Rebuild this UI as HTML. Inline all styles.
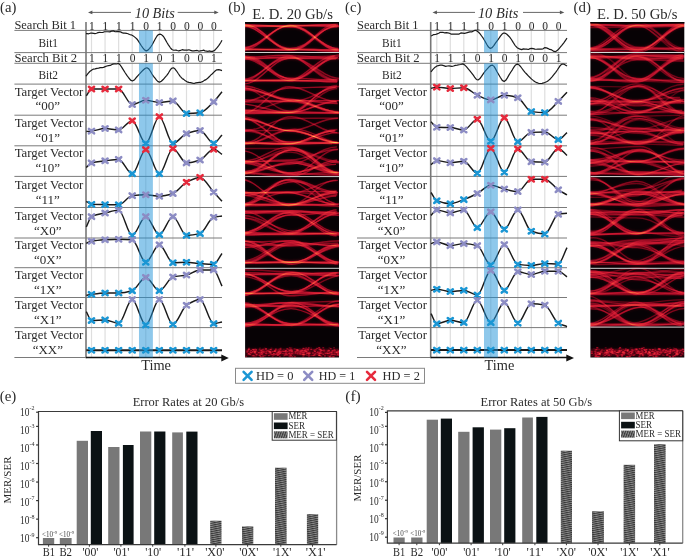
<!DOCTYPE html><html><head><meta charset="utf-8"><style>html,body{margin:0;padding:0;background:#fff;overflow:hidden}svg{display:block;will-change:transform}text{font-family:"Liberation Serif",serif}</style></head><body><svg width="685" height="557" viewBox="0 0 685 557" font-family="Liberation Serif, serif">
<rect x="0" y="0" width="685" height="557" fill="#fff" />
<line x1="91.5" y1="22" x2="91.5" y2="357.5" stroke="#dedede" stroke-width="1.2" />
<line x1="105.07" y1="22" x2="105.07" y2="357.5" stroke="#dedede" stroke-width="1.2" />
<line x1="118.64" y1="22" x2="118.64" y2="357.5" stroke="#dedede" stroke-width="1.2" />
<line x1="132.21" y1="22" x2="132.21" y2="357.5" stroke="#dedede" stroke-width="1.2" />
<line x1="145.78" y1="22" x2="145.78" y2="357.5" stroke="#dedede" stroke-width="1.2" />
<line x1="159.35" y1="22" x2="159.35" y2="357.5" stroke="#dedede" stroke-width="1.2" />
<line x1="172.92" y1="22" x2="172.92" y2="357.5" stroke="#dedede" stroke-width="1.2" />
<line x1="186.49" y1="22" x2="186.49" y2="357.5" stroke="#dedede" stroke-width="1.2" />
<line x1="200.06" y1="22" x2="200.06" y2="357.5" stroke="#dedede" stroke-width="1.2" />
<line x1="213.63" y1="22" x2="213.63" y2="357.5" stroke="#dedede" stroke-width="1.2" />
<line x1="14.4" y1="30.4" x2="222" y2="30.4" stroke="#7a7a7a" stroke-width="1.0" />
<line x1="14.4" y1="52.6" x2="222" y2="52.6" stroke="#7a7a7a" stroke-width="1.0" />
<line x1="14.4" y1="63.3" x2="222" y2="63.3" stroke="#7a7a7a" stroke-width="1.0" />
<line x1="14.4" y1="84.1" x2="222" y2="84.1" stroke="#7a7a7a" stroke-width="1.0" />
<line x1="14.4" y1="115.2" x2="222" y2="115.2" stroke="#7a7a7a" stroke-width="1.0" />
<line x1="14.4" y1="145.8" x2="222" y2="145.8" stroke="#7a7a7a" stroke-width="1.0" />
<line x1="14.4" y1="176.4" x2="222" y2="176.4" stroke="#7a7a7a" stroke-width="1.0" />
<line x1="14.4" y1="207.5" x2="222" y2="207.5" stroke="#7a7a7a" stroke-width="1.0" />
<line x1="14.4" y1="238" x2="222" y2="238" stroke="#7a7a7a" stroke-width="1.0" />
<line x1="14.4" y1="267.7" x2="222" y2="267.7" stroke="#7a7a7a" stroke-width="1.0" />
<line x1="14.4" y1="297.5" x2="222" y2="297.5" stroke="#7a7a7a" stroke-width="1.0" />
<line x1="14.4" y1="327.6" x2="222" y2="327.6" stroke="#7a7a7a" stroke-width="1.0" />
<line x1="14.4" y1="357.5" x2="86" y2="357.5" stroke="#7a7a7a" stroke-width="1.0" />
<line x1="86" y1="22" x2="86" y2="358.2" stroke="#777" stroke-width="1.6" />
<line x1="86" y1="357.5" x2="222" y2="357.5" stroke="#111" stroke-width="1.5" />
<path d="M221.3,354.6L228.8,358.1L221.3,361.6Z" fill="#111"/>
<text x="91.8" y="29.8" font-size="11.5" text-anchor="middle" fill="#2b2b2b" style="" >1</text>
<text x="91.8" y="61.8" font-size="11.5" text-anchor="middle" fill="#2b2b2b" style="" >1</text>
<text x="105.37" y="29.8" font-size="11.5" text-anchor="middle" fill="#2b2b2b" style="" >1</text>
<text x="105.37" y="61.8" font-size="11.5" text-anchor="middle" fill="#2b2b2b" style="" >1</text>
<text x="118.94" y="29.8" font-size="11.5" text-anchor="middle" fill="#2b2b2b" style="" >1</text>
<text x="118.94" y="61.8" font-size="11.5" text-anchor="middle" fill="#2b2b2b" style="" >1</text>
<text x="132.51" y="29.8" font-size="11.5" text-anchor="middle" fill="#2b2b2b" style="" >1</text>
<text x="132.51" y="61.8" font-size="11.5" text-anchor="middle" fill="#2b2b2b" style="" >0</text>
<text x="146.08" y="29.8" font-size="11.5" text-anchor="middle" fill="#2b2b2b" style="" >0</text>
<text x="146.08" y="61.8" font-size="11.5" text-anchor="middle" fill="#2b2b2b" style="" >1</text>
<text x="159.65" y="29.8" font-size="11.5" text-anchor="middle" fill="#2b2b2b" style="" >1</text>
<text x="159.65" y="61.8" font-size="11.5" text-anchor="middle" fill="#2b2b2b" style="" >0</text>
<text x="173.22" y="29.8" font-size="11.5" text-anchor="middle" fill="#2b2b2b" style="" >0</text>
<text x="173.22" y="61.8" font-size="11.5" text-anchor="middle" fill="#2b2b2b" style="" >1</text>
<text x="186.79" y="29.8" font-size="11.5" text-anchor="middle" fill="#2b2b2b" style="" >0</text>
<text x="186.79" y="61.8" font-size="11.5" text-anchor="middle" fill="#2b2b2b" style="" >0</text>
<text x="200.36" y="29.8" font-size="11.5" text-anchor="middle" fill="#2b2b2b" style="" >0</text>
<text x="200.36" y="61.8" font-size="11.5" text-anchor="middle" fill="#2b2b2b" style="" >0</text>
<text x="213.93" y="29.8" font-size="11.5" text-anchor="middle" fill="#2b2b2b" style="" >0</text>
<text x="213.93" y="61.8" font-size="11.5" text-anchor="middle" fill="#2b2b2b" style="" >1</text>
<path d="M86,33.7 L87.08,33.55 L88.62,33.8 L90.36,33.22 L92,33.06 L93.49,33.34 L94.98,33.59 L96.47,33.21 L98,32.62 L99.55,32.4 L101.12,32.5 L102.73,32.48 L104.4,31.73 L106.15,31.76 L107.96,31.73 L109.79,31.82 L111.6,31.14 L113.4,30.88 L115.21,31.75 L116.98,31.65 L118.7,31.68 L120.34,31.83 L121.92,32.64 L123.46,33.15 L125,33.15 L126.52,33.28 L128.01,33.75 L129.5,34.51 L131,34.82 L132.56,35.53 L134.15,36.63 L135.69,37.85 L137.1,39.2 L139.38,42.58 L141.5,46 L143.07,48.12 L144.69,50.03 L146.3,50.9 L147.96,50.11 L149.6,48.3 L151,46.5 L152.32,44.52 L153.5,42.3 L155.22,39.01 L157,36 L158.5,34.51 L160,34.1 L161.73,34.82 L163.5,36.5 L165.05,39.1 L166.8,42.3 L168.4,44.84 L170.21,47.53 L171.9,49.5 L173.64,50.24 L176,50.08 L177.28,50.53 L178.75,50.82 L180.38,50.46 L182.15,49.71 L184.03,50.1 L186,50.16 L187.41,50.19 L188.94,49.76 L190.56,50.31 L192.22,50.89 L193.9,50.95 L195.56,50.71 L197.15,50.46 L198.64,51.03 L200,50.92 L201.84,50.7 L203.53,50.15 L205.08,50.9 L206.5,51.04 L207.8,51.41 L209,50.95 L210.9,51.33 L212.33,51.44 L213.8,50.94 L215.55,49.45 L217.34,47.4 L218.9,45.4 L220.77,42.51 L222,40.3" fill="none" stroke="#1a1a1a" stroke-width="1.2" stroke-linejoin="round"/>
<path d="M86,76.3 L86.79,75.02 L88.1,73.3 L89.77,71.49 L92.2,69.79 L93.56,69.08 L95.15,68.93 L96.86,68.45 L98.61,68.09 L100.3,67.57 L101.93,67.68 L103.57,67.38 L105.22,66.63 L106.86,66.02 L108.5,65.58 L110.22,65.46 L112.02,64.44 L113.79,63.95 L115.39,63.78 L116.7,64.01 L118.32,63.41 L119.8,64.51 L121.33,66.62 L123.2,69.59 L125.14,72.72 L126.9,75.3 L128.84,78 L130.6,80.13 L132.4,81 L134.2,80.01 L136.03,77.76 L138.2,75.3 L139.8,73.66 L141.61,71.66 L143.5,69.73 L145.34,68.3 L147,67.8 L148.8,68.86 L150.42,71.22 L151.96,73.99 L153.5,76.3 L155.03,78.24 L156.51,80.16 L158.01,81.6 L159.6,82.1 L161.34,81.3 L163.18,79.53 L165.02,77.34 L166.8,75.3 L168.42,73.05 L169.95,70.46 L171.53,68.42 L173.3,67.8 L174.89,68.86 L176.59,71.02 L178.37,73.72 L180.21,76.37 L182.1,78.4 L183.72,79.36 L185.4,80.84 L187.11,81.85 L188.85,82.4 L190.58,82.71 L192.3,83.06 L194.02,83.53 L195.77,82.91 L197.53,82.62 L199.25,82.44 L200.92,82.29 L202.5,81.66 L204.3,80.38 L206.02,79.6 L207.67,78.21 L209.23,76.81 L210.7,75.14 L212.39,73.73 L213.94,72.11 L215.39,70.72 L216.8,69.8 L218.79,69.63 L220.69,70.16 L222,70.6" fill="none" stroke="#1a1a1a" stroke-width="1.2" stroke-linejoin="round"/>
<path d="M86.3,95.8 C88.03,93.53 89.77,89 91.5,89 C96.02,89 100.55,89 105.07,89 C109.59,89 114.12,89 118.64,89 C123.16,89 127.69,104.5 132.21,104.5 C136.73,104.5 141.26,100.3 145.78,100.3 C150.3,100.3 154.83,102.5 159.35,102.5 C163.87,102.5 168.4,100.9 172.92,100.9 C177.44,100.9 181.97,113.5 186.49,113.5 C191.01,113.5 195.54,113.2 200.06,112.7 C204.58,112.2 209.11,106.33 213.63,101.9 C216.42,99.17 219.21,95.1 222,91.7" fill="none" stroke="#1a1a1a" stroke-width="1.45"/>
<path d="M86.3,131.5 C88.03,131.37 89.77,131.28 91.5,131.1 C96.02,130.63 100.55,128.5 105.07,128.5 C109.59,128.5 114.12,129.9 118.64,129.9 C123.16,129.9 127.69,120.7 132.21,120.7 C136.73,120.7 141.26,143.4 145.78,143.4 C150.3,143.4 154.83,116.6 159.35,116.6 C163.87,116.6 168.4,143.4 172.92,143.4 C177.44,143.4 181.97,135.17 186.49,133.6 C191.01,132.03 195.54,130.5 200.06,130.5 C204.58,130.5 209.11,143.4 213.63,143.4 C216.42,143.4 219.21,137.8 222,135" fill="none" stroke="#1a1a1a" stroke-width="1.45"/>
<path d="M86.3,167.6 C88.03,166.03 89.77,163.41 91.5,162.9 C96.02,161.56 100.55,161.36 105.07,160.8 C109.59,160.24 114.12,159.4 118.64,159.4 C123.16,159.4 127.69,173.7 132.21,173.7 C136.73,173.7 141.26,149.6 145.78,149.6 C150.3,149.6 154.83,173.7 159.35,173.7 C163.87,173.7 168.4,148.6 172.92,148.6 C177.44,148.6 181.97,162.9 186.49,162.9 C191.01,162.9 195.54,161.52 200.06,160 C204.58,158.48 209.11,149.2 213.63,149.2 C216.42,149.2 219.21,152.6 222,154.3" fill="none" stroke="#1a1a1a" stroke-width="1.45"/>
<path d="M86.3,201.3 C88.03,202.33 89.77,204.34 91.5,204.4 C96.02,204.55 100.55,204.53 105.07,204.6 C109.59,204.67 114.12,204.8 118.64,204.8 C123.16,204.8 127.69,196.09 132.21,195.6 C136.73,195.11 141.26,194.8 145.78,194.8 C150.3,194.8 154.83,196.2 159.35,196.2 C163.87,196.2 168.4,194.95 172.92,193.5 C177.44,192.05 181.97,184.57 186.49,182.3 C191.01,180.03 195.54,177.4 200.06,177.4 C204.58,177.4 209.11,187.16 213.63,192.1 C216.42,195.15 219.21,198.23 222,201.3" fill="none" stroke="#1a1a1a" stroke-width="1.45"/>
<path d="M86.3,226.9 C88.03,223.47 89.77,217.51 91.5,216.6 C96.02,214.21 100.55,214.07 105.07,213 C109.59,211.93 114.12,210.1 118.64,210.1 C123.16,210.1 127.69,235.4 132.21,235.4 C136.73,235.4 141.26,216.6 145.78,216.6 C150.3,216.6 154.83,234.6 159.35,234.6 C163.87,234.6 168.4,216.6 172.92,216.6 C177.44,216.6 181.97,235.4 186.49,235.4 C191.01,235.4 195.54,234.68 200.06,233.6 C204.58,232.52 209.11,218.47 213.63,217.3 C216.42,216.58 219.21,216.43 222,216" fill="none" stroke="#1a1a1a" stroke-width="1.45"/>
<path d="M86.3,243.3 C88.03,242.6 89.77,241.51 91.5,241.2 C96.02,240.38 100.55,240.08 105.07,239.8 C109.59,239.52 114.12,239.2 118.64,239.2 C123.16,239.2 127.69,239.41 132.21,239.8 C136.73,240.19 141.26,262.3 145.78,262.3 C150.3,262.3 154.83,244.7 159.35,244.7 C163.87,244.7 168.4,262.7 172.92,262.7 C177.44,262.7 181.97,262.3 186.49,262.3 C191.01,262.3 195.54,263.42 200.06,263.7 C204.58,263.98 209.11,264.3 213.63,264.3 C216.42,264.3 219.21,257.1 222,253.5" fill="none" stroke="#1a1a1a" stroke-width="1.45"/>
<path d="M86.3,295.4 C88.03,295.07 89.77,294.64 91.5,294.4 C96.02,293.76 100.55,293 105.07,293 C109.59,293 114.12,293 118.64,293 C123.16,293 127.69,292.01 132.21,290.7 C136.73,289.39 141.26,277.4 145.78,277.4 C150.3,277.4 154.83,290.7 159.35,290.7 C163.87,290.7 168.4,278.16 172.92,277 C177.44,275.84 181.97,275.96 186.49,275 C191.01,274.04 195.54,269.9 200.06,269.9 C204.58,269.9 209.11,269.9 213.63,269.9 C216.42,269.9 219.21,280.77 222,286.2" fill="none" stroke="#1a1a1a" stroke-width="1.45"/>
<path d="M86.3,311.7 C88.03,314.63 89.77,320.5 91.5,320.5 C96.02,320.5 100.55,319.9 105.07,319.9 C109.59,319.9 114.12,323.4 118.64,323.4 C123.16,323.4 127.69,299.5 132.21,299.5 C136.73,299.5 141.26,325 145.78,325 C150.3,325 154.83,299.5 159.35,299.5 C163.87,299.5 168.4,324.4 172.92,324.4 C177.44,324.4 181.97,308.13 186.49,305.2 C191.01,302.27 195.54,299.5 200.06,299.5 C204.58,299.5 209.11,323.6 213.63,323.6 C216.42,323.6 219.21,322.53 222,322" fill="none" stroke="#1a1a1a" stroke-width="1.45"/>
<path d="M86.3,350.3 C88.03,350.3 89.77,350.3 91.5,350.3 C96.02,350.3 100.55,350.3 105.07,350.3 C109.59,350.3 114.12,350.3 118.64,350.3 C123.16,350.3 127.69,350.3 132.21,350.3 C136.73,350.3 141.26,350.3 145.78,350.3 C150.3,350.3 154.83,350.3 159.35,350.3 C163.87,350.3 168.4,350.3 172.92,350.3 C177.44,350.3 181.97,350.3 186.49,350.3 C191.01,350.3 195.54,350.3 200.06,350.3 C204.58,350.3 209.11,350.3 213.63,350.3 C216.42,350.3 219.21,350.3 222,350.3" fill="none" stroke="#1a1a1a" stroke-width="2.0"/>
<rect x="138.98" y="30.4" width="13.9" height="22.2" fill="rgb(30,145,215)" fill-opacity="0.5"/>
<rect x="138.98" y="63.3" width="13.9" height="294.2" fill="rgb(30,145,215)" fill-opacity="0.5"/>
<path d="M88.95,86.81L94.05,91.19M94.05,86.81L88.95,91.19" stroke="#e62a3c" stroke-width="2.6" stroke-linecap="round"/>
<path d="M102.52,86.81L107.62,91.19M107.62,86.81L102.52,91.19" stroke="#e62a3c" stroke-width="2.6" stroke-linecap="round"/>
<path d="M116.09,86.81L121.19,91.19M121.19,86.81L116.09,91.19" stroke="#e62a3c" stroke-width="2.6" stroke-linecap="round"/>
<path d="M129.66,102.31L134.76,106.69M134.76,102.31L129.66,106.69" stroke="#8c8cc4" stroke-width="2.6" stroke-linecap="round"/>
<path d="M143.23,98.11L148.33,102.49M148.33,98.11L143.23,102.49" stroke="#8c8cc4" stroke-width="2.6" stroke-linecap="round"/>
<path d="M156.8,100.31L161.9,104.69M161.9,100.31L156.8,104.69" stroke="#8c8cc4" stroke-width="2.6" stroke-linecap="round"/>
<path d="M170.37,98.71L175.47,103.09M175.47,98.71L170.37,103.09" stroke="#8c8cc4" stroke-width="2.6" stroke-linecap="round"/>
<path d="M183.94,111.31L189.04,115.69M189.04,111.31L183.94,115.69" stroke="#1a96d4" stroke-width="2.6" stroke-linecap="round"/>
<path d="M197.51,110.51L202.61,114.89M202.61,110.51L197.51,114.89" stroke="#1a96d4" stroke-width="2.6" stroke-linecap="round"/>
<path d="M211.08,99.71L216.18,104.09M216.18,99.71L211.08,104.09" stroke="#8c8cc4" stroke-width="2.6" stroke-linecap="round"/>
<path d="M88.95,128.91L94.05,133.29M94.05,128.91L88.95,133.29" stroke="#8c8cc4" stroke-width="2.6" stroke-linecap="round"/>
<path d="M102.52,126.31L107.62,130.69M107.62,126.31L102.52,130.69" stroke="#8c8cc4" stroke-width="2.6" stroke-linecap="round"/>
<path d="M116.09,127.71L121.19,132.09M121.19,127.71L116.09,132.09" stroke="#8c8cc4" stroke-width="2.6" stroke-linecap="round"/>
<path d="M129.66,118.51L134.76,122.89M134.76,118.51L129.66,122.89" stroke="#e62a3c" stroke-width="2.6" stroke-linecap="round"/>
<path d="M143.23,141.21L148.33,145.59M148.33,141.21L143.23,145.59" stroke="#1a96d4" stroke-width="2.6" stroke-linecap="round"/>
<path d="M156.8,114.41L161.9,118.79M161.9,114.41L156.8,118.79" stroke="#e62a3c" stroke-width="2.6" stroke-linecap="round"/>
<path d="M170.37,141.21L175.47,145.59M175.47,141.21L170.37,145.59" stroke="#1a96d4" stroke-width="2.6" stroke-linecap="round"/>
<path d="M183.94,131.41L189.04,135.79M189.04,131.41L183.94,135.79" stroke="#8c8cc4" stroke-width="2.6" stroke-linecap="round"/>
<path d="M197.51,128.31L202.61,132.69M202.61,128.31L197.51,132.69" stroke="#8c8cc4" stroke-width="2.6" stroke-linecap="round"/>
<path d="M211.08,141.21L216.18,145.59M216.18,141.21L211.08,145.59" stroke="#1a96d4" stroke-width="2.6" stroke-linecap="round"/>
<path d="M88.95,160.71L94.05,165.09M94.05,160.71L88.95,165.09" stroke="#8c8cc4" stroke-width="2.6" stroke-linecap="round"/>
<path d="M102.52,158.61L107.62,162.99M107.62,158.61L102.52,162.99" stroke="#8c8cc4" stroke-width="2.6" stroke-linecap="round"/>
<path d="M116.09,157.21L121.19,161.59M121.19,157.21L116.09,161.59" stroke="#8c8cc4" stroke-width="2.6" stroke-linecap="round"/>
<path d="M129.66,171.51L134.76,175.89M134.76,171.51L129.66,175.89" stroke="#1a96d4" stroke-width="2.6" stroke-linecap="round"/>
<path d="M143.23,147.41L148.33,151.79M148.33,147.41L143.23,151.79" stroke="#e62a3c" stroke-width="2.6" stroke-linecap="round"/>
<path d="M156.8,171.51L161.9,175.89M161.9,171.51L156.8,175.89" stroke="#1a96d4" stroke-width="2.6" stroke-linecap="round"/>
<path d="M170.37,146.41L175.47,150.79M175.47,146.41L170.37,150.79" stroke="#e62a3c" stroke-width="2.6" stroke-linecap="round"/>
<path d="M183.94,160.71L189.04,165.09M189.04,160.71L183.94,165.09" stroke="#8c8cc4" stroke-width="2.6" stroke-linecap="round"/>
<path d="M197.51,157.81L202.61,162.19M202.61,157.81L197.51,162.19" stroke="#8c8cc4" stroke-width="2.6" stroke-linecap="round"/>
<path d="M211.08,147.01L216.18,151.39M216.18,147.01L211.08,151.39" stroke="#e62a3c" stroke-width="2.6" stroke-linecap="round"/>
<path d="M88.95,202.21L94.05,206.59M94.05,202.21L88.95,206.59" stroke="#1a96d4" stroke-width="2.6" stroke-linecap="round"/>
<path d="M102.52,202.41L107.62,206.79M107.62,202.41L102.52,206.79" stroke="#1a96d4" stroke-width="2.6" stroke-linecap="round"/>
<path d="M116.09,202.61L121.19,206.99M121.19,202.61L116.09,206.99" stroke="#1a96d4" stroke-width="2.6" stroke-linecap="round"/>
<path d="M129.66,193.41L134.76,197.79M134.76,193.41L129.66,197.79" stroke="#8c8cc4" stroke-width="2.6" stroke-linecap="round"/>
<path d="M143.23,192.61L148.33,196.99M148.33,192.61L143.23,196.99" stroke="#8c8cc4" stroke-width="2.6" stroke-linecap="round"/>
<path d="M156.8,194.01L161.9,198.39M161.9,194.01L156.8,198.39" stroke="#8c8cc4" stroke-width="2.6" stroke-linecap="round"/>
<path d="M170.37,191.31L175.47,195.69M175.47,191.31L170.37,195.69" stroke="#8c8cc4" stroke-width="2.6" stroke-linecap="round"/>
<path d="M183.94,180.11L189.04,184.49M189.04,180.11L183.94,184.49" stroke="#e62a3c" stroke-width="2.6" stroke-linecap="round"/>
<path d="M197.51,175.21L202.61,179.59M202.61,175.21L197.51,179.59" stroke="#e62a3c" stroke-width="2.6" stroke-linecap="round"/>
<path d="M211.08,189.91L216.18,194.29M216.18,189.91L211.08,194.29" stroke="#8c8cc4" stroke-width="2.6" stroke-linecap="round"/>
<path d="M88.95,214.41L94.05,218.79M94.05,214.41L88.95,218.79" stroke="#8c8cc4" stroke-width="2.6" stroke-linecap="round"/>
<path d="M102.52,210.81L107.62,215.19M107.62,210.81L102.52,215.19" stroke="#8c8cc4" stroke-width="2.6" stroke-linecap="round"/>
<path d="M116.09,207.91L121.19,212.29M121.19,207.91L116.09,212.29" stroke="#8c8cc4" stroke-width="2.6" stroke-linecap="round"/>
<path d="M129.66,233.21L134.76,237.59M134.76,233.21L129.66,237.59" stroke="#1a96d4" stroke-width="2.6" stroke-linecap="round"/>
<path d="M143.23,214.41L148.33,218.79M148.33,214.41L143.23,218.79" stroke="#8c8cc4" stroke-width="2.6" stroke-linecap="round"/>
<path d="M156.8,232.41L161.9,236.79M161.9,232.41L156.8,236.79" stroke="#1a96d4" stroke-width="2.6" stroke-linecap="round"/>
<path d="M170.37,214.41L175.47,218.79M175.47,214.41L170.37,218.79" stroke="#8c8cc4" stroke-width="2.6" stroke-linecap="round"/>
<path d="M183.94,233.21L189.04,237.59M189.04,233.21L183.94,237.59" stroke="#1a96d4" stroke-width="2.6" stroke-linecap="round"/>
<path d="M197.51,231.41L202.61,235.79M202.61,231.41L197.51,235.79" stroke="#1a96d4" stroke-width="2.6" stroke-linecap="round"/>
<path d="M211.08,215.11L216.18,219.49M216.18,215.11L211.08,219.49" stroke="#8c8cc4" stroke-width="2.6" stroke-linecap="round"/>
<path d="M88.95,239.01L94.05,243.39M94.05,239.01L88.95,243.39" stroke="#8c8cc4" stroke-width="2.6" stroke-linecap="round"/>
<path d="M102.52,237.61L107.62,241.99M107.62,237.61L102.52,241.99" stroke="#8c8cc4" stroke-width="2.6" stroke-linecap="round"/>
<path d="M116.09,237.01L121.19,241.39M121.19,237.01L116.09,241.39" stroke="#8c8cc4" stroke-width="2.6" stroke-linecap="round"/>
<path d="M129.66,237.61L134.76,241.99M134.76,237.61L129.66,241.99" stroke="#8c8cc4" stroke-width="2.6" stroke-linecap="round"/>
<path d="M143.23,260.11L148.33,264.49M148.33,260.11L143.23,264.49" stroke="#1a96d4" stroke-width="2.6" stroke-linecap="round"/>
<path d="M156.8,242.51L161.9,246.89M161.9,242.51L156.8,246.89" stroke="#8c8cc4" stroke-width="2.6" stroke-linecap="round"/>
<path d="M170.37,260.51L175.47,264.89M175.47,260.51L170.37,264.89" stroke="#1a96d4" stroke-width="2.6" stroke-linecap="round"/>
<path d="M183.94,260.11L189.04,264.49M189.04,260.11L183.94,264.49" stroke="#1a96d4" stroke-width="2.6" stroke-linecap="round"/>
<path d="M197.51,261.51L202.61,265.89M202.61,261.51L197.51,265.89" stroke="#1a96d4" stroke-width="2.6" stroke-linecap="round"/>
<path d="M211.08,262.11L216.18,266.49M216.18,262.11L211.08,266.49" stroke="#1a96d4" stroke-width="2.6" stroke-linecap="round"/>
<path d="M88.95,292.21L94.05,296.59M94.05,292.21L88.95,296.59" stroke="#1a96d4" stroke-width="2.6" stroke-linecap="round"/>
<path d="M102.52,290.81L107.62,295.19M107.62,290.81L102.52,295.19" stroke="#1a96d4" stroke-width="2.6" stroke-linecap="round"/>
<path d="M116.09,290.81L121.19,295.19M121.19,290.81L116.09,295.19" stroke="#1a96d4" stroke-width="2.6" stroke-linecap="round"/>
<path d="M129.66,288.51L134.76,292.89M134.76,288.51L129.66,292.89" stroke="#1a96d4" stroke-width="2.6" stroke-linecap="round"/>
<path d="M143.23,275.21L148.33,279.59M148.33,275.21L143.23,279.59" stroke="#8c8cc4" stroke-width="2.6" stroke-linecap="round"/>
<path d="M156.8,288.51L161.9,292.89M161.9,288.51L156.8,292.89" stroke="#1a96d4" stroke-width="2.6" stroke-linecap="round"/>
<path d="M170.37,274.81L175.47,279.19M175.47,274.81L170.37,279.19" stroke="#8c8cc4" stroke-width="2.6" stroke-linecap="round"/>
<path d="M183.94,272.81L189.04,277.19M189.04,272.81L183.94,277.19" stroke="#8c8cc4" stroke-width="2.6" stroke-linecap="round"/>
<path d="M197.51,267.71L202.61,272.09M202.61,267.71L197.51,272.09" stroke="#8c8cc4" stroke-width="2.6" stroke-linecap="round"/>
<path d="M211.08,267.71L216.18,272.09M216.18,267.71L211.08,272.09" stroke="#8c8cc4" stroke-width="2.6" stroke-linecap="round"/>
<path d="M88.95,318.31L94.05,322.69M94.05,318.31L88.95,322.69" stroke="#1a96d4" stroke-width="2.6" stroke-linecap="round"/>
<path d="M102.52,317.71L107.62,322.09M107.62,317.71L102.52,322.09" stroke="#1a96d4" stroke-width="2.6" stroke-linecap="round"/>
<path d="M116.09,321.21L121.19,325.59M121.19,321.21L116.09,325.59" stroke="#1a96d4" stroke-width="2.6" stroke-linecap="round"/>
<path d="M129.66,297.31L134.76,301.69M134.76,297.31L129.66,301.69" stroke="#8c8cc4" stroke-width="2.6" stroke-linecap="round"/>
<path d="M143.23,322.81L148.33,327.19M148.33,322.81L143.23,327.19" stroke="#1a96d4" stroke-width="2.6" stroke-linecap="round"/>
<path d="M156.8,297.31L161.9,301.69M161.9,297.31L156.8,301.69" stroke="#8c8cc4" stroke-width="2.6" stroke-linecap="round"/>
<path d="M170.37,322.21L175.47,326.59M175.47,322.21L170.37,326.59" stroke="#1a96d4" stroke-width="2.6" stroke-linecap="round"/>
<path d="M183.94,303.01L189.04,307.39M189.04,303.01L183.94,307.39" stroke="#8c8cc4" stroke-width="2.6" stroke-linecap="round"/>
<path d="M197.51,297.31L202.61,301.69M202.61,297.31L197.51,301.69" stroke="#8c8cc4" stroke-width="2.6" stroke-linecap="round"/>
<path d="M211.08,321.41L216.18,325.79M216.18,321.41L211.08,325.79" stroke="#1a96d4" stroke-width="2.6" stroke-linecap="round"/>
<path d="M88.95,348.11L94.05,352.49M94.05,348.11L88.95,352.49" stroke="#1a96d4" stroke-width="2.6" stroke-linecap="round"/>
<path d="M102.52,348.11L107.62,352.49M107.62,348.11L102.52,352.49" stroke="#1a96d4" stroke-width="2.6" stroke-linecap="round"/>
<path d="M116.09,348.11L121.19,352.49M121.19,348.11L116.09,352.49" stroke="#1a96d4" stroke-width="2.6" stroke-linecap="round"/>
<path d="M129.66,348.11L134.76,352.49M134.76,348.11L129.66,352.49" stroke="#1a96d4" stroke-width="2.6" stroke-linecap="round"/>
<path d="M143.23,348.11L148.33,352.49M148.33,348.11L143.23,352.49" stroke="#1a96d4" stroke-width="2.6" stroke-linecap="round"/>
<path d="M156.8,348.11L161.9,352.49M161.9,348.11L156.8,352.49" stroke="#1a96d4" stroke-width="2.6" stroke-linecap="round"/>
<path d="M170.37,348.11L175.47,352.49M175.47,348.11L170.37,352.49" stroke="#1a96d4" stroke-width="2.6" stroke-linecap="round"/>
<path d="M183.94,348.11L189.04,352.49M189.04,348.11L183.94,352.49" stroke="#1a96d4" stroke-width="2.6" stroke-linecap="round"/>
<path d="M197.51,348.11L202.61,352.49M202.61,348.11L197.51,352.49" stroke="#1a96d4" stroke-width="2.6" stroke-linecap="round"/>
<path d="M211.08,348.11L216.18,352.49M216.18,348.11L211.08,352.49" stroke="#1a96d4" stroke-width="2.6" stroke-linecap="round"/>
<text x="14.4" y="29" font-size="13" text-anchor="start" fill="#2b2b2b" style="" textLength="61.6" lengthAdjust="spacingAndGlyphs" >Search Bit 1</text>
<text x="14.4" y="62" font-size="13" text-anchor="start" fill="#2b2b2b" style="" textLength="62.6" lengthAdjust="spacingAndGlyphs" >Search Bit 2</text>
<text x="48.2" y="46.8" font-size="13" text-anchor="middle" fill="#2b2b2b" style="" textLength="19.6" lengthAdjust="spacingAndGlyphs" >Bit1</text>
<text x="48.2" y="79" font-size="13" text-anchor="middle" fill="#2b2b2b" style="" textLength="19.6" lengthAdjust="spacingAndGlyphs" >Bit2</text>
<text x="49" y="95.9" font-size="13" text-anchor="middle" fill="#2b2b2b" style="" textLength="68.7" lengthAdjust="spacingAndGlyphs" >Target Vector</text>
<text x="47.8" y="110.4" font-size="13" text-anchor="middle" fill="#2b2b2b" style="" >“00”</text>
<text x="49" y="126.5" font-size="13" text-anchor="middle" fill="#2b2b2b" style="" textLength="68.7" lengthAdjust="spacingAndGlyphs" >Target Vector</text>
<text x="47.8" y="141.6" font-size="13" text-anchor="middle" fill="#2b2b2b" style="" >“01”</text>
<text x="49" y="157" font-size="13" text-anchor="middle" fill="#2b2b2b" style="" textLength="68.7" lengthAdjust="spacingAndGlyphs" >Target Vector</text>
<text x="47.8" y="172.4" font-size="13" text-anchor="middle" fill="#2b2b2b" style="" >“10”</text>
<text x="49" y="189.3" font-size="13" text-anchor="middle" fill="#2b2b2b" style="" textLength="68.7" lengthAdjust="spacingAndGlyphs" >Target Vector</text>
<text x="47.8" y="203.7" font-size="13" text-anchor="middle" fill="#2b2b2b" style="" >“11”</text>
<text x="49" y="219.7" font-size="13" text-anchor="middle" fill="#2b2b2b" style="" textLength="68.7" lengthAdjust="spacingAndGlyphs" >Target Vector</text>
<text x="47.8" y="234.5" font-size="13" text-anchor="middle" fill="#2b2b2b" style="" >“X0”</text>
<text x="49" y="248.9" font-size="13" text-anchor="middle" fill="#2b2b2b" style="" textLength="68.7" lengthAdjust="spacingAndGlyphs" >Target Vector</text>
<text x="47.8" y="263.6" font-size="13" text-anchor="middle" fill="#2b2b2b" style="" >“0X”</text>
<text x="49" y="279" font-size="13" text-anchor="middle" fill="#2b2b2b" style="" textLength="68.7" lengthAdjust="spacingAndGlyphs" >Target Vector</text>
<text x="47.8" y="293.9" font-size="13" text-anchor="middle" fill="#2b2b2b" style="" >“1X”</text>
<text x="49" y="309.3" font-size="13" text-anchor="middle" fill="#2b2b2b" style="" textLength="68.7" lengthAdjust="spacingAndGlyphs" >Target Vector</text>
<text x="47.8" y="323.7" font-size="13" text-anchor="middle" fill="#2b2b2b" style="" >“X1”</text>
<text x="49" y="338.9" font-size="13" text-anchor="middle" fill="#2b2b2b" style="" textLength="68.7" lengthAdjust="spacingAndGlyphs" >Target Vector</text>
<text x="47.8" y="353.7" font-size="13" text-anchor="middle" fill="#2b2b2b" style="" >“XX”</text>
<text x="0" y="11.7" font-size="15" text-anchor="start" fill="#2b2b2b" style="" textLength="16.3" lengthAdjust="spacingAndGlyphs" >(a)</text>
<text x="134.8" y="17.6" font-size="15" text-anchor="start" fill="#2b2b2b" style="font-style:italic;" textLength="40" lengthAdjust="spacingAndGlyphs" >10 Bits</text>
<line x1="91" y1="12.4" x2="131" y2="12.4" stroke="#666" stroke-width="1.0" />
<line x1="177.7" y1="12.4" x2="215.7" y2="12.4" stroke="#666" stroke-width="1.0" />
<path d="M88,12.4L92.4,10.5L92.4,14.3Z" fill="#555"/>
<path d="M218.7,12.4L214.3,10.5L214.3,14.3Z" fill="#555"/>
<text x="141.2" y="370.1" font-size="14" text-anchor="start" fill="#2b2b2b" style="" textLength="29.8" lengthAdjust="spacingAndGlyphs" >Time</text>
<line x1="436.8" y1="22" x2="436.8" y2="357.5" stroke="#dedede" stroke-width="1.2" />
<line x1="450.3" y1="22" x2="450.3" y2="357.5" stroke="#dedede" stroke-width="1.2" />
<line x1="463.8" y1="22" x2="463.8" y2="357.5" stroke="#dedede" stroke-width="1.2" />
<line x1="477.3" y1="22" x2="477.3" y2="357.5" stroke="#dedede" stroke-width="1.2" />
<line x1="490.8" y1="22" x2="490.8" y2="357.5" stroke="#dedede" stroke-width="1.2" />
<line x1="504.3" y1="22" x2="504.3" y2="357.5" stroke="#dedede" stroke-width="1.2" />
<line x1="517.8" y1="22" x2="517.8" y2="357.5" stroke="#dedede" stroke-width="1.2" />
<line x1="531.3" y1="22" x2="531.3" y2="357.5" stroke="#dedede" stroke-width="1.2" />
<line x1="544.8" y1="22" x2="544.8" y2="357.5" stroke="#dedede" stroke-width="1.2" />
<line x1="558.3" y1="22" x2="558.3" y2="357.5" stroke="#dedede" stroke-width="1.2" />
<line x1="357" y1="30.4" x2="567" y2="30.4" stroke="#7a7a7a" stroke-width="1.0" />
<line x1="357" y1="52.6" x2="567" y2="52.6" stroke="#7a7a7a" stroke-width="1.0" />
<line x1="357" y1="63.3" x2="567" y2="63.3" stroke="#7a7a7a" stroke-width="1.0" />
<line x1="357" y1="84.1" x2="567" y2="84.1" stroke="#7a7a7a" stroke-width="1.0" />
<line x1="357" y1="115.2" x2="567" y2="115.2" stroke="#7a7a7a" stroke-width="1.0" />
<line x1="357" y1="145.8" x2="567" y2="145.8" stroke="#7a7a7a" stroke-width="1.0" />
<line x1="357" y1="176.4" x2="567" y2="176.4" stroke="#7a7a7a" stroke-width="1.0" />
<line x1="357" y1="207.5" x2="567" y2="207.5" stroke="#7a7a7a" stroke-width="1.0" />
<line x1="357" y1="238" x2="567" y2="238" stroke="#7a7a7a" stroke-width="1.0" />
<line x1="357" y1="267.7" x2="567" y2="267.7" stroke="#7a7a7a" stroke-width="1.0" />
<line x1="357" y1="297.5" x2="567" y2="297.5" stroke="#7a7a7a" stroke-width="1.0" />
<line x1="357" y1="327.6" x2="567" y2="327.6" stroke="#7a7a7a" stroke-width="1.0" />
<line x1="357" y1="357.5" x2="430.7" y2="357.5" stroke="#7a7a7a" stroke-width="1.0" />
<line x1="430.7" y1="22" x2="430.7" y2="358.2" stroke="#777" stroke-width="1.6" />
<line x1="430.7" y1="357.5" x2="567" y2="357.5" stroke="#111" stroke-width="1.5" />
<path d="M566.3,354.6L574,358.1L566.3,361.6Z" fill="#111"/>
<text x="437.1" y="29.8" font-size="11.5" text-anchor="middle" fill="#2b2b2b" style="" >1</text>
<text x="437.1" y="61.8" font-size="11.5" text-anchor="middle" fill="#2b2b2b" style="" >1</text>
<text x="450.6" y="29.8" font-size="11.5" text-anchor="middle" fill="#2b2b2b" style="" >1</text>
<text x="450.6" y="61.8" font-size="11.5" text-anchor="middle" fill="#2b2b2b" style="" >1</text>
<text x="464.1" y="29.8" font-size="11.5" text-anchor="middle" fill="#2b2b2b" style="" >1</text>
<text x="464.1" y="61.8" font-size="11.5" text-anchor="middle" fill="#2b2b2b" style="" >1</text>
<text x="477.6" y="29.8" font-size="11.5" text-anchor="middle" fill="#2b2b2b" style="" >1</text>
<text x="477.6" y="61.8" font-size="11.5" text-anchor="middle" fill="#2b2b2b" style="" >0</text>
<text x="491.1" y="29.8" font-size="11.5" text-anchor="middle" fill="#2b2b2b" style="" >0</text>
<text x="491.1" y="61.8" font-size="11.5" text-anchor="middle" fill="#2b2b2b" style="" >1</text>
<text x="504.6" y="29.8" font-size="11.5" text-anchor="middle" fill="#2b2b2b" style="" >1</text>
<text x="504.6" y="61.8" font-size="11.5" text-anchor="middle" fill="#2b2b2b" style="" >0</text>
<text x="518.1" y="29.8" font-size="11.5" text-anchor="middle" fill="#2b2b2b" style="" >0</text>
<text x="518.1" y="61.8" font-size="11.5" text-anchor="middle" fill="#2b2b2b" style="" >1</text>
<text x="531.6" y="29.8" font-size="11.5" text-anchor="middle" fill="#2b2b2b" style="" >0</text>
<text x="531.6" y="61.8" font-size="11.5" text-anchor="middle" fill="#2b2b2b" style="" >0</text>
<text x="545.1" y="29.8" font-size="11.5" text-anchor="middle" fill="#2b2b2b" style="" >0</text>
<text x="545.1" y="61.8" font-size="11.5" text-anchor="middle" fill="#2b2b2b" style="" >0</text>
<text x="558.6" y="29.8" font-size="11.5" text-anchor="middle" fill="#2b2b2b" style="" >0</text>
<text x="558.6" y="61.8" font-size="11.5" text-anchor="middle" fill="#2b2b2b" style="" >1</text>
<path d="M431,35.8 L432.12,35.54 L433.72,34.6 L435.51,34.48 L437.2,33.84 L438.73,33.28 L440.26,32.25 L441.78,32.31 L443.3,32.47 L444.82,32.85 L446.34,32.57 L447.87,32.84 L449.4,33.3 L450.92,34.05 L452.44,34.13 L453.98,34.04 L455.6,34.1 L457.31,34.22 L459.09,34.08 L460.9,32.96 L462.7,33.08 L464.5,33.3 L466.3,32.93 L468.1,32.41 L469.9,31.86 L471.7,31.95 L473.51,30.95 L475.29,30.17 L477,31.05 L478.59,32.23 L480.1,33.95 L481.61,36.02 L483.2,38.2 L484.91,40.96 L486.69,44.25 L488.5,47.06 L490.3,48.4 L492.12,47.64 L493.96,45.44 L495.78,42.69 L497.5,40.3 L499.1,38.17 L500.62,35.94 L502.1,34.08 L503.6,33.1 L505.1,33.19 L506.58,34.06 L508.1,35.48 L509.7,37.2 L511.4,39.51 L513.17,42.43 L515.01,45.28 L516.9,47.4 L518.46,48.4 L520.07,49.18 L521.71,49.62 L523.36,48.92 L525,49.1 L526.67,49.15 L528.37,49.49 L530.06,48.66 L531.69,48.43 L533.2,48.6 L534.87,49.17 L536.37,49.27 L537.83,49.13 L539.4,49.21 L541.17,49.15 L543.06,48.8 L544.89,47.62 L546.5,47.87 L548.19,48.6 L549.58,49.43 L551,49.58 L552.5,50.44 L554.02,51.42 L555.7,51.53 L557.15,50.57 L558.72,49.02 L560.31,47.19 L561.8,45.4 L563.79,42.81 L565.69,40.11 L567,38.2" fill="none" stroke="#1a1a1a" stroke-width="1.2" stroke-linejoin="round"/>
<path d="M431,71.9 L432.73,69.68 L435.1,67.2 L436.65,66.18 L438.31,65.54 L440.2,65.15 L441.88,65.13 L443.74,65.59 L445.63,66.33 L447.4,65.98 L448.98,65.94 L450.45,66.04 L451.92,66.35 L453.5,66.01 L455.3,65.36 L457.22,65.16 L459.09,64.74 L460.7,64.47 L462.76,63.88 L464.8,65.07 L466.39,66.68 L468.23,68.84 L470.13,71.19 L471.9,73.3 L473.47,75.44 L474.94,77.71 L476.42,79.45 L478,80 L479.72,78.83 L481.53,76.4 L483.37,73.57 L485.2,71.2 L487.03,69.13 L488.87,67.03 L490.68,65.49 L492.4,65.1 L494.01,66.37 L495.54,68.87 L497.03,71.78 L498.5,74.3 L500.4,77.46 L502.26,80.39 L504.2,81.5 L505.77,80.33 L507.39,77.86 L509.05,74.91 L510.7,72.3 L512.32,69.8 L513.92,67.11 L515.57,64.97 L517.3,64.1 L518.76,64.69 L520.28,66.2 L521.83,68.24 L523.41,70.4 L525,72.3 L526.62,74.01 L528.29,75.79 L529.97,77.52 L531.62,79.1 L533.2,80.4 L535.05,81.67 L536.8,82.65 L538.55,83.28 L540.4,83.5 L541.99,83.36 L543.66,82.95 L545.35,82.3 L547.01,81.44 L548.6,80.4 L550.48,78.73 L552.28,76.67 L554.02,74.45 L555.7,72.3 L557.32,70.02 L558.87,67.57 L560.36,65.44 L561.8,64.1 L563.79,64.09 L565.69,65.2 L567,66.1" fill="none" stroke="#1a1a1a" stroke-width="1.2" stroke-linejoin="round"/>
<path d="M431,88.4 C432.93,87.97 434.87,87.1 436.8,87.1 C441.3,87.1 445.8,88.5 450.3,88.5 C454.8,88.5 459.3,87.7 463.8,87.7 C468.3,87.7 472.8,93.27 477.3,95.2 C481.8,97.13 486.3,99.9 490.8,99.9 C495.3,99.9 499.8,95.2 504.3,95.2 C508.8,95.2 513.3,96.29 517.8,97.7 C522.3,99.11 526.8,110.98 531.3,111.6 C535.8,112.22 540.3,112.6 544.8,112.6 C549.3,112.6 553.8,105.62 558.3,101.4 C561.2,98.68 564.1,95.27 567,92.2" fill="none" stroke="#1a1a1a" stroke-width="1.45"/>
<path d="M431,121.8 C432.93,123.63 434.87,127.24 436.8,127.3 C441.3,127.45 445.8,127.38 450.3,127.5 C454.8,127.62 459.3,130 463.8,130 C468.3,130 472.8,119.2 477.3,119.2 C481.8,119.2 486.3,141.2 490.8,141.2 C495.3,141.2 499.8,117.7 504.3,117.7 C508.8,117.7 513.3,141.8 517.8,141.8 C522.3,141.8 526.8,132.66 531.3,132.4 C535.8,132.14 540.3,132 544.8,132 C549.3,132 553.8,139.6 558.3,139.6 C561.2,139.6 564.1,134.93 567,132.6" fill="none" stroke="#1a1a1a" stroke-width="1.45"/>
<path d="M431,164.7 C432.93,163.33 434.87,160.6 436.8,160.6 C441.3,160.6 445.8,162.7 450.3,162.7 C454.8,162.7 459.3,161.3 463.8,161.3 C468.3,161.3 472.8,173.3 477.3,173.3 C481.8,173.3 486.3,148.4 490.8,148.4 C495.3,148.4 499.8,172.3 504.3,172.3 C508.8,172.3 513.3,149 517.8,149 C522.3,149 526.8,161.44 531.3,161.7 C535.8,161.96 540.3,162.1 544.8,162.1 C549.3,162.1 553.8,148.4 558.3,148.4 C561.2,148.4 564.1,153.13 567,155.5" fill="none" stroke="#1a1a1a" stroke-width="1.45"/>
<path d="M431,192.5 C432.93,195.23 434.87,199.88 436.8,200.7 C441.3,202.61 445.8,203.7 450.3,203.7 C454.8,203.7 459.3,201.23 463.8,199.6 C468.3,197.97 472.8,195.83 477.3,193.5 C481.8,191.17 486.3,185.3 490.8,185.3 C495.3,185.3 499.8,188.01 504.3,189 C508.8,189.99 513.3,191.5 517.8,191.5 C522.3,191.5 526.8,179.2 531.3,179.2 C535.8,179.2 540.3,179.2 544.8,179.2 C549.3,179.2 553.8,186.81 558.3,189.8 C561.2,191.73 564.1,193.2 567,194.9" fill="none" stroke="#1a1a1a" stroke-width="1.45"/>
<path d="M431,215.4 C432.93,213.57 434.87,209.9 436.8,209.9 C441.3,209.9 445.8,212.9 450.3,212.9 C454.8,212.9 459.3,209.9 463.8,209.9 C468.3,209.9 472.8,227.6 477.3,227.6 C481.8,227.6 486.3,211.9 490.8,211.9 C495.3,211.9 499.8,229.3 504.3,229.3 C508.8,229.3 513.3,209.9 517.8,209.9 C522.3,209.9 526.8,229.7 531.3,231.3 C535.8,232.9 540.3,234 544.8,234 C549.3,234 553.8,215.2 558.3,214.3 C561.2,213.72 564.1,213.63 567,213.3" fill="none" stroke="#1a1a1a" stroke-width="1.45"/>
<path d="M431,243.6 C432.93,243.03 434.87,241.9 436.8,241.9 C441.3,241.9 445.8,245.6 450.3,245.6 C454.8,245.6 459.3,243.6 463.8,243.6 C468.3,243.6 472.8,244.39 477.3,245.6 C481.8,246.81 486.3,265 490.8,265 C495.3,265 499.8,244.6 504.3,244.6 C508.8,244.6 513.3,263.77 517.8,264.4 C522.3,265.03 526.8,265.4 531.3,265.4 C535.8,265.4 540.3,263.6 544.8,263.6 C549.3,263.6 553.8,264 558.3,264 C561.2,264 564.1,253.13 567,247.7" fill="none" stroke="#1a1a1a" stroke-width="1.45"/>
<path d="M431,290.4 C432.93,290 434.87,289.2 436.8,289.2 C441.3,289.2 445.8,291.5 450.3,291.5 C454.8,291.5 459.3,290.4 463.8,290.4 C468.3,290.4 472.8,295 477.3,295 C481.8,295 486.3,270.5 490.8,270.5 C495.3,270.5 499.8,290.4 504.3,290.4 C508.8,290.4 513.3,271.7 517.8,271.7 C522.3,271.7 526.8,274.5 531.3,274.5 C535.8,274.5 540.3,271.2 544.8,271.2 C549.3,271.2 553.8,271.2 558.3,271.2 C561.2,271.2 564.1,274.93 567,276.8" fill="none" stroke="#1a1a1a" stroke-width="1.45"/>
<path d="M431,313.7 C432.93,317.07 434.87,323.8 436.8,323.8 C441.3,323.8 445.8,320.3 450.3,320.3 C454.8,320.3 459.3,322.6 463.8,322.6 C468.3,322.6 472.8,300.2 477.3,300.2 C481.8,300.2 486.3,322.6 490.8,322.6 C495.3,322.6 499.8,302.5 504.3,302.5 C508.8,302.5 513.3,323.1 517.8,323.1 C522.3,323.1 526.8,303.7 531.3,303.7 C535.8,303.7 540.3,304.23 544.8,305.1 C549.3,305.97 553.8,320.42 558.3,323.1 C561.2,324.83 564.1,325.43 567,326.6" fill="none" stroke="#1a1a1a" stroke-width="1.45"/>
<path d="M431,350.1 C432.93,350.1 434.87,350.1 436.8,350.1 C441.3,350.1 445.8,350.1 450.3,350.1 C454.8,350.1 459.3,350.1 463.8,350.1 C468.3,350.1 472.8,350.1 477.3,350.1 C481.8,350.1 486.3,350.1 490.8,350.1 C495.3,350.1 499.8,350.1 504.3,350.1 C508.8,350.1 513.3,350.1 517.8,350.1 C522.3,350.1 526.8,350.1 531.3,350.1 C535.8,350.1 540.3,350.1 544.8,350.1 C549.3,350.1 553.8,350.1 558.3,350.1 C561.2,350.1 564.1,350.1 567,350.1" fill="none" stroke="#1a1a1a" stroke-width="2.0"/>
<rect x="484" y="30.4" width="13.9" height="22.2" fill="rgb(30,145,215)" fill-opacity="0.5"/>
<rect x="484" y="63.3" width="13.9" height="294.2" fill="rgb(30,145,215)" fill-opacity="0.5"/>
<path d="M434.25,84.91L439.35,89.29M439.35,84.91L434.25,89.29" stroke="#e62a3c" stroke-width="2.6" stroke-linecap="round"/>
<path d="M447.75,86.31L452.85,90.69M452.85,86.31L447.75,90.69" stroke="#e62a3c" stroke-width="2.6" stroke-linecap="round"/>
<path d="M461.25,85.51L466.35,89.89M466.35,85.51L461.25,89.89" stroke="#e62a3c" stroke-width="2.6" stroke-linecap="round"/>
<path d="M474.75,93.01L479.85,97.39M479.85,93.01L474.75,97.39" stroke="#8c8cc4" stroke-width="2.6" stroke-linecap="round"/>
<path d="M488.25,97.71L493.35,102.09M493.35,97.71L488.25,102.09" stroke="#8c8cc4" stroke-width="2.6" stroke-linecap="round"/>
<path d="M501.75,93.01L506.85,97.39M506.85,93.01L501.75,97.39" stroke="#8c8cc4" stroke-width="2.6" stroke-linecap="round"/>
<path d="M515.25,95.51L520.35,99.89M520.35,95.51L515.25,99.89" stroke="#8c8cc4" stroke-width="2.6" stroke-linecap="round"/>
<path d="M528.75,109.41L533.85,113.79M533.85,109.41L528.75,113.79" stroke="#1a96d4" stroke-width="2.6" stroke-linecap="round"/>
<path d="M542.25,110.41L547.35,114.79M547.35,110.41L542.25,114.79" stroke="#1a96d4" stroke-width="2.6" stroke-linecap="round"/>
<path d="M555.75,99.21L560.85,103.59M560.85,99.21L555.75,103.59" stroke="#8c8cc4" stroke-width="2.6" stroke-linecap="round"/>
<path d="M434.25,125.11L439.35,129.49M439.35,125.11L434.25,129.49" stroke="#8c8cc4" stroke-width="2.6" stroke-linecap="round"/>
<path d="M447.75,125.31L452.85,129.69M452.85,125.31L447.75,129.69" stroke="#8c8cc4" stroke-width="2.6" stroke-linecap="round"/>
<path d="M461.25,127.81L466.35,132.19M466.35,127.81L461.25,132.19" stroke="#8c8cc4" stroke-width="2.6" stroke-linecap="round"/>
<path d="M474.75,117.01L479.85,121.39M479.85,117.01L474.75,121.39" stroke="#e62a3c" stroke-width="2.6" stroke-linecap="round"/>
<path d="M488.25,139.01L493.35,143.39M493.35,139.01L488.25,143.39" stroke="#1a96d4" stroke-width="2.6" stroke-linecap="round"/>
<path d="M501.75,115.51L506.85,119.89M506.85,115.51L501.75,119.89" stroke="#e62a3c" stroke-width="2.6" stroke-linecap="round"/>
<path d="M515.25,139.61L520.35,143.99M520.35,139.61L515.25,143.99" stroke="#1a96d4" stroke-width="2.6" stroke-linecap="round"/>
<path d="M528.75,130.21L533.85,134.59M533.85,130.21L528.75,134.59" stroke="#8c8cc4" stroke-width="2.6" stroke-linecap="round"/>
<path d="M542.25,129.81L547.35,134.19M547.35,129.81L542.25,134.19" stroke="#8c8cc4" stroke-width="2.6" stroke-linecap="round"/>
<path d="M555.75,137.41L560.85,141.79M560.85,137.41L555.75,141.79" stroke="#1a96d4" stroke-width="2.6" stroke-linecap="round"/>
<path d="M434.25,158.41L439.35,162.79M439.35,158.41L434.25,162.79" stroke="#8c8cc4" stroke-width="2.6" stroke-linecap="round"/>
<path d="M447.75,160.51L452.85,164.89M452.85,160.51L447.75,164.89" stroke="#8c8cc4" stroke-width="2.6" stroke-linecap="round"/>
<path d="M461.25,159.11L466.35,163.49M466.35,159.11L461.25,163.49" stroke="#8c8cc4" stroke-width="2.6" stroke-linecap="round"/>
<path d="M474.75,171.11L479.85,175.49M479.85,171.11L474.75,175.49" stroke="#1a96d4" stroke-width="2.6" stroke-linecap="round"/>
<path d="M488.25,146.21L493.35,150.59M493.35,146.21L488.25,150.59" stroke="#e62a3c" stroke-width="2.6" stroke-linecap="round"/>
<path d="M501.75,170.11L506.85,174.49M506.85,170.11L501.75,174.49" stroke="#1a96d4" stroke-width="2.6" stroke-linecap="round"/>
<path d="M515.25,146.81L520.35,151.19M520.35,146.81L515.25,151.19" stroke="#e62a3c" stroke-width="2.6" stroke-linecap="round"/>
<path d="M528.75,159.51L533.85,163.89M533.85,159.51L528.75,163.89" stroke="#8c8cc4" stroke-width="2.6" stroke-linecap="round"/>
<path d="M542.25,159.91L547.35,164.29M547.35,159.91L542.25,164.29" stroke="#8c8cc4" stroke-width="2.6" stroke-linecap="round"/>
<path d="M555.75,146.21L560.85,150.59M560.85,146.21L555.75,150.59" stroke="#e62a3c" stroke-width="2.6" stroke-linecap="round"/>
<path d="M434.25,198.51L439.35,202.89M439.35,198.51L434.25,202.89" stroke="#1a96d4" stroke-width="2.6" stroke-linecap="round"/>
<path d="M447.75,201.51L452.85,205.89M452.85,201.51L447.75,205.89" stroke="#1a96d4" stroke-width="2.6" stroke-linecap="round"/>
<path d="M461.25,197.41L466.35,201.79M466.35,197.41L461.25,201.79" stroke="#1a96d4" stroke-width="2.6" stroke-linecap="round"/>
<path d="M474.75,191.31L479.85,195.69M479.85,191.31L474.75,195.69" stroke="#8c8cc4" stroke-width="2.6" stroke-linecap="round"/>
<path d="M488.25,183.11L493.35,187.49M493.35,183.11L488.25,187.49" stroke="#8c8cc4" stroke-width="2.6" stroke-linecap="round"/>
<path d="M501.75,186.81L506.85,191.19M506.85,186.81L501.75,191.19" stroke="#8c8cc4" stroke-width="2.6" stroke-linecap="round"/>
<path d="M515.25,189.31L520.35,193.69M520.35,189.31L515.25,193.69" stroke="#8c8cc4" stroke-width="2.6" stroke-linecap="round"/>
<path d="M528.75,177.01L533.85,181.39M533.85,177.01L528.75,181.39" stroke="#e62a3c" stroke-width="2.6" stroke-linecap="round"/>
<path d="M542.25,177.01L547.35,181.39M547.35,177.01L542.25,181.39" stroke="#e62a3c" stroke-width="2.6" stroke-linecap="round"/>
<path d="M555.75,187.61L560.85,191.99M560.85,187.61L555.75,191.99" stroke="#8c8cc4" stroke-width="2.6" stroke-linecap="round"/>
<path d="M434.25,207.71L439.35,212.09M439.35,207.71L434.25,212.09" stroke="#8c8cc4" stroke-width="2.6" stroke-linecap="round"/>
<path d="M447.75,210.71L452.85,215.09M452.85,210.71L447.75,215.09" stroke="#8c8cc4" stroke-width="2.6" stroke-linecap="round"/>
<path d="M461.25,207.71L466.35,212.09M466.35,207.71L461.25,212.09" stroke="#8c8cc4" stroke-width="2.6" stroke-linecap="round"/>
<path d="M474.75,225.41L479.85,229.79M479.85,225.41L474.75,229.79" stroke="#1a96d4" stroke-width="2.6" stroke-linecap="round"/>
<path d="M488.25,209.71L493.35,214.09M493.35,209.71L488.25,214.09" stroke="#8c8cc4" stroke-width="2.6" stroke-linecap="round"/>
<path d="M501.75,227.11L506.85,231.49M506.85,227.11L501.75,231.49" stroke="#1a96d4" stroke-width="2.6" stroke-linecap="round"/>
<path d="M515.25,207.71L520.35,212.09M520.35,207.71L515.25,212.09" stroke="#8c8cc4" stroke-width="2.6" stroke-linecap="round"/>
<path d="M528.75,229.11L533.85,233.49M533.85,229.11L528.75,233.49" stroke="#1a96d4" stroke-width="2.6" stroke-linecap="round"/>
<path d="M542.25,231.81L547.35,236.19M547.35,231.81L542.25,236.19" stroke="#1a96d4" stroke-width="2.6" stroke-linecap="round"/>
<path d="M555.75,212.11L560.85,216.49M560.85,212.11L555.75,216.49" stroke="#8c8cc4" stroke-width="2.6" stroke-linecap="round"/>
<path d="M434.25,239.71L439.35,244.09M439.35,239.71L434.25,244.09" stroke="#8c8cc4" stroke-width="2.6" stroke-linecap="round"/>
<path d="M447.75,243.41L452.85,247.79M452.85,243.41L447.75,247.79" stroke="#8c8cc4" stroke-width="2.6" stroke-linecap="round"/>
<path d="M461.25,241.41L466.35,245.79M466.35,241.41L461.25,245.79" stroke="#8c8cc4" stroke-width="2.6" stroke-linecap="round"/>
<path d="M474.75,243.41L479.85,247.79M479.85,243.41L474.75,247.79" stroke="#8c8cc4" stroke-width="2.6" stroke-linecap="round"/>
<path d="M488.25,262.81L493.35,267.19M493.35,262.81L488.25,267.19" stroke="#1a96d4" stroke-width="2.6" stroke-linecap="round"/>
<path d="M501.75,242.41L506.85,246.79M506.85,242.41L501.75,246.79" stroke="#8c8cc4" stroke-width="2.6" stroke-linecap="round"/>
<path d="M515.25,262.21L520.35,266.59M520.35,262.21L515.25,266.59" stroke="#1a96d4" stroke-width="2.6" stroke-linecap="round"/>
<path d="M528.75,263.21L533.85,267.59M533.85,263.21L528.75,267.59" stroke="#1a96d4" stroke-width="2.6" stroke-linecap="round"/>
<path d="M542.25,261.41L547.35,265.79M547.35,261.41L542.25,265.79" stroke="#1a96d4" stroke-width="2.6" stroke-linecap="round"/>
<path d="M555.75,261.81L560.85,266.19M560.85,261.81L555.75,266.19" stroke="#1a96d4" stroke-width="2.6" stroke-linecap="round"/>
<path d="M434.25,287.01L439.35,291.39M439.35,287.01L434.25,291.39" stroke="#1a96d4" stroke-width="2.6" stroke-linecap="round"/>
<path d="M447.75,289.31L452.85,293.69M452.85,289.31L447.75,293.69" stroke="#1a96d4" stroke-width="2.6" stroke-linecap="round"/>
<path d="M461.25,288.21L466.35,292.59M466.35,288.21L461.25,292.59" stroke="#1a96d4" stroke-width="2.6" stroke-linecap="round"/>
<path d="M474.75,292.81L479.85,297.19M479.85,292.81L474.75,297.19" stroke="#1a96d4" stroke-width="2.6" stroke-linecap="round"/>
<path d="M488.25,268.31L493.35,272.69M493.35,268.31L488.25,272.69" stroke="#8c8cc4" stroke-width="2.6" stroke-linecap="round"/>
<path d="M501.75,288.21L506.85,292.59M506.85,288.21L501.75,292.59" stroke="#1a96d4" stroke-width="2.6" stroke-linecap="round"/>
<path d="M515.25,269.51L520.35,273.89M520.35,269.51L515.25,273.89" stroke="#8c8cc4" stroke-width="2.6" stroke-linecap="round"/>
<path d="M528.75,272.31L533.85,276.69M533.85,272.31L528.75,276.69" stroke="#8c8cc4" stroke-width="2.6" stroke-linecap="round"/>
<path d="M542.25,269.01L547.35,273.39M547.35,269.01L542.25,273.39" stroke="#8c8cc4" stroke-width="2.6" stroke-linecap="round"/>
<path d="M555.75,269.01L560.85,273.39M560.85,269.01L555.75,273.39" stroke="#8c8cc4" stroke-width="2.6" stroke-linecap="round"/>
<path d="M434.25,321.61L439.35,325.99M439.35,321.61L434.25,325.99" stroke="#1a96d4" stroke-width="2.6" stroke-linecap="round"/>
<path d="M447.75,318.11L452.85,322.49M452.85,318.11L447.75,322.49" stroke="#1a96d4" stroke-width="2.6" stroke-linecap="round"/>
<path d="M461.25,320.41L466.35,324.79M466.35,320.41L461.25,324.79" stroke="#1a96d4" stroke-width="2.6" stroke-linecap="round"/>
<path d="M474.75,298.01L479.85,302.39M479.85,298.01L474.75,302.39" stroke="#8c8cc4" stroke-width="2.6" stroke-linecap="round"/>
<path d="M488.25,320.41L493.35,324.79M493.35,320.41L488.25,324.79" stroke="#1a96d4" stroke-width="2.6" stroke-linecap="round"/>
<path d="M501.75,300.31L506.85,304.69M506.85,300.31L501.75,304.69" stroke="#8c8cc4" stroke-width="2.6" stroke-linecap="round"/>
<path d="M515.25,320.91L520.35,325.29M520.35,320.91L515.25,325.29" stroke="#1a96d4" stroke-width="2.6" stroke-linecap="round"/>
<path d="M528.75,301.51L533.85,305.89M533.85,301.51L528.75,305.89" stroke="#8c8cc4" stroke-width="2.6" stroke-linecap="round"/>
<path d="M542.25,302.91L547.35,307.29M547.35,302.91L542.25,307.29" stroke="#8c8cc4" stroke-width="2.6" stroke-linecap="round"/>
<path d="M555.75,320.91L560.85,325.29M560.85,320.91L555.75,325.29" stroke="#1a96d4" stroke-width="2.6" stroke-linecap="round"/>
<path d="M434.25,347.91L439.35,352.29M439.35,347.91L434.25,352.29" stroke="#1a96d4" stroke-width="2.6" stroke-linecap="round"/>
<path d="M447.75,347.91L452.85,352.29M452.85,347.91L447.75,352.29" stroke="#1a96d4" stroke-width="2.6" stroke-linecap="round"/>
<path d="M461.25,347.91L466.35,352.29M466.35,347.91L461.25,352.29" stroke="#1a96d4" stroke-width="2.6" stroke-linecap="round"/>
<path d="M474.75,347.91L479.85,352.29M479.85,347.91L474.75,352.29" stroke="#1a96d4" stroke-width="2.6" stroke-linecap="round"/>
<path d="M488.25,347.91L493.35,352.29M493.35,347.91L488.25,352.29" stroke="#1a96d4" stroke-width="2.6" stroke-linecap="round"/>
<path d="M501.75,347.91L506.85,352.29M506.85,347.91L501.75,352.29" stroke="#1a96d4" stroke-width="2.6" stroke-linecap="round"/>
<path d="M515.25,347.91L520.35,352.29M520.35,347.91L515.25,352.29" stroke="#1a96d4" stroke-width="2.6" stroke-linecap="round"/>
<path d="M528.75,347.91L533.85,352.29M533.85,347.91L528.75,352.29" stroke="#1a96d4" stroke-width="2.6" stroke-linecap="round"/>
<path d="M542.25,347.91L547.35,352.29M547.35,347.91L542.25,352.29" stroke="#1a96d4" stroke-width="2.6" stroke-linecap="round"/>
<path d="M555.75,347.91L560.85,352.29M560.85,347.91L555.75,352.29" stroke="#1a96d4" stroke-width="2.6" stroke-linecap="round"/>
<text x="357" y="29" font-size="13" text-anchor="start" fill="#2b2b2b" style="" textLength="61.6" lengthAdjust="spacingAndGlyphs" >Search Bit 1</text>
<text x="357" y="62" font-size="13" text-anchor="start" fill="#2b2b2b" style="" textLength="62.6" lengthAdjust="spacingAndGlyphs" >Search Bit 2</text>
<text x="391.9" y="46.8" font-size="13" text-anchor="middle" fill="#2b2b2b" style="" textLength="19.6" lengthAdjust="spacingAndGlyphs" >Bit1</text>
<text x="391.9" y="79" font-size="13" text-anchor="middle" fill="#2b2b2b" style="" textLength="19.6" lengthAdjust="spacingAndGlyphs" >Bit2</text>
<text x="392.7" y="95.9" font-size="13" text-anchor="middle" fill="#2b2b2b" style="" textLength="68.7" lengthAdjust="spacingAndGlyphs" >Target Vector</text>
<text x="391.5" y="110.4" font-size="13" text-anchor="middle" fill="#2b2b2b" style="" >“00”</text>
<text x="392.7" y="126.5" font-size="13" text-anchor="middle" fill="#2b2b2b" style="" textLength="68.7" lengthAdjust="spacingAndGlyphs" >Target Vector</text>
<text x="391.5" y="141.6" font-size="13" text-anchor="middle" fill="#2b2b2b" style="" >“01”</text>
<text x="392.7" y="157" font-size="13" text-anchor="middle" fill="#2b2b2b" style="" textLength="68.7" lengthAdjust="spacingAndGlyphs" >Target Vector</text>
<text x="391.5" y="172.4" font-size="13" text-anchor="middle" fill="#2b2b2b" style="" >“10”</text>
<text x="392.7" y="189.3" font-size="13" text-anchor="middle" fill="#2b2b2b" style="" textLength="68.7" lengthAdjust="spacingAndGlyphs" >Target Vector</text>
<text x="391.5" y="203.7" font-size="13" text-anchor="middle" fill="#2b2b2b" style="" >“11”</text>
<text x="392.7" y="219.7" font-size="13" text-anchor="middle" fill="#2b2b2b" style="" textLength="68.7" lengthAdjust="spacingAndGlyphs" >Target Vector</text>
<text x="391.5" y="234.5" font-size="13" text-anchor="middle" fill="#2b2b2b" style="" >“X0”</text>
<text x="392.7" y="248.9" font-size="13" text-anchor="middle" fill="#2b2b2b" style="" textLength="68.7" lengthAdjust="spacingAndGlyphs" >Target Vector</text>
<text x="391.5" y="263.6" font-size="13" text-anchor="middle" fill="#2b2b2b" style="" >“0X”</text>
<text x="392.7" y="279" font-size="13" text-anchor="middle" fill="#2b2b2b" style="" textLength="68.7" lengthAdjust="spacingAndGlyphs" >Target Vector</text>
<text x="391.5" y="293.9" font-size="13" text-anchor="middle" fill="#2b2b2b" style="" >“1X”</text>
<text x="392.7" y="309.3" font-size="13" text-anchor="middle" fill="#2b2b2b" style="" textLength="68.7" lengthAdjust="spacingAndGlyphs" >Target Vector</text>
<text x="391.5" y="323.7" font-size="13" text-anchor="middle" fill="#2b2b2b" style="" >“X1”</text>
<text x="392.7" y="338.9" font-size="13" text-anchor="middle" fill="#2b2b2b" style="" textLength="68.7" lengthAdjust="spacingAndGlyphs" >Target Vector</text>
<text x="391.5" y="353.7" font-size="13" text-anchor="middle" fill="#2b2b2b" style="" >“XX”</text>
<text x="345" y="11.7" font-size="15" text-anchor="start" fill="#2b2b2b" style="" textLength="16.3" lengthAdjust="spacingAndGlyphs" >(c)</text>
<text x="477.9" y="17.6" font-size="15" text-anchor="start" fill="#2b2b2b" style="font-style:italic;" textLength="40.4" lengthAdjust="spacingAndGlyphs" >10 Bits</text>
<line x1="435.5" y1="12.4" x2="475" y2="12.4" stroke="#666" stroke-width="1.0" />
<line x1="523" y1="12.4" x2="561.3" y2="12.4" stroke="#666" stroke-width="1.0" />
<path d="M432.5,12.4L436.9,10.5L436.9,14.3Z" fill="#555"/>
<path d="M564.3,12.4L559.9,10.5L559.9,14.3Z" fill="#555"/>
<text x="484.6" y="370.1" font-size="14" text-anchor="start" fill="#2b2b2b" style="" textLength="29.8" lengthAdjust="spacingAndGlyphs" >Time</text>
<defs><filter id="heat" x="0" y="0" width="1" height="1" color-interpolation-filters="sRGB"><feGaussianBlur in="SourceGraphic" stdDeviation="0.7" result="a"/><feGaussianBlur in="SourceGraphic" stdDeviation="1.8" result="b"/><feComposite in="a" in2="b" operator="arithmetic" k1="0" k2="1" k3="0.28" k4="0"/><feColorMatrix type="matrix" values="0 1 0 0 0  0 1 0 0 0  0 1 0 0 0  0 0 0 0 1"/><feComponentTransfer><feFuncR type="table" tableValues="0.03 0.42 0.68 0.82 0.91 0.98 1.0"/><feFuncG type="table" tableValues="0.01 0.02 0.06 0.11 0.22 0.48 0.85"/><feFuncB type="table" tableValues="0.02 0.09 0.16 0.20 0.22 0.25 0.38"/></feComponentTransfer></filter></defs>
<clipPath id="clipb"><rect x="245.1" y="22" width="93.9" height="335.6"/></clipPath>
<g clip-path="url(#clipb)"><g filter="url(#heat)">
<rect x="243.1" y="20" width="97.9" height="339.6" fill="#000" />
<g fill="none" stroke="#fff" stroke-width="1.35">
<path d="M193.36,24.1C209.7,24.1 224.52,25.54 240.86,25.54C258.97,25.54 270.24,26.1 288.36,26.1C307.11,26.1 317.1,24.74 335.86,24.74" stroke-opacity="0.25"/><path d="M197.52,49.14C216.62,49.14 225.92,25.84 245.02,25.84C260.59,25.84 276.95,25.63 292.52,25.63C313.18,25.63 319.36,26.58 340.02,26.58" stroke-opacity="0.27"/><path d="M195.13,24.49C211.5,24.49 226.26,48.18 242.63,48.18C259.28,48.18 273.48,25.29 290.13,25.29C305.63,25.29 322.12,25.33 337.63,25.33" stroke-opacity="0.21"/><path d="M195.44,49.14C213.49,49.14 224.89,47.59 242.94,47.59C261.87,47.59 271.51,25.83 290.44,25.83C308.26,25.83 320.12,23.92 337.94,23.92" stroke-opacity="0.18"/><path d="M195.23,28.17C212.14,28.17 225.82,25.16 242.73,25.16C258.45,25.16 274.51,49.96 290.23,49.96C309.72,49.96 318.24,24.01 337.73,24.01" stroke-opacity="0.2"/><path d="M194.84,49.8C210.19,49.8 227,25.71 242.34,25.71C258.82,25.71 273.36,48.47 289.84,48.47C310.11,48.47 317.07,26.88 337.34,26.88" stroke-opacity="0.21"/><path d="M196,26.1C211.82,26.1 227.69,49.09 243.5,49.09C260.65,49.09 273.86,50.34 291,50.34C311.57,50.34 317.94,25.76 338.5,25.76" stroke-opacity="0.24"/><path d="M196.13,48.5C215.78,48.5 223.97,49.7 243.63,49.7C259.93,49.7 274.82,49.66 291.13,49.66C309.5,49.66 320.25,25.45 338.63,25.45" stroke-opacity="0.2"/><path d="M197.15,25.73C213.64,25.73 228.15,26.56 244.65,26.56C261.45,26.56 275.35,26.08 292.15,26.08C312.75,26.08 319.05,50.15 339.65,50.15" stroke-opacity="0.25"/><path d="M197.5,49.83C217.47,49.83 225.03,24.58 245,24.58C263.82,24.58 273.68,26.96 292.5,26.96C308.38,26.96 324.11,49.42 340,49.42" stroke-opacity="0.27"/><path d="M195.55,25.36C211.38,25.36 227.22,49.88 243.05,49.88C261.55,49.88 272.05,25.31 290.55,25.31C307.21,25.31 321.39,48.4 338.05,48.4" stroke-opacity="0.22"/><path d="M195.22,49.54C213.68,49.54 224.27,48.52 242.72,48.52C262.76,48.52 270.19,25.91 290.22,25.91C306.56,25.91 321.39,50.2 337.72,50.2" stroke-opacity="0.17"/><path d="M195.47,26.59C211.87,26.59 226.56,24.3 242.97,24.3C263.45,24.3 269.98,49.2 290.47,49.2C310.59,49.2 317.85,49.78 337.97,49.78" stroke-opacity="0.22"/><path d="M196.86,47.07C213.49,47.07 227.73,24.83 244.36,24.83C263.52,24.83 272.7,49.4 291.86,49.4C308.6,49.4 322.63,51.44 339.36,51.44" stroke-opacity="0.25"/><path d="M196.93,24.58C215.3,24.58 226.06,48.77 244.43,48.77C264.39,48.77 271.97,49.85 291.93,49.85C310.6,49.85 320.76,50.48 339.43,50.48" stroke-opacity="0.18"/><path d="M195.9,49.47C213.65,49.47 225.64,49.73 243.4,49.73C259.07,49.73 275.23,48.9 290.9,48.9C307.2,48.9 322.1,49.91 338.4,49.91" stroke-opacity="0.19"/>
<path d="M198.36,56.47C217.45,56.47 226.78,56.74 245.86,56.74C264.37,56.74 274.86,55.5 293.36,55.5C309.47,55.5 324.76,58.76 340.86,58.76" stroke-opacity="0.15"/><path d="M191.35,80.32C206.81,80.32 223.39,59.4 238.85,59.4C257.64,59.4 267.56,57.27 286.35,57.27C304.3,57.27 315.9,56.14 333.85,56.14" stroke-opacity="0.24"/><path d="M195.43,55.23C214.77,55.23 223.6,83.98 242.93,83.98C262.09,83.98 271.28,58.23 290.43,58.23C310.07,58.23 318.3,57.63 337.93,57.63" stroke-opacity="0.26"/><path d="M193.62,78.36C211.23,78.36 223.52,79.59 241.12,79.59C260.75,79.59 269,58.34 288.62,58.34C308.64,58.34 316.11,58.81 336.12,58.81" stroke-opacity="0.22"/><path d="M198,56.24C218.72,56.24 224.78,56.24 245.5,56.24C265.61,56.24 272.89,79.31 293,79.31C312.29,79.31 321.22,56.25 340.5,56.25" stroke-opacity="0.2"/><path d="M197,81.19C212.8,81.19 228.71,56.86 244.5,56.86C263.91,56.86 272.6,79.19 292,79.19C307.51,79.19 324,55.04 339.5,55.04" stroke-opacity="0.22"/><path d="M192.7,56.21C209.43,56.21 223.48,80.59 240.2,80.59C255.61,80.59 272.3,80.13 287.7,80.13C304.68,80.13 318.23,55.78 335.2,55.78" stroke-opacity="0.23"/><path d="M194.27,79.02C212.01,79.02 224.04,80.68 241.77,80.68C261.95,80.68 269.1,81.08 289.27,81.08C306.39,81.08 319.66,58.34 336.77,58.34" stroke-opacity="0.23"/><path d="M197.04,57.37C215.54,57.37 226.04,58.11 244.54,58.11C261.6,58.11 274.99,57.84 292.04,57.84C308.12,57.84 323.46,78.42 339.54,78.42" stroke-opacity="0.21"/><path d="M191.47,79.83C208.32,79.83 222.13,58.11 238.97,58.11C255.23,58.11 270.22,55.17 286.47,55.17C304.26,55.17 316.19,79.91 333.97,79.91" stroke-opacity="0.18"/><path d="M194.38,57.25C215.04,57.25 221.22,81.51 241.88,81.51C259.67,81.51 271.58,56.1 289.38,56.1C305.12,56.1 321.13,79.67 336.88,79.67" stroke-opacity="0.15"/><path d="M193.49,82.25C210.5,82.25 223.97,80.7 240.99,80.7C260.62,80.7 268.86,56.77 288.49,56.77C303.93,56.77 320.54,80.17 335.99,80.17" stroke-opacity="0.16"/><path d="M196.1,56.76C214.85,56.76 224.85,57.07 243.6,57.07C261.36,57.07 273.34,80.85 291.1,80.85C309.86,80.85 319.85,79.85 338.6,79.85" stroke-opacity="0.23"/><path d="M194.65,80.74C212.57,80.74 224.23,57.98 242.15,57.98C258.46,57.98 273.34,78.14 289.65,78.14C305.05,78.14 321.75,80.23 337.15,80.23" stroke-opacity="0.21"/><path d="M195.04,56.85C213.71,56.85 223.87,79.89 242.54,79.89C261.98,79.89 270.6,80.37 290.04,80.37C307.51,80.37 320.07,81.41 337.54,81.41" stroke-opacity="0.25"/><path d="M194.57,79.35C210.61,79.35 226.02,80.86 242.07,80.86C259.86,80.86 271.77,80.26 289.57,80.26C308.3,80.26 318.34,81.96 337.07,81.96" stroke-opacity="0.26"/>
<path d="M196.56,113.23C216.33,113.23 224.28,110.53 244.06,110.53C262.87,110.53 272.74,111.33 291.56,111.33C310.78,111.33 319.83,112.9 339.06,112.9" stroke-opacity="0.17"/><path d="M198.61,113.98C214.03,113.98 230.68,90.18 246.11,90.18C264.18,90.18 275.53,101.09 293.61,101.09C309.15,101.09 325.56,112.49 341.11,112.49" stroke-opacity="0.19"/><path d="M193.07,112.96C213.37,112.96 220.26,103.87 240.57,103.87C258.46,103.87 270.18,112.38 288.07,112.38C308.82,112.38 314.81,87.35 335.57,87.35" stroke-opacity="0.26"/><path d="M197.92,112.32C214.83,112.32 228.5,112.96 245.42,112.96C264.71,112.96 273.63,112.48 292.92,112.48C311.72,112.48 321.61,112.8 340.42,112.8" stroke-opacity="0.21"/><path d="M197.18,114.35C214,114.35 227.86,100.82 244.68,100.82C262.71,100.82 274.14,100.71 292.18,100.71C309.75,100.71 322.11,112.11 339.68,112.11" stroke-opacity="0.16"/><path d="M194.63,88.46C215.33,88.46 221.43,112.34 242.13,112.34C258.13,112.34 273.63,112.54 289.63,112.54C305.48,112.54 321.28,88.61 337.13,88.61" stroke-opacity="0.17"/><path d="M197.3,112.48C215.22,112.48 226.88,113.61 244.8,113.61C261.86,113.61 275.24,113.27 292.3,113.27C308.68,113.27 323.42,113.29 339.8,113.29" stroke-opacity="0.22"/><path d="M194.29,99.14C211.55,99.14 224.52,101.8 241.79,101.8C260.48,101.8 270.59,88.08 289.29,88.08C305.2,88.08 320.88,86.76 336.79,86.76" stroke-opacity="0.24"/><path d="M193.5,86.79C212.17,86.79 222.32,111.23 241,111.23C259.25,111.23 270.24,112.74 288.5,112.74C308.52,112.74 315.98,101.32 336,101.32" stroke-opacity="0.21"/><path d="M198.69,99.84C218.42,99.84 226.46,111.25 246.19,111.25C266.42,111.25 273.46,99.97 293.69,99.97C310.74,99.97 324.14,112.76 341.19,112.76" stroke-opacity="0.19"/><path d="M198.54,102.09C216.16,102.09 228.41,102.16 246.04,102.16C265.66,102.16 273.92,101.36 293.54,101.36C309.56,101.36 325.01,86.2 341.04,86.2" stroke-opacity="0.2"/><path d="M195.57,88.61C213.65,88.61 224.99,86.02 243.07,86.02C262.52,86.02 271.13,99.09 290.57,99.09C308.64,99.09 320.01,113.04 338.07,113.04" stroke-opacity="0.23"/><path d="M194.59,103.51C210.56,103.51 226.13,87.54 242.09,87.54C258.37,87.54 273.31,111.12 289.59,111.12C305.79,111.12 320.89,85.36 337.09,85.36" stroke-opacity="0.18"/><path d="M194.16,87.3C212.03,87.3 223.78,113.56 241.66,113.56C259.79,113.56 271.02,86.77 289.16,86.77C306.83,86.77 318.98,101.6 336.66,101.6" stroke-opacity="0.22"/><path d="M195.11,86.17C214.75,86.17 222.98,87.87 242.61,87.87C259.71,87.87 273.02,99.64 290.11,99.64C305.92,99.64 321.81,103.47 337.61,103.47" stroke-opacity="0.25"/><path d="M194.44,112.35C214.72,112.35 221.66,110.04 241.94,110.04C261.31,110.04 270.07,112.53 289.44,112.53C309,112.53 317.39,101.81 336.94,101.81" stroke-opacity="0.25"/><path d="M195.63,112.08C212.83,112.08 225.94,99.57 243.13,99.57C261.01,99.57 272.75,101.62 290.63,101.62C306.03,101.62 322.73,111.69 338.13,111.69" stroke-opacity="0.19"/><path d="M198,112.26C216.43,112.26 227.07,89.01 245.5,89.01C263.73,89.01 274.77,100.89 293,100.89C310.45,100.89 323.05,100.58 340.5,100.58" stroke-opacity="0.27"/>
<path d="M195.28,132.44C211.68,132.44 226.38,118.26 242.78,118.26C260.15,118.26 272.9,142.95 290.28,142.95C306.15,142.95 321.9,142.31 337.78,142.31" stroke-opacity="0.18"/><path d="M195.07,131.02C212.82,131.02 224.82,142.06 242.57,142.06C261.41,142.06 271.24,143.55 290.07,143.55C308.39,143.55 319.25,143.23 337.57,143.23" stroke-opacity="0.23"/><path d="M199.8,117.22C217.42,117.22 229.68,143.1 247.3,143.1C265.49,143.1 276.6,129.15 294.8,129.15C313.38,129.15 323.72,143.03 342.3,143.03" stroke-opacity="0.19"/><path d="M195.33,131.84C214.86,131.84 223.3,144.2 242.83,144.2C261.34,144.2 271.82,130.04 290.33,130.04C309.1,130.04 319.06,143 337.83,143" stroke-opacity="0.2"/><path d="M197.33,145.56C215.26,145.56 226.9,119.21 244.83,119.21C265.44,119.21 271.72,131.24 292.33,131.24C308.99,131.24 323.17,142.88 339.83,142.88" stroke-opacity="0.21"/><path d="M196.2,142.47C216.2,142.47 223.69,130.7 243.7,130.7C260.97,130.7 273.92,130.43 291.2,130.43C307.38,130.43 322.52,142.61 338.7,142.61" stroke-opacity="0.19"/><path d="M189.61,130.68C210.11,130.68 216.61,144.19 237.11,144.19C256.43,144.19 265.29,141.63 284.61,141.63C301.24,141.63 315.47,143.76 332.11,143.76" stroke-opacity="0.16"/><path d="M192.99,130C209.37,130 224.12,142.81 240.49,142.81C257.35,142.81 271.14,144.22 287.99,144.22C304.63,144.22 318.86,130.51 335.49,130.51" stroke-opacity="0.27"/><path d="M196,143.7C215.43,143.7 224.06,130.86 243.5,130.86C263.79,130.86 270.71,118.36 291,118.36C307.21,118.36 322.29,118.06 338.5,118.06" stroke-opacity="0.18"/><path d="M192.31,131.75C208.06,131.75 224.07,143.2 239.81,143.2C255.81,143.2 271.32,143.8 287.31,143.8C307.04,143.8 315.09,130.73 334.81,130.73" stroke-opacity="0.23"/><path d="M194.52,130.27C213.98,130.27 222.57,143.33 242.02,143.33C261.84,143.33 269.71,143.98 289.52,143.98C305.86,143.98 320.69,132.68 337.02,132.68" stroke-opacity="0.23"/><path d="M194.94,142.57C213.99,142.57 223.38,118.48 242.44,118.48C259.4,118.48 272.98,143.18 289.94,143.18C309.48,143.18 317.89,129.53 337.44,129.53" stroke-opacity="0.16"/><path d="M196.26,128.76C213.38,128.76 226.65,143.05 243.76,143.05C264.01,143.05 271.01,116.74 291.26,116.74C308.35,116.74 321.68,132.99 338.76,132.99" stroke-opacity="0.2"/><path d="M197.41,144.29C217.81,144.29 224.5,131.13 244.91,131.13C265.09,131.13 272.22,142.27 292.41,142.27C309.09,142.27 323.22,142.63 339.91,142.63" stroke-opacity="0.19"/><path d="M194.94,128.96C213.49,128.96 223.9,116.82 242.44,116.82C258.75,116.82 273.64,130.72 289.94,130.72C305.77,130.72 321.62,142.14 337.44,142.14" stroke-opacity="0.2"/><path d="M196.12,131.24C216.02,131.24 223.72,118.71 243.62,118.71C261.25,118.71 273.49,131.05 291.12,131.05C309.61,131.05 320.12,142.95 338.62,142.95" stroke-opacity="0.19"/><path d="M195.29,142.94C215.05,142.94 223.02,118.61 242.79,118.61C260.41,118.61 272.66,130.69 290.29,130.69C309.48,130.69 318.59,118.27 337.79,118.27" stroke-opacity="0.21"/><path d="M196.6,142.67C214.58,142.67 226.11,129.52 244.1,129.52C263.8,129.52 271.9,144.32 291.6,144.32C307.33,144.32 323.36,142.76 339.1,142.76" stroke-opacity="0.22"/>
<path d="M194.36,149.85C213.54,149.85 222.67,171.9 241.86,171.9C261.54,171.9 269.67,164.31 289.36,164.31C306.98,164.31 319.23,146.89 336.86,146.89" stroke-opacity="0.2"/><path d="M197.17,160.87C213.99,160.87 227.84,161.58 244.67,161.58C264.81,161.58 272.02,161.03 292.17,161.03C310.06,161.03 321.77,172.65 339.67,172.65" stroke-opacity="0.24"/><path d="M195.29,162C212.58,162 225.5,161.78 242.79,161.78C261.32,161.78 271.76,159.86 290.29,159.86C308.88,159.86 319.2,149.28 337.79,149.28" stroke-opacity="0.21"/><path d="M193.5,174.05C212.23,174.05 222.26,162.96 241,162.96C261.44,162.96 268.05,172.94 288.5,172.94C306.82,172.94 317.67,164.39 336,164.39" stroke-opacity="0.25"/><path d="M195.95,173.55C215.61,173.55 223.78,173.11 243.45,173.11C264.07,173.11 270.32,162.79 290.95,162.79C310.59,162.79 318.8,172.81 338.45,172.81" stroke-opacity="0.24"/><path d="M197.63,149.68C217.71,149.68 225.05,163.09 245.13,163.09C262.73,163.09 275.04,148.2 292.63,148.2C312.16,148.2 320.61,173.52 340.13,173.52" stroke-opacity="0.17"/><path d="M196.89,173.2C213.03,173.2 228.24,161.96 244.39,161.96C260.42,161.96 275.85,172.99 291.89,172.99C309.13,172.99 322.14,161.67 339.39,161.67" stroke-opacity="0.22"/><path d="M195.17,175.42C210.62,175.42 227.23,150.87 242.67,150.87C259.03,150.87 273.81,174.24 290.17,174.24C306.56,174.24 321.29,172.47 337.67,172.47" stroke-opacity="0.23"/><path d="M195.01,172.6C213.36,172.6 224.15,162.73 242.51,162.73C263.25,162.73 269.27,152.16 290.01,152.16C308.96,152.16 318.55,172.74 337.51,172.74" stroke-opacity="0.16"/><path d="M194.85,150.21C212.61,150.21 224.6,161.11 242.35,161.11C262.37,161.11 269.83,147.08 289.85,147.08C309.05,147.08 318.16,173.6 337.35,173.6" stroke-opacity="0.21"/><path d="M196.59,162.32C215.33,162.32 225.35,171.74 244.09,171.74C264.51,171.74 271.17,150.16 291.59,150.16C310.99,150.16 319.69,172.31 339.09,172.31" stroke-opacity="0.27"/><path d="M196.73,173.2C213.56,173.2 227.41,173.83 244.23,173.83C262.12,173.83 273.85,150.17 291.73,150.17C310.54,150.17 320.42,162.8 339.23,162.8" stroke-opacity="0.2"/><path d="M195.92,173.16C213.77,173.16 225.57,148.52 243.42,148.52C262.58,148.52 271.77,148.44 290.92,148.44C306.81,148.44 322.54,161.45 338.42,161.45" stroke-opacity="0.15"/><path d="M195.31,149.33C211.77,149.33 226.36,172.59 242.81,172.59C258.96,172.59 274.17,174.91 290.31,174.91C309.4,174.91 318.73,149.64 337.81,149.64" stroke-opacity="0.21"/><path d="M197.95,172.9C214.71,172.9 228.7,172.99 245.45,172.99C261.82,172.99 276.59,149.24 292.95,149.24C309.96,149.24 323.45,172.85 340.45,172.85" stroke-opacity="0.2"/><path d="M197.46,173.4C214.18,173.4 228.24,173.13 244.96,173.13C263.22,173.13 274.2,162.87 292.46,162.87C309.42,162.87 323,174.64 339.96,174.64" stroke-opacity="0.18"/><path d="M194.62,172.97C213.03,172.97 223.7,173.23 242.12,173.23C257.61,173.23 274.13,176.45 289.62,176.45C308.53,176.45 318.21,160.26 337.12,160.26" stroke-opacity="0.24"/><path d="M197.74,159.29C214.53,159.29 228.46,161.06 245.24,161.06C265.37,161.06 272.62,173.9 292.74,173.9C310.53,173.9 322.45,175.03 340.24,175.03" stroke-opacity="0.24"/>
<path d="M199.07,191.57C217.67,191.57 227.97,204.07 246.57,204.07C262.57,204.07 278.06,204.32 294.07,204.32C313.87,204.32 321.76,206.46 341.57,206.46" stroke-opacity="0.18"/><path d="M195.54,192.89C211.05,192.89 227.52,193.37 243.04,193.37C259.36,193.37 274.22,204 290.54,204C311.22,204 317.35,192.54 338.04,192.54" stroke-opacity="0.27"/><path d="M194.77,191.19C212.2,191.19 224.84,191.82 242.27,191.82C260.7,191.82 271.34,205.1 289.77,205.1C306.05,205.1 320.99,204.56 337.27,204.56" stroke-opacity="0.21"/><path d="M192.63,193.13C210.16,193.13 222.61,194.98 240.13,194.98C258.17,194.98 269.6,205.02 287.63,205.02C303.53,205.02 319.23,192.63 335.13,192.63" stroke-opacity="0.19"/><path d="M194.13,201.6C212.54,201.6 223.23,204.76 241.63,204.76C261.88,204.76 268.89,205.43 289.13,205.43C307.33,205.43 318.44,190.99 336.63,190.99" stroke-opacity="0.21"/><path d="M194.47,205.02C211.85,205.02 224.59,205.13 241.97,205.13C259.06,205.13 272.38,179.4 289.47,179.4C309.09,179.4 317.35,192.05 336.97,192.05" stroke-opacity="0.26"/><path d="M198.87,180.13C217.16,180.13 228.07,195.44 246.37,195.44C265.26,195.44 274.97,181.46 293.87,181.46C314.3,181.46 320.93,204.32 341.37,204.32" stroke-opacity="0.26"/><path d="M193.42,194.62C213.66,194.62 220.69,204.72 240.92,204.72C256.8,204.72 272.55,203.9 288.42,203.9C308.06,203.9 316.29,204.48 335.92,204.48" stroke-opacity="0.16"/><path d="M193.92,204.09C212.13,204.09 223.2,205.89 241.42,205.89C257.52,205.89 272.81,205.05 288.92,205.05C308.01,205.05 317.33,180.12 336.42,180.12" stroke-opacity="0.18"/><path d="M193.75,193.48C211.65,193.48 223.35,179.46 241.25,179.46C257.71,179.46 272.29,205.49 288.75,205.49C305.69,205.49 319.31,196.02 336.25,196.02" stroke-opacity="0.26"/><path d="M193.68,180.19C210.31,180.19 224.56,192.87 241.18,192.87C261.67,192.87 268.2,191.78 288.68,191.78C309.31,191.78 315.55,191.6 336.18,191.6" stroke-opacity="0.23"/><path d="M191.75,192.46C209.5,192.46 221.5,192.85 239.25,192.85C255.02,192.85 270.98,192.37 286.75,192.37C303.3,192.37 317.7,203.79 334.25,203.79" stroke-opacity="0.19"/><path d="M194.87,192C213,192 224.23,192.99 242.37,192.99C263,192.99 269.23,192.68 289.87,192.68C310.06,192.68 317.18,195.14 337.37,195.14" stroke-opacity="0.17"/><path d="M195.4,192.91C215.66,192.91 222.64,192.54 242.9,192.54C258.28,192.54 275.02,193.11 290.4,193.11C308.92,193.11 319.38,180.44 337.9,180.44" stroke-opacity="0.21"/><path d="M194.65,204.17C214.85,204.17 221.95,205.97 242.15,205.97C262.84,205.97 268.96,180.03 289.65,180.03C305.17,180.03 321.62,193.97 337.15,193.97" stroke-opacity="0.21"/><path d="M191.86,204.33C208.94,204.33 222.28,204.8 239.36,204.8C257.32,204.8 268.9,180.17 286.86,180.17C302.37,180.17 318.84,204.83 334.36,204.83" stroke-opacity="0.18"/><path d="M192.86,204.6C212.47,204.6 220.76,203.97 240.36,203.97C259.99,203.97 268.24,192.32 287.86,192.32C304.48,192.32 318.74,204.09 335.36,204.09" stroke-opacity="0.21"/><path d="M195.64,193.76C213.41,193.76 225.37,204.46 243.14,204.46C263.25,204.46 270.53,205.1 290.64,205.1C307.74,205.1 321.04,204.79 338.14,204.79" stroke-opacity="0.22"/>
<path d="M196.03,210.97C211.99,210.97 227.57,211.44 243.53,211.44C259.84,211.44 274.72,210.62 291.03,210.62C309.84,210.62 319.72,213.43 338.53,213.43" stroke-opacity="0.22"/><path d="M196.38,233.52C215.49,233.52 224.77,213.06 243.88,213.06C263.66,213.06 271.6,211.02 291.38,211.02C310.72,211.02 319.54,215.29 338.88,215.29" stroke-opacity="0.25"/><path d="M194.77,213.7C212.8,213.7 224.23,232.65 242.27,232.65C261.18,232.65 270.85,212.24 289.77,212.24C308.33,212.24 318.7,211.76 337.27,211.76" stroke-opacity="0.2"/><path d="M193.09,234.17C213.61,234.17 220.06,233.29 240.59,233.29C256.62,233.29 272.05,215.35 288.09,215.35C307.52,215.35 316.15,212.61 335.59,212.61" stroke-opacity="0.22"/><path d="M197.6,215.47C215.79,215.47 226.91,215.73 245.1,215.73C260.94,215.73 276.76,231.1 292.6,231.1C310.95,231.1 321.74,212.79 340.1,212.79" stroke-opacity="0.21"/><path d="M193.16,233.72C213.79,233.72 220.04,217.92 240.66,217.92C259.32,217.92 269.5,232.75 288.16,232.75C305.11,232.75 318.72,212.28 335.66,212.28" stroke-opacity="0.16"/><path d="M194.18,214.65C214.52,214.65 221.34,232.96 241.68,232.96C258.2,232.96 272.65,234.25 289.18,234.25C305.39,234.25 320.47,214.17 336.68,214.17" stroke-opacity="0.22"/><path d="M194.12,235.73C214.25,235.73 221.49,235.17 241.62,235.17C261.96,235.17 268.77,233.65 289.12,233.65C305.42,233.65 320.32,209.88 336.62,209.88" stroke-opacity="0.26"/><path d="M194.57,214.65C214.21,214.65 222.43,213.01 242.07,213.01C261.77,213.01 269.87,213.09 289.57,213.09C307.51,213.09 319.13,233.9 337.07,233.9" stroke-opacity="0.2"/><path d="M196.11,234.03C214.84,234.03 224.87,210.97 243.61,210.97C259.93,210.97 274.78,211.81 291.11,211.81C309.09,211.81 320.63,232.67 338.61,232.67" stroke-opacity="0.22"/><path d="M194.17,213.01C213.53,213.01 222.31,233.84 241.67,233.84C259.79,233.84 271.06,212.77 289.17,212.77C307.59,212.77 318.26,235.86 336.67,235.86" stroke-opacity="0.23"/><path d="M196.77,232.95C216.32,232.95 224.72,233.79 244.27,233.79C260.36,233.79 275.69,214.32 291.77,214.32C308.42,214.32 322.63,235.06 339.27,235.06" stroke-opacity="0.25"/><path d="M196.83,218.14C213.56,218.14 227.6,217.82 244.33,217.82C264.43,217.82 271.73,234.22 291.83,234.22C310.79,234.22 320.36,232.87 339.33,232.87" stroke-opacity="0.19"/><path d="M197.75,233C213.78,233 229.21,211.88 245.25,211.88C261.72,211.88 276.28,233.05 292.75,233.05C310.31,233.05 322.68,234.11 340.25,234.11" stroke-opacity="0.21"/><path d="M194.08,212.75C214.19,212.75 221.47,232.68 241.58,232.68C261.44,232.68 269.22,232.95 289.08,232.95C307.32,232.95 318.34,233.47 336.58,233.47" stroke-opacity="0.2"/><path d="M196.41,233.96C213.76,233.96 226.56,234.41 243.91,234.41C262.56,234.41 272.76,234.52 291.41,234.52C307.51,234.52 322.81,233.44 338.91,233.44" stroke-opacity="0.25"/>
<path d="M195.63,242.96C211.34,242.96 227.43,240.93 243.13,240.93C263.1,240.93 270.67,246.04 290.63,246.04C309,246.04 319.77,243.22 338.13,243.22" stroke-opacity="0.19"/><path d="M197.99,261.48C214.74,261.48 228.74,245.24 245.49,245.24C265.16,245.24 273.32,245.16 292.99,245.16C308.98,245.16 324.5,240.79 340.49,240.79" stroke-opacity="0.21"/><path d="M196.48,238.85C212.91,238.85 227.54,262.93 243.98,262.93C263.48,262.93 271.97,242.4 291.48,242.4C308.72,242.4 321.74,245.74 338.98,245.74" stroke-opacity="0.24"/><path d="M193.97,264.82C211.9,264.82 223.53,261.33 241.47,261.33C258.2,261.33 272.23,242.62 288.97,242.62C308.93,242.62 316.5,245.72 336.47,245.72" stroke-opacity="0.19"/><path d="M196.97,246.34C214.36,246.34 227.09,241.01 244.47,241.01C264.4,241.01 272.04,264.24 291.97,264.24C308.94,264.24 322.51,245.71 339.47,245.71" stroke-opacity="0.24"/><path d="M196.1,262.42C213.46,262.42 226.24,243.53 243.6,243.53C260.55,243.53 274.15,262.57 291.1,262.57C310.86,262.57 318.84,244.55 338.6,244.55" stroke-opacity="0.26"/><path d="M198.52,241.89C215.03,241.89 229.5,262.11 246.02,262.11C261.77,262.11 277.77,261.76 293.52,261.76C309.12,261.76 325.42,246.23 341.02,246.23" stroke-opacity="0.22"/><path d="M196.59,263.07C214.36,263.07 226.31,262.55 244.09,262.55C264.66,262.55 271.01,262.59 291.59,262.59C309.01,262.59 321.66,244.83 339.09,244.83" stroke-opacity="0.25"/><path d="M198.18,242.42C214.99,242.42 228.88,241.69 245.68,241.69C262.42,241.69 276.44,240.96 293.18,240.96C309.72,240.96 324.15,262.83 340.68,262.83" stroke-opacity="0.21"/><path d="M195.8,262.96C215.74,262.96 223.36,247.5 243.3,247.5C262.79,247.5 271.31,240.76 290.8,240.76C306.57,240.76 322.53,263.93 338.3,263.93" stroke-opacity="0.25"/><path d="M196.03,245.06C215.74,245.06 223.83,261.88 243.53,261.88C260,261.88 274.56,243.41 291.03,243.41C308.52,243.41 321.04,262.13 338.53,262.13" stroke-opacity="0.17"/><path d="M198.14,262.91C217.84,262.91 225.93,262.99 245.64,262.99C262.57,262.99 276.2,244 293.14,244C310.72,244 323.05,262.11 340.64,262.11" stroke-opacity="0.19"/><path d="M194.66,241.96C213.99,241.96 222.82,241.16 242.16,241.16C262.25,241.16 269.56,262.28 289.66,262.28C310.36,262.28 316.46,262.12 337.16,262.12" stroke-opacity="0.25"/><path d="M194,260.87C213.02,260.87 222.48,244.17 241.5,244.17C257.06,244.17 273.44,262.29 289,262.29C307.7,262.29 317.79,263.43 336.5,263.43" stroke-opacity="0.2"/><path d="M195.27,241.36C214.05,241.36 223.99,262.89 242.77,262.89C260.11,262.89 272.94,261.62 290.27,261.62C309.31,261.62 318.73,263.69 337.77,263.69" stroke-opacity="0.17"/><path d="M195.38,262.16C216.05,262.16 222.21,263.18 242.88,263.18C261.7,263.18 271.57,262.32 290.38,262.32C306.4,262.32 321.86,262.36 337.88,262.36" stroke-opacity="0.24"/>
<path d="M195.07,273.47C215.68,273.47 221.95,274.66 242.57,274.66C260.47,274.66 272.17,274.36 290.07,274.36C309.17,274.36 318.47,275.99 337.57,275.99" stroke-opacity="0.25"/><path d="M197.11,294.26C216.06,294.26 225.66,274.88 244.61,274.88C262.05,274.88 274.67,272.97 292.11,272.97C311.13,272.97 320.59,273.42 339.61,273.42" stroke-opacity="0.16"/><path d="M194.36,277.01C214.05,277.01 222.18,295.59 241.86,295.59C259.4,295.59 271.83,274.41 289.36,274.41C309.6,274.41 316.62,272.74 336.86,272.74" stroke-opacity="0.25"/><path d="M196.54,293.88C216.6,293.88 223.99,293.34 244.04,293.34C262.9,293.34 272.68,272.73 291.54,272.73C308.1,272.73 322.49,275.36 339.04,275.36" stroke-opacity="0.24"/><path d="M196.06,272.77C216.09,272.77 223.52,274.14 243.56,274.14C261.29,274.14 273.32,291.8 291.06,291.8C310.91,291.8 318.7,272.35 338.56,272.35" stroke-opacity="0.22"/><path d="M196.17,293.72C216.31,293.72 223.54,276.56 243.67,276.56C260.48,276.56 274.37,291.88 291.17,291.88C309.6,291.88 320.25,272.66 338.67,272.66" stroke-opacity="0.18"/><path d="M193.57,272.31C209.73,272.31 224.9,293.47 241.07,293.47C256.45,293.47 273.19,293.53 288.57,293.53C308.03,293.53 316.61,274.19 336.07,274.19" stroke-opacity="0.23"/><path d="M198.19,292.63C218.91,292.63 224.98,293.81 245.69,293.81C263.25,293.81 275.64,293.02 293.19,293.02C308.71,293.02 325.18,275.63 340.69,275.63" stroke-opacity="0.19"/><path d="M196.39,271.46C212.75,271.46 227.53,272.76 243.89,272.76C260.81,272.76 274.47,274.14 291.39,274.14C308.08,274.14 322.2,294.22 338.89,294.22" stroke-opacity="0.25"/><path d="M196.78,292.39C217.24,292.39 223.83,269.74 244.28,269.74C262.54,269.74 273.52,271.75 291.78,271.75C310.78,271.75 320.29,294.7 339.28,294.7" stroke-opacity="0.18"/><path d="M196.24,275.87C213.56,275.87 226.43,293.17 243.74,293.17C263.24,293.17 271.75,275.46 291.24,275.46C308.02,275.46 321.97,293.39 338.74,293.39" stroke-opacity="0.18"/><path d="M197.82,292.79C216.77,292.79 226.37,293.94 245.32,293.94C265.01,293.94 273.13,272.64 292.82,272.64C312.32,272.64 320.82,292.61 340.32,292.61" stroke-opacity="0.26"/><path d="M195.57,270.18C211.68,270.18 226.97,273.99 243.07,273.99C260.17,273.99 273.48,291.38 290.57,291.38C309.84,291.38 318.81,294.05 338.07,294.05" stroke-opacity="0.21"/><path d="M194.34,292.91C211.37,292.91 224.81,272.66 241.84,272.66C257.55,272.66 273.64,295.77 289.34,295.77C308.22,295.77 317.96,292.31 336.84,292.31" stroke-opacity="0.22"/><path d="M196.79,273.49C213.25,273.49 227.84,293.62 244.29,293.62C261.52,293.62 274.57,293.12 291.79,293.12C307.98,293.12 323.11,293.25 339.29,293.25" stroke-opacity="0.19"/><path d="M196.1,293.56C211.95,293.56 227.74,293.08 243.6,293.08C264.09,293.08 270.61,293.17 291.1,293.17C310.99,293.17 318.71,292.76 338.6,292.76" stroke-opacity="0.24"/>
<path d="M194.35,305.71C212.26,305.71 223.95,304.75 241.85,304.75C262.28,304.75 268.93,306.79 289.35,306.79C307.4,306.79 318.81,305.57 336.85,305.57" stroke-opacity="0.25"/><path d="M196.51,324.12C216.84,324.12 223.68,307.11 244.01,307.11C264.13,307.11 271.4,302.47 291.51,302.47C311.07,302.47 319.46,306.22 339.01,306.22" stroke-opacity="0.21"/><path d="M198.09,307.51C215.3,307.51 228.38,324.59 245.59,324.59C263.32,324.59 275.37,302.53 293.09,302.53C312.3,302.53 321.38,301.22 340.59,301.22" stroke-opacity="0.2"/><path d="M197.79,324.92C217.16,324.92 225.92,326.51 245.29,326.51C262.99,326.51 275.08,303.82 292.79,303.82C310.66,303.82 322.42,306.73 340.29,306.73" stroke-opacity="0.25"/><path d="M197.68,302.85C215.47,302.85 227.39,304.58 245.18,304.58C262.06,304.58 275.8,324.24 292.68,324.24C308.28,324.24 324.59,304.46 340.18,304.46" stroke-opacity="0.15"/><path d="M196.97,323.97C215.69,323.97 225.76,303.59 244.47,303.59C260.83,303.59 275.61,325.5 291.97,325.5C309.85,325.5 321.59,303.95 339.47,303.95" stroke-opacity="0.22"/><path d="M196.64,309.07C216.98,309.07 223.79,325.26 244.14,325.26C263.76,325.26 272.02,324.53 291.64,324.53C307.75,324.53 323.02,300.76 339.14,300.76" stroke-opacity="0.16"/><path d="M196.9,324.87C212.45,324.87 228.85,325.04 244.4,325.04C261.59,325.04 274.7,324.92 291.9,324.92C310.04,324.92 321.25,304.52 339.4,304.52" stroke-opacity="0.19"/><path d="M197.04,304.68C212.96,304.68 228.62,304.9 244.54,304.9C262.27,304.9 274.31,302.73 292.04,302.73C311.48,302.73 320.1,324.96 339.54,324.96" stroke-opacity="0.26"/><path d="M197,324.34C217.61,324.34 223.89,306.5 244.5,306.5C260.2,306.5 276.3,305.52 292,305.52C312.44,305.52 319.06,326.21 339.5,326.21" stroke-opacity="0.25"/><path d="M196.03,305.3C213.63,305.3 225.94,325.23 243.53,325.23C262.2,325.23 272.36,308.65 291.03,308.65C306.54,308.65 323.02,323.53 338.53,323.53" stroke-opacity="0.23"/><path d="M197.12,325.23C215.35,325.23 226.4,323.48 244.62,323.48C261.68,323.48 275.07,305.05 292.12,305.05C312.65,305.05 319.1,325.61 339.62,325.61" stroke-opacity="0.27"/><path d="M194.67,299.21C215.14,299.21 221.71,302.47 242.17,302.47C261.08,302.47 270.77,323.3 289.67,323.3C306.15,323.3 320.7,325.65 337.17,325.65" stroke-opacity="0.17"/><path d="M195.5,322.85C212.35,322.85 226.15,304.71 243,304.71C259.74,304.71 273.75,323.95 290.5,323.95C307.7,323.95 320.79,324.27 338,324.27" stroke-opacity="0.23"/><path d="M195.02,304.52C214.53,304.52 223.01,324.61 242.52,324.61C258.94,324.61 273.59,325.05 290.02,325.05C305.75,325.05 321.79,324.76 337.52,324.76" stroke-opacity="0.18"/><path d="M196.7,322.72C212.71,322.72 228.19,323.63 244.2,323.63C260.06,323.63 275.84,325.38 291.7,325.38C309.82,325.38 321.07,324.41 339.2,324.41" stroke-opacity="0.2"/>
</g>
<g fill="#fff">
<rect x="245.1" y="348.5" width="93.9" height="8" fill="#fff" opacity="0.06"/>
<rect x="290.86" y="352.67" width="1.8" height="1.1" opacity="0.31"/>
<rect x="333.54" y="352.59" width="1.8" height="1.1" opacity="0.06"/>
<rect x="305.33" y="352.2" width="1.8" height="1.1" opacity="0.07"/>
<rect x="283.56" y="354.39" width="1.8" height="1.1" opacity="0.08"/>
<rect x="304.52" y="350.41" width="1.8" height="1.1" opacity="0.17"/>
<rect x="306.27" y="353.34" width="1.8" height="1.1" opacity="0.08"/>
<rect x="306.57" y="354.95" width="1.8" height="1.1" opacity="0.06"/>
<rect x="279.92" y="352.05" width="1.8" height="1.1" opacity="0.17"/>
<rect x="325.57" y="350.38" width="1.8" height="1.1" opacity="0.06"/>
<rect x="326.86" y="353" width="1.8" height="1.1" opacity="0.25"/>
<rect x="254.8" y="350.41" width="1.8" height="1.1" opacity="0.07"/>
<rect x="318.5" y="349.69" width="1.8" height="1.1" opacity="0.06"/>
<rect x="247.91" y="348.8" width="1.8" height="1.1" opacity="0.37"/>
<rect x="320.88" y="349.89" width="1.8" height="1.1" opacity="0.3"/>
<rect x="307.15" y="352.3" width="1.8" height="1.1" opacity="0.07"/>
<rect x="292.08" y="352.54" width="1.8" height="1.1" opacity="0.13"/>
<rect x="305.66" y="353.31" width="1.8" height="1.1" opacity="0.06"/>
<rect x="318.49" y="352.41" width="1.8" height="1.1" opacity="0.12"/>
<rect x="266.46" y="350.73" width="1.8" height="1.1" opacity="0.06"/>
<rect x="337.98" y="351.51" width="1.8" height="1.1" opacity="0.2"/>
<rect x="318.51" y="354.33" width="1.8" height="1.1" opacity="0.17"/>
<rect x="291.3" y="350.65" width="1.8" height="1.1" opacity="0.28"/>
<rect x="293" y="355.17" width="1.8" height="1.1" opacity="0.06"/>
<rect x="334.13" y="354.12" width="1.8" height="1.1" opacity="0.21"/>
<rect x="318.15" y="354.62" width="1.8" height="1.1" opacity="0.36"/>
<rect x="289.11" y="349.91" width="1.8" height="1.1" opacity="0.31"/>
<rect x="285.34" y="353.04" width="1.8" height="1.1" opacity="0.1"/>
<rect x="322.42" y="353.64" width="1.8" height="1.1" opacity="0.31"/>
<rect x="255.22" y="349.28" width="1.8" height="1.1" opacity="0.36"/>
<rect x="317.21" y="353.34" width="1.8" height="1.1" opacity="0.06"/>
<rect x="337.9" y="351.01" width="1.8" height="1.1" opacity="0.08"/>
<rect x="306.66" y="351.46" width="1.8" height="1.1" opacity="0.14"/>
<rect x="273.76" y="350.76" width="1.8" height="1.1" opacity="0.17"/>
<rect x="288.43" y="353.18" width="1.8" height="1.1" opacity="0.37"/>
<rect x="299.81" y="352.32" width="1.8" height="1.1" opacity="0.07"/>
<rect x="328.58" y="352.75" width="1.8" height="1.1" opacity="0.27"/>
<rect x="291.9" y="353.63" width="1.8" height="1.1" opacity="0.07"/>
<rect x="302.51" y="354.13" width="1.8" height="1.1" opacity="0.36"/>
<rect x="311.32" y="354.94" width="1.8" height="1.1" opacity="0.08"/>
<rect x="319.15" y="354.71" width="1.8" height="1.1" opacity="0.06"/>
<rect x="313.59" y="350.43" width="1.8" height="1.1" opacity="0.18"/>
<rect x="282.72" y="353.14" width="1.8" height="1.1" opacity="0.14"/>
<rect x="329.83" y="348.04" width="1.8" height="1.1" opacity="0.25"/>
<rect x="281.31" y="350.75" width="1.8" height="1.1" opacity="0.09"/>
<rect x="265.04" y="348.52" width="1.8" height="1.1" opacity="0.12"/>
<rect x="328.31" y="351.03" width="1.8" height="1.1" opacity="0.07"/>
<rect x="337.37" y="350.64" width="1.8" height="1.1" opacity="0.37"/>
<rect x="331.22" y="351.34" width="1.8" height="1.1" opacity="0.06"/>
<rect x="303.22" y="351.46" width="1.8" height="1.1" opacity="0.08"/>
<rect x="252.95" y="354.89" width="1.8" height="1.1" opacity="0.26"/>
<rect x="280.83" y="350.57" width="1.8" height="1.1" opacity="0.06"/>
<rect x="274.01" y="350.13" width="1.8" height="1.1" opacity="0.15"/>
<rect x="260.27" y="350.3" width="1.8" height="1.1" opacity="0.27"/>
<rect x="307.81" y="353.17" width="1.8" height="1.1" opacity="0.22"/>
<rect x="248.11" y="348.21" width="1.8" height="1.1" opacity="0.15"/>
<rect x="294.04" y="356.16" width="1.8" height="1.1" opacity="0.23"/>
<rect x="279.79" y="350.9" width="1.8" height="1.1" opacity="0.21"/>
<rect x="278.29" y="351.2" width="1.8" height="1.1" opacity="0.08"/>
<rect x="334.59" y="350.28" width="1.8" height="1.1" opacity="0.07"/>
<rect x="315.95" y="347.67" width="1.8" height="1.1" opacity="0.06"/>
<rect x="262.17" y="354.66" width="1.8" height="1.1" opacity="0.1"/>
<rect x="324.6" y="354.42" width="1.8" height="1.1" opacity="0.07"/>
<rect x="299.86" y="353.76" width="1.8" height="1.1" opacity="0.19"/>
<rect x="279.78" y="347.2" width="1.8" height="1.1" opacity="0.06"/>
<rect x="298.26" y="353.69" width="1.8" height="1.1" opacity="0.08"/>
<rect x="268.35" y="353.13" width="1.8" height="1.1" opacity="0.06"/>
<rect x="258.98" y="352.85" width="1.8" height="1.1" opacity="0.09"/>
<rect x="337.97" y="353.37" width="1.8" height="1.1" opacity="0.14"/>
<rect x="281.82" y="352.89" width="1.8" height="1.1" opacity="0.1"/>
<rect x="311.77" y="352.43" width="1.8" height="1.1" opacity="0.18"/>
<rect x="308.54" y="352.49" width="1.8" height="1.1" opacity="0.28"/>
<rect x="289.61" y="354.61" width="1.8" height="1.1" opacity="0.1"/>
<rect x="303.2" y="355.45" width="1.8" height="1.1" opacity="0.07"/>
<rect x="252.85" y="349.59" width="1.8" height="1.1" opacity="0.21"/>
<rect x="258.11" y="351.95" width="1.8" height="1.1" opacity="0.27"/>
<rect x="286.44" y="348.34" width="1.8" height="1.1" opacity="0.32"/>
<rect x="312.7" y="354.75" width="1.8" height="1.1" opacity="0.1"/>
<rect x="322.36" y="347.2" width="1.8" height="1.1" opacity="0.22"/>
<rect x="310.41" y="348.99" width="1.8" height="1.1" opacity="0.2"/>
<rect x="255.68" y="353.92" width="1.8" height="1.1" opacity="0.3"/>
<rect x="254.11" y="351.23" width="1.8" height="1.1" opacity="0.35"/>
<rect x="259.51" y="352.93" width="1.8" height="1.1" opacity="0.08"/>
<rect x="282.97" y="356.03" width="1.8" height="1.1" opacity="0.07"/>
<rect x="310.4" y="348.59" width="1.8" height="1.1" opacity="0.14"/>
<rect x="285.67" y="352.63" width="1.8" height="1.1" opacity="0.13"/>
<rect x="296.15" y="349.17" width="1.8" height="1.1" opacity="0.29"/>
<rect x="316.91" y="351.62" width="1.8" height="1.1" opacity="0.28"/>
<rect x="305.61" y="352.15" width="1.8" height="1.1" opacity="0.11"/>
<rect x="319.69" y="350.78" width="1.8" height="1.1" opacity="0.17"/>
<rect x="288.05" y="349.49" width="1.8" height="1.1" opacity="0.25"/>
<rect x="258.83" y="351.14" width="1.8" height="1.1" opacity="0.06"/>
<rect x="290.58" y="349.59" width="1.8" height="1.1" opacity="0.19"/>
<rect x="277.7" y="351.21" width="1.8" height="1.1" opacity="0.33"/>
<rect x="319.67" y="352.17" width="1.8" height="1.1" opacity="0.08"/>
<rect x="267.7" y="352.95" width="1.8" height="1.1" opacity="0.06"/>
<rect x="261.8" y="356.2" width="1.8" height="1.1" opacity="0.11"/>
<rect x="294.43" y="350.93" width="1.8" height="1.1" opacity="0.07"/>
<rect x="302.69" y="352.55" width="1.8" height="1.1" opacity="0.21"/>
<rect x="291.61" y="356.08" width="1.8" height="1.1" opacity="0.1"/>
<rect x="259.93" y="356.2" width="1.8" height="1.1" opacity="0.14"/>
<rect x="290.58" y="347.2" width="1.8" height="1.1" opacity="0.1"/>
<rect x="273.18" y="353.81" width="1.8" height="1.1" opacity="0.08"/>
<rect x="259.61" y="356.2" width="1.8" height="1.1" opacity="0.23"/>
<rect x="277.07" y="351.4" width="1.8" height="1.1" opacity="0.07"/>
<rect x="262.76" y="355.55" width="1.8" height="1.1" opacity="0.1"/>
<rect x="275.24" y="356.2" width="1.8" height="1.1" opacity="0.06"/>
<rect x="318.27" y="352.9" width="1.8" height="1.1" opacity="0.28"/>
<rect x="336.33" y="348.85" width="1.8" height="1.1" opacity="0.06"/>
<rect x="278.36" y="354.06" width="1.8" height="1.1" opacity="0.2"/>
<rect x="271.71" y="356.06" width="1.8" height="1.1" opacity="0.16"/>
<rect x="269.5" y="352.3" width="1.8" height="1.1" opacity="0.26"/>
<rect x="332.74" y="352.06" width="1.8" height="1.1" opacity="0.07"/>
<rect x="281.3" y="353.06" width="1.8" height="1.1" opacity="0.07"/>
<rect x="253.4" y="349.21" width="1.8" height="1.1" opacity="0.26"/>
<rect x="260.22" y="351.81" width="1.8" height="1.1" opacity="0.17"/>
<rect x="304.41" y="348.22" width="1.8" height="1.1" opacity="0.09"/>
<rect x="284.78" y="352.42" width="1.8" height="1.1" opacity="0.15"/>
<rect x="289.79" y="348.52" width="1.8" height="1.1" opacity="0.21"/>
<rect x="277.21" y="352.49" width="1.8" height="1.1" opacity="0.08"/>
<rect x="312.6" y="355.01" width="1.8" height="1.1" opacity="0.31"/>
<rect x="252.1" y="348.94" width="1.8" height="1.1" opacity="0.33"/>
<rect x="314.1" y="350.87" width="1.8" height="1.1" opacity="0.09"/>
<rect x="245.35" y="356.2" width="1.8" height="1.1" opacity="0.07"/>
<rect x="279.23" y="349.42" width="1.8" height="1.1" opacity="0.1"/>
<rect x="258.18" y="355.03" width="1.8" height="1.1" opacity="0.07"/>
<rect x="283.5" y="350.73" width="1.8" height="1.1" opacity="0.07"/>
<rect x="328.9" y="356.2" width="1.8" height="1.1" opacity="0.33"/>
<rect x="295.48" y="350.79" width="1.8" height="1.1" opacity="0.12"/>
<rect x="308.22" y="354.84" width="1.8" height="1.1" opacity="0.18"/>
<rect x="331.06" y="353.62" width="1.8" height="1.1" opacity="0.31"/>
<rect x="254.55" y="352.76" width="1.8" height="1.1" opacity="0.21"/>
<rect x="247.84" y="352.96" width="1.8" height="1.1" opacity="0.34"/>
<rect x="328.58" y="355.98" width="1.8" height="1.1" opacity="0.08"/>
<rect x="265.48" y="354.42" width="1.8" height="1.1" opacity="0.08"/>
<rect x="259.14" y="347.29" width="1.8" height="1.1" opacity="0.07"/>
<rect x="284.83" y="350.6" width="1.8" height="1.1" opacity="0.26"/>
<rect x="301.67" y="353.98" width="1.8" height="1.1" opacity="0.16"/>
<rect x="328.56" y="347.2" width="1.8" height="1.1" opacity="0.09"/>
<rect x="260.85" y="351.96" width="1.8" height="1.1" opacity="0.33"/>
<rect x="255.24" y="350.46" width="1.8" height="1.1" opacity="0.09"/>
<rect x="273.04" y="354.17" width="1.8" height="1.1" opacity="0.07"/>
<rect x="262.42" y="351.61" width="1.8" height="1.1" opacity="0.18"/>
<rect x="323.75" y="352.16" width="1.8" height="1.1" opacity="0.06"/>
<rect x="279.59" y="348.39" width="1.8" height="1.1" opacity="0.35"/>
<rect x="265.18" y="350.48" width="1.8" height="1.1" opacity="0.1"/>
<rect x="265.48" y="352.82" width="1.8" height="1.1" opacity="0.11"/>
<rect x="328.57" y="351.84" width="1.8" height="1.1" opacity="0.1"/>
<rect x="312.26" y="352.52" width="1.8" height="1.1" opacity="0.15"/>
<rect x="277.79" y="348.72" width="1.8" height="1.1" opacity="0.11"/>
<rect x="263.76" y="347.47" width="1.8" height="1.1" opacity="0.07"/>
<rect x="287.03" y="352.74" width="1.8" height="1.1" opacity="0.07"/>
<rect x="308.1" y="356.2" width="1.8" height="1.1" opacity="0.18"/>
<rect x="300.42" y="349.12" width="1.8" height="1.1" opacity="0.06"/>
<rect x="273.98" y="350.45" width="1.8" height="1.1" opacity="0.06"/>
<rect x="292.45" y="351.7" width="1.8" height="1.1" opacity="0.06"/>
<rect x="268.13" y="350.25" width="1.8" height="1.1" opacity="0.06"/>
<rect x="308.71" y="349.32" width="1.8" height="1.1" opacity="0.06"/>
<rect x="296.86" y="351.74" width="1.8" height="1.1" opacity="0.07"/>
<rect x="307.32" y="352.61" width="1.8" height="1.1" opacity="0.28"/>
<rect x="338" y="352.18" width="1.8" height="1.1" opacity="0.12"/>
<rect x="307.39" y="352.59" width="1.8" height="1.1" opacity="0.07"/>
<rect x="329.33" y="356.2" width="1.8" height="1.1" opacity="0.16"/>
<rect x="332.79" y="356.2" width="1.8" height="1.1" opacity="0.33"/>
<rect x="249.93" y="354.39" width="1.8" height="1.1" opacity="0.06"/>
<rect x="333.75" y="350.6" width="1.8" height="1.1" opacity="0.06"/>
<rect x="259.95" y="352.41" width="1.8" height="1.1" opacity="0.14"/>
<rect x="266.11" y="351.28" width="1.8" height="1.1" opacity="0.07"/>
<rect x="319.75" y="352.94" width="1.8" height="1.1" opacity="0.09"/>
<rect x="249.08" y="352.09" width="1.8" height="1.1" opacity="0.08"/>
<rect x="323.98" y="355.37" width="1.8" height="1.1" opacity="0.31"/>
<rect x="307.18" y="349.31" width="1.8" height="1.1" opacity="0.33"/>
<rect x="258.7" y="354.54" width="1.8" height="1.1" opacity="0.3"/>
<rect x="336.47" y="351.27" width="1.8" height="1.1" opacity="0.06"/>
<rect x="274.95" y="348.39" width="1.8" height="1.1" opacity="0.17"/>
<rect x="270.54" y="347.61" width="1.8" height="1.1" opacity="0.12"/>
<rect x="319.74" y="351.22" width="1.8" height="1.1" opacity="0.08"/>
<rect x="253.66" y="351.56" width="1.8" height="1.1" opacity="0.33"/>
<rect x="335.73" y="351.45" width="1.8" height="1.1" opacity="0.34"/>
<rect x="308" y="354.13" width="1.8" height="1.1" opacity="0.19"/>
<rect x="254.84" y="356.2" width="1.8" height="1.1" opacity="0.13"/>
<rect x="328.08" y="350.05" width="1.8" height="1.1" opacity="0.38"/>
<rect x="290.48" y="350.57" width="1.8" height="1.1" opacity="0.06"/>
<rect x="258.79" y="348.4" width="1.8" height="1.1" opacity="0.12"/>
<rect x="299.39" y="352.47" width="1.8" height="1.1" opacity="0.15"/>
<rect x="271.28" y="354.03" width="1.8" height="1.1" opacity="0.28"/>
<rect x="334.39" y="352.46" width="1.8" height="1.1" opacity="0.06"/>
<rect x="284.5" y="354.87" width="1.8" height="1.1" opacity="0.06"/>
<rect x="247.39" y="351.04" width="1.8" height="1.1" opacity="0.1"/>
<rect x="260.55" y="353.85" width="1.8" height="1.1" opacity="0.29"/>
<rect x="297.3" y="351.43" width="1.8" height="1.1" opacity="0.21"/>
<rect x="268.4" y="351.74" width="1.8" height="1.1" opacity="0.07"/>
<rect x="298.92" y="350.41" width="1.8" height="1.1" opacity="0.18"/>
<rect x="285.01" y="350.29" width="1.8" height="1.1" opacity="0.35"/>
<rect x="290.76" y="350.88" width="1.8" height="1.1" opacity="0.21"/>
<rect x="302.87" y="354.41" width="1.8" height="1.1" opacity="0.13"/>
<rect x="297.26" y="349.67" width="1.8" height="1.1" opacity="0.33"/>
<rect x="316.19" y="353.63" width="1.8" height="1.1" opacity="0.16"/>
<rect x="282.6" y="350.99" width="1.8" height="1.1" opacity="0.22"/>
<rect x="276.66" y="349.7" width="1.8" height="1.1" opacity="0.06"/>
<rect x="289.64" y="349.3" width="1.8" height="1.1" opacity="0.06"/>
<rect x="314.33" y="352.84" width="1.8" height="1.1" opacity="0.21"/>
<rect x="306.67" y="348.63" width="1.8" height="1.1" opacity="0.11"/>
<rect x="291.34" y="353.51" width="1.8" height="1.1" opacity="0.06"/>
<rect x="274.78" y="349.35" width="1.8" height="1.1" opacity="0.19"/>
<rect x="250.84" y="352.14" width="1.8" height="1.1" opacity="0.15"/>
<rect x="249.77" y="352.22" width="1.8" height="1.1" opacity="0.09"/>
<rect x="249.8" y="349.79" width="1.8" height="1.1" opacity="0.06"/>
<rect x="263.21" y="350.64" width="1.8" height="1.1" opacity="0.19"/>
<rect x="254.61" y="351.32" width="1.8" height="1.1" opacity="0.06"/>
<rect x="324.93" y="352.44" width="1.8" height="1.1" opacity="0.07"/>
<rect x="274.46" y="350.43" width="1.8" height="1.1" opacity="0.33"/>
<rect x="305.17" y="349.45" width="1.8" height="1.1" opacity="0.21"/>
<rect x="286.54" y="350.77" width="1.8" height="1.1" opacity="0.07"/>
<rect x="268.03" y="355.06" width="1.8" height="1.1" opacity="0.23"/>
<rect x="270.5" y="350.4" width="1.8" height="1.1" opacity="0.06"/>
<rect x="289.29" y="356.2" width="1.8" height="1.1" opacity="0.22"/>
<rect x="249.21" y="353.87" width="1.8" height="1.1" opacity="0.2"/>
<rect x="288.85" y="347.2" width="1.8" height="1.1" opacity="0.19"/>
<rect x="307.84" y="347.39" width="1.8" height="1.1" opacity="0.3"/>
<rect x="335.8" y="355.01" width="1.8" height="1.1" opacity="0.07"/>
<rect x="269.22" y="351.26" width="1.8" height="1.1" opacity="0.08"/>
<rect x="301.8" y="354.02" width="1.8" height="1.1" opacity="0.25"/>
<rect x="269.39" y="350.93" width="1.8" height="1.1" opacity="0.24"/>
<rect x="307.26" y="348.59" width="1.8" height="1.1" opacity="0.12"/>
<rect x="282.96" y="348.77" width="1.8" height="1.1" opacity="0.06"/>
<rect x="269.67" y="354.16" width="1.8" height="1.1" opacity="0.14"/>
<rect x="330.98" y="352.37" width="1.8" height="1.1" opacity="0.06"/>
<rect x="327.19" y="355.38" width="1.8" height="1.1" opacity="0.14"/>
<rect x="336.07" y="352.18" width="1.8" height="1.1" opacity="0.06"/>
<rect x="259.34" y="354.97" width="1.8" height="1.1" opacity="0.12"/>
<rect x="288.46" y="351.6" width="1.8" height="1.1" opacity="0.08"/>
<rect x="316.79" y="351.3" width="1.8" height="1.1" opacity="0.06"/>
<rect x="275.61" y="352.3" width="1.8" height="1.1" opacity="0.15"/>
<rect x="299.05" y="351.98" width="1.8" height="1.1" opacity="0.09"/>
<rect x="288.22" y="352.84" width="1.8" height="1.1" opacity="0.08"/>
<rect x="337.23" y="352.19" width="1.8" height="1.1" opacity="0.06"/>
<rect x="254.08" y="351.59" width="1.8" height="1.1" opacity="0.24"/>
<rect x="293.98" y="351.09" width="1.8" height="1.1" opacity="0.09"/>
<rect x="331.75" y="350.19" width="1.8" height="1.1" opacity="0.11"/>
<rect x="276.67" y="353.65" width="1.8" height="1.1" opacity="0.35"/>
<rect x="272.56" y="354.69" width="1.8" height="1.1" opacity="0.15"/>
<rect x="265.12" y="348.3" width="1.8" height="1.1" opacity="0.33"/>
<rect x="318.46" y="352.61" width="1.8" height="1.1" opacity="0.12"/>
<rect x="289.32" y="351.33" width="1.8" height="1.1" opacity="0.12"/>
<rect x="303.56" y="353.68" width="1.8" height="1.1" opacity="0.14"/>
<rect x="333.11" y="347.2" width="1.8" height="1.1" opacity="0.17"/>
<rect x="284.09" y="352.78" width="1.8" height="1.1" opacity="0.07"/>
<rect x="336.79" y="351.88" width="1.8" height="1.1" opacity="0.18"/>
<rect x="262.16" y="355.77" width="1.8" height="1.1" opacity="0.17"/>
<rect x="331.95" y="351.02" width="1.8" height="1.1" opacity="0.08"/>
<rect x="319.17" y="352.57" width="1.8" height="1.1" opacity="0.06"/>
<rect x="335.76" y="352" width="1.8" height="1.1" opacity="0.35"/>
<rect x="263.11" y="351.72" width="1.8" height="1.1" opacity="0.16"/>
<rect x="245.3" y="356.2" width="1.8" height="1.1" opacity="0.13"/>
<rect x="302.23" y="356.2" width="1.8" height="1.1" opacity="0.14"/>
<rect x="318" y="347.2" width="1.8" height="1.1" opacity="0.08"/>
<rect x="320.8" y="352.09" width="1.8" height="1.1" opacity="0.11"/>
<rect x="253.18" y="356.2" width="1.8" height="1.1" opacity="0.16"/>
<rect x="267.88" y="349.69" width="1.8" height="1.1" opacity="0.11"/>
<rect x="314.12" y="350.8" width="1.8" height="1.1" opacity="0.23"/>
<rect x="302.61" y="352.25" width="1.8" height="1.1" opacity="0.24"/>
<rect x="336.76" y="353.47" width="1.8" height="1.1" opacity="0.3"/>
<rect x="331.14" y="350.45" width="1.8" height="1.1" opacity="0.06"/>
<rect x="322.7" y="350.21" width="1.8" height="1.1" opacity="0.23"/>
<rect x="298.7" y="351.48" width="1.8" height="1.1" opacity="0.07"/>
<rect x="248.25" y="347.2" width="1.8" height="1.1" opacity="0.06"/>
<rect x="269.98" y="352.7" width="1.8" height="1.1" opacity="0.07"/>
<rect x="285.53" y="355.07" width="1.8" height="1.1" opacity="0.07"/>
<rect x="247.27" y="354.03" width="1.8" height="1.1" opacity="0.06"/>
<rect x="313.38" y="349.5" width="1.8" height="1.1" opacity="0.19"/>
<rect x="296.23" y="349.93" width="1.8" height="1.1" opacity="0.14"/>
<rect x="319.47" y="348.89" width="1.8" height="1.1" opacity="0.34"/>
<rect x="327.42" y="353.27" width="1.8" height="1.1" opacity="0.08"/>
<rect x="301.23" y="352.55" width="1.8" height="1.1" opacity="0.17"/>
<rect x="337.68" y="350.27" width="1.8" height="1.1" opacity="0.09"/>
<rect x="300.91" y="352.25" width="1.8" height="1.1" opacity="0.06"/>
<rect x="299.62" y="351.37" width="1.8" height="1.1" opacity="0.11"/>
<rect x="323.13" y="348.87" width="1.8" height="1.1" opacity="0.1"/>
<rect x="284.73" y="353.7" width="1.8" height="1.1" opacity="0.3"/>
<rect x="272.94" y="353.01" width="1.8" height="1.1" opacity="0.35"/>
<rect x="314.54" y="349.33" width="1.8" height="1.1" opacity="0.06"/>
<rect x="265.11" y="352.89" width="1.8" height="1.1" opacity="0.2"/>
<rect x="251.29" y="355.4" width="1.8" height="1.1" opacity="0.1"/>
<rect x="278.98" y="351.29" width="1.8" height="1.1" opacity="0.13"/>
<rect x="268.9" y="350.81" width="1.8" height="1.1" opacity="0.07"/>
<rect x="247.45" y="349.66" width="1.8" height="1.1" opacity="0.24"/>
<rect x="299.41" y="352.81" width="1.8" height="1.1" opacity="0.06"/>
<rect x="315.41" y="349.25" width="1.8" height="1.1" opacity="0.1"/>
<rect x="333.65" y="349.38" width="1.8" height="1.1" opacity="0.26"/>
<rect x="291.03" y="356.2" width="1.8" height="1.1" opacity="0.14"/>
<rect x="329.28" y="355.18" width="1.8" height="1.1" opacity="0.06"/>
<rect x="249.58" y="351.09" width="1.8" height="1.1" opacity="0.13"/>
<rect x="296.87" y="351.34" width="1.8" height="1.1" opacity="0.09"/>
<rect x="285.29" y="351.98" width="1.8" height="1.1" opacity="0.06"/>
<rect x="245.94" y="350.46" width="1.8" height="1.1" opacity="0.1"/>
<rect x="265.17" y="351.4" width="1.8" height="1.1" opacity="0.22"/>
<rect x="258.71" y="349.37" width="1.8" height="1.1" opacity="0.15"/>
<rect x="282.06" y="350.49" width="1.8" height="1.1" opacity="0.11"/>
<rect x="318.33" y="348.74" width="1.8" height="1.1" opacity="0.18"/>
<rect x="264.3" y="348.69" width="1.8" height="1.1" opacity="0.06"/>
<rect x="329.69" y="351.45" width="1.8" height="1.1" opacity="0.07"/>
<rect x="247.04" y="351.39" width="1.8" height="1.1" opacity="0.06"/>
<rect x="299.21" y="350.83" width="1.8" height="1.1" opacity="0.09"/>
<rect x="303.13" y="350.15" width="1.8" height="1.1" opacity="0.1"/>
<rect x="274.98" y="353.68" width="1.8" height="1.1" opacity="0.29"/>
<rect x="310.25" y="347.2" width="1.8" height="1.1" opacity="0.06"/>
<rect x="330.33" y="352.24" width="1.8" height="1.1" opacity="0.14"/>
<rect x="278.46" y="349.98" width="1.8" height="1.1" opacity="0.16"/>
<rect x="301.02" y="350.4" width="1.8" height="1.1" opacity="0.33"/>
<rect x="318.3" y="354.81" width="1.8" height="1.1" opacity="0.31"/>
<rect x="261.42" y="353.07" width="1.8" height="1.1" opacity="0.25"/>
<rect x="289.05" y="354.61" width="1.8" height="1.1" opacity="0.18"/>
<rect x="277.45" y="352.05" width="1.8" height="1.1" opacity="0.29"/>
<rect x="289.61" y="349.8" width="1.8" height="1.1" opacity="0.06"/>
<rect x="290.89" y="349.61" width="1.8" height="1.1" opacity="0.24"/>
<rect x="316.32" y="347.89" width="1.8" height="1.1" opacity="0.21"/>
<rect x="332.52" y="353.81" width="1.8" height="1.1" opacity="0.17"/>
<rect x="315.86" y="352.11" width="1.8" height="1.1" opacity="0.14"/>
<rect x="294.64" y="348.71" width="1.8" height="1.1" opacity="0.12"/>
<rect x="329.54" y="354.47" width="1.8" height="1.1" opacity="0.18"/>
<rect x="296.54" y="353.07" width="1.8" height="1.1" opacity="0.21"/>
<rect x="250.09" y="352.16" width="1.8" height="1.1" opacity="0.25"/>
<rect x="265.64" y="353.53" width="1.8" height="1.1" opacity="0.06"/>
<rect x="330.92" y="352.02" width="1.8" height="1.1" opacity="0.09"/>
<rect x="246.49" y="350.23" width="1.8" height="1.1" opacity="0.07"/>
<rect x="261.18" y="353.6" width="1.8" height="1.1" opacity="0.07"/>
<rect x="254.04" y="351.14" width="1.8" height="1.1" opacity="0.16"/>
<rect x="326.88" y="350.46" width="1.8" height="1.1" opacity="0.3"/>
<rect x="319.38" y="348.36" width="1.8" height="1.1" opacity="0.08"/>
<rect x="320.98" y="353.06" width="1.8" height="1.1" opacity="0.1"/>
<rect x="269.77" y="348.97" width="1.8" height="1.1" opacity="0.38"/>
<rect x="319.72" y="352.84" width="1.8" height="1.1" opacity="0.29"/>
<rect x="271.58" y="351.14" width="1.8" height="1.1" opacity="0.19"/>
<rect x="248.75" y="354" width="1.8" height="1.1" opacity="0.13"/>
<rect x="293.58" y="348.3" width="1.8" height="1.1" opacity="0.16"/>
<rect x="288.1" y="355.65" width="1.8" height="1.1" opacity="0.1"/>
<rect x="332.81" y="354.09" width="1.8" height="1.1" opacity="0.08"/>
<rect x="299" y="353.26" width="1.8" height="1.1" opacity="0.2"/>
<rect x="326.18" y="352.18" width="1.8" height="1.1" opacity="0.15"/>
<rect x="276.3" y="352.84" width="1.8" height="1.1" opacity="0.12"/>
<rect x="296.76" y="353.64" width="1.8" height="1.1" opacity="0.1"/>
<rect x="333.83" y="352.26" width="1.8" height="1.1" opacity="0.15"/>
<rect x="255.57" y="354.55" width="1.8" height="1.1" opacity="0.22"/>
<rect x="314.85" y="348.74" width="1.8" height="1.1" opacity="0.12"/>
<rect x="337.04" y="354.24" width="1.8" height="1.1" opacity="0.16"/>
<rect x="250.3" y="349.93" width="1.8" height="1.1" opacity="0.22"/>
<rect x="251.47" y="351.74" width="1.8" height="1.1" opacity="0.14"/>
<rect x="332.04" y="350.09" width="1.8" height="1.1" opacity="0.2"/>
<rect x="320.57" y="356.2" width="1.8" height="1.1" opacity="0.18"/>
<rect x="246.24" y="351.46" width="1.8" height="1.1" opacity="0.23"/>
<rect x="330.99" y="350.44" width="1.8" height="1.1" opacity="0.09"/>
<rect x="261.57" y="350.76" width="1.8" height="1.1" opacity="0.31"/>
<rect x="293.7" y="353.25" width="1.8" height="1.1" opacity="0.07"/>
<rect x="319.1" y="351.58" width="1.8" height="1.1" opacity="0.08"/>
<rect x="260.48" y="349.74" width="1.8" height="1.1" opacity="0.22"/>
<rect x="318.58" y="354.88" width="1.8" height="1.1" opacity="0.19"/>
<rect x="313.87" y="354.3" width="1.8" height="1.1" opacity="0.37"/>
<rect x="319.89" y="349.63" width="1.8" height="1.1" opacity="0.32"/>
<rect x="314.03" y="351.32" width="1.8" height="1.1" opacity="0.06"/>
<rect x="308.65" y="352.83" width="1.8" height="1.1" opacity="0.3"/>
<rect x="273.35" y="354.24" width="1.8" height="1.1" opacity="0.11"/>
<rect x="305.29" y="349.48" width="1.8" height="1.1" opacity="0.12"/>
<rect x="305.94" y="354.8" width="1.8" height="1.1" opacity="0.08"/>
<rect x="263.68" y="352.47" width="1.8" height="1.1" opacity="0.06"/>
<rect x="268.48" y="351.04" width="1.8" height="1.1" opacity="0.34"/>
<rect x="306.91" y="349.68" width="1.8" height="1.1" opacity="0.06"/>
<rect x="303.96" y="349.75" width="1.8" height="1.1" opacity="0.34"/>
<rect x="274.82" y="348.93" width="1.8" height="1.1" opacity="0.06"/>
<rect x="283.22" y="350.8" width="1.8" height="1.1" opacity="0.08"/>
<rect x="255.96" y="351.18" width="1.8" height="1.1" opacity="0.1"/>
<rect x="301.68" y="349.66" width="1.8" height="1.1" opacity="0.34"/>
<rect x="304.87" y="350.99" width="1.8" height="1.1" opacity="0.18"/>
<rect x="264.05" y="355.16" width="1.8" height="1.1" opacity="0.19"/>
<rect x="303.32" y="352.04" width="1.8" height="1.1" opacity="0.12"/>
<rect x="290.11" y="354.57" width="1.8" height="1.1" opacity="0.36"/>
<rect x="257.18" y="352.57" width="1.8" height="1.1" opacity="0.11"/>
<rect x="266.04" y="349.75" width="1.8" height="1.1" opacity="0.07"/>
<rect x="278.91" y="352.68" width="1.8" height="1.1" opacity="0.31"/>
<rect x="277.68" y="353.49" width="1.8" height="1.1" opacity="0.18"/>
<rect x="328.36" y="352.56" width="1.8" height="1.1" opacity="0.08"/>
<rect x="305.22" y="354.03" width="1.8" height="1.1" opacity="0.07"/>
<rect x="276.89" y="354.67" width="1.8" height="1.1" opacity="0.37"/>
<rect x="319.73" y="350.41" width="1.8" height="1.1" opacity="0.07"/>
<rect x="286.93" y="350.89" width="1.8" height="1.1" opacity="0.12"/>
<rect x="251.94" y="350.93" width="1.8" height="1.1" opacity="0.28"/>
<rect x="318.64" y="351.68" width="1.8" height="1.1" opacity="0.11"/>
<rect x="280.23" y="351.78" width="1.8" height="1.1" opacity="0.06"/>
<rect x="273.66" y="350.76" width="1.8" height="1.1" opacity="0.37"/>
<rect x="247.71" y="353.67" width="1.8" height="1.1" opacity="0.12"/>
<rect x="318.37" y="347.2" width="1.8" height="1.1" opacity="0.29"/>
<rect x="272.01" y="351.04" width="1.8" height="1.1" opacity="0.07"/>
<rect x="319.42" y="355.11" width="1.8" height="1.1" opacity="0.31"/>
<rect x="330.99" y="354.41" width="1.8" height="1.1" opacity="0.08"/>
<rect x="272.69" y="353.9" width="1.8" height="1.1" opacity="0.08"/>
<rect x="337.71" y="354.84" width="1.8" height="1.1" opacity="0.19"/>
<rect x="303.45" y="353.98" width="1.8" height="1.1" opacity="0.3"/>
<rect x="276.85" y="351.77" width="1.8" height="1.1" opacity="0.06"/>
<rect x="283.66" y="354.74" width="1.8" height="1.1" opacity="0.21"/>
<rect x="299.97" y="350.46" width="1.8" height="1.1" opacity="0.31"/>
<rect x="327.72" y="349.1" width="1.8" height="1.1" opacity="0.08"/>
<rect x="266.85" y="349.99" width="1.8" height="1.1" opacity="0.16"/>
<rect x="269.22" y="351.99" width="1.8" height="1.1" opacity="0.14"/>
<rect x="253.45" y="352.37" width="1.8" height="1.1" opacity="0.12"/>
<rect x="298.87" y="348.49" width="1.8" height="1.1" opacity="0.07"/>
<rect x="333.84" y="350.41" width="1.8" height="1.1" opacity="0.2"/>
<rect x="325.22" y="352.96" width="1.8" height="1.1" opacity="0.06"/>
<rect x="262.48" y="348.66" width="1.8" height="1.1" opacity="0.15"/>
<rect x="269.51" y="351.68" width="1.8" height="1.1" opacity="0.11"/>
<rect x="301.56" y="351.68" width="1.8" height="1.1" opacity="0.21"/>
<rect x="303.37" y="350.67" width="1.8" height="1.1" opacity="0.19"/>
<rect x="288.68" y="351.26" width="1.8" height="1.1" opacity="0.12"/>
<rect x="330.5" y="351.78" width="1.8" height="1.1" opacity="0.27"/>
<rect x="261.63" y="349.26" width="1.8" height="1.1" opacity="0.2"/>
<rect x="270.01" y="352.4" width="1.8" height="1.1" opacity="0.16"/>
<rect x="267.53" y="351.14" width="1.8" height="1.1" opacity="0.15"/>
<rect x="302.58" y="347.84" width="1.8" height="1.1" opacity="0.33"/>
<rect x="305.99" y="352.95" width="1.8" height="1.1" opacity="0.17"/>
<rect x="308.77" y="351.49" width="1.8" height="1.1" opacity="0.12"/>
<rect x="323.56" y="350.35" width="1.8" height="1.1" opacity="0.21"/>
<rect x="278.43" y="351.37" width="1.8" height="1.1" opacity="0.19"/>
<rect x="279.4" y="352.95" width="1.8" height="1.1" opacity="0.21"/>
<rect x="268.9" y="351.29" width="1.8" height="1.1" opacity="0.08"/>
<rect x="287.43" y="354.63" width="1.8" height="1.1" opacity="0.06"/>
<rect x="305.31" y="347.2" width="1.8" height="1.1" opacity="0.13"/>
<rect x="254.47" y="347.94" width="1.8" height="1.1" opacity="0.07"/>
<rect x="277.45" y="349.48" width="1.8" height="1.1" opacity="0.06"/>
<rect x="310.19" y="355.09" width="1.8" height="1.1" opacity="0.1"/>
<rect x="305.46" y="347.84" width="1.8" height="1.1" opacity="0.1"/>
<rect x="284.69" y="350.7" width="1.8" height="1.1" opacity="0.06"/>
<rect x="295.23" y="350.5" width="1.8" height="1.1" opacity="0.09"/>
<rect x="286.35" y="351.26" width="1.8" height="1.1" opacity="0.07"/>
<rect x="286.1" y="354.15" width="1.8" height="1.1" opacity="0.29"/>
<rect x="289.89" y="352.93" width="1.8" height="1.1" opacity="0.08"/>
<rect x="295.17" y="351.08" width="1.8" height="1.1" opacity="0.1"/>
<rect x="279.04" y="356.2" width="1.8" height="1.1" opacity="0.23"/>
<rect x="251.96" y="355.12" width="1.8" height="1.1" opacity="0.18"/>
<rect x="284.12" y="350.72" width="1.8" height="1.1" opacity="0.21"/>
<rect x="331.44" y="356.2" width="1.8" height="1.1" opacity="0.21"/>
<rect x="324.51" y="352.81" width="1.8" height="1.1" opacity="0.22"/>
<rect x="294.66" y="352.36" width="1.8" height="1.1" opacity="0.36"/>
<rect x="333.65" y="349" width="1.8" height="1.1" opacity="0.06"/>
<rect x="266.49" y="352.83" width="1.8" height="1.1" opacity="0.07"/>
<rect x="305.46" y="350.96" width="1.8" height="1.1" opacity="0.33"/>
<rect x="312.78" y="353.9" width="1.8" height="1.1" opacity="0.06"/>
<rect x="260.78" y="352.66" width="1.8" height="1.1" opacity="0.06"/>
<rect x="326.58" y="352.87" width="1.8" height="1.1" opacity="0.23"/>
<rect x="297.72" y="352.97" width="1.8" height="1.1" opacity="0.07"/>
<rect x="336.24" y="353.51" width="1.8" height="1.1" opacity="0.09"/>
<rect x="249.62" y="351.13" width="1.8" height="1.1" opacity="0.06"/>
<rect x="296.45" y="349.48" width="1.8" height="1.1" opacity="0.36"/>
</g>
</g></g>
<rect x="245.1" y="22" width="93.9" height="1.6" fill="#050304" />
<clipPath id="clipd"><rect x="590.4" y="22" width="93.9" height="335.6"/></clipPath>
<g clip-path="url(#clipd)"><g filter="url(#heat)">
<rect x="588.4" y="20" width="97.9" height="339.6" fill="#000" />
<g fill="none" stroke="#fff" stroke-width="1.35">
<path d="M541.83,27.74C559.85,27.74 570.81,23.9 588.83,23.9C604.71,23.9 619.95,25.58 635.83,25.58C652.04,25.58 666.62,24.89 682.83,24.89" stroke-opacity="0.15"/><path d="M543.62,48.53C562.61,48.53 571.64,25.43 590.62,25.43C608.06,25.43 620.19,26.47 637.62,26.47C655.55,26.47 666.7,25.69 684.62,25.69" stroke-opacity="0.18"/><path d="M542.05,24.95C562.43,24.95 568.67,49.51 589.05,49.51C606.18,49.51 618.93,25.52 636.05,25.52C655.3,25.52 663.8,23.67 683.05,23.67" stroke-opacity="0.15"/><path d="M544.24,47.84C561.96,47.84 573.52,47.65 591.24,47.65C610.27,47.65 619.21,24.45 638.24,24.45C656.59,24.45 666.89,25 685.24,25" stroke-opacity="0.15"/><path d="M544,24.74C559.8,24.74 575.21,24.62 591,24.62C606.71,24.62 622.29,49.65 638,49.65C653.39,49.65 669.61,26.13 685,26.13" stroke-opacity="0.14"/><path d="M545.1,48.49C561.82,48.49 575.37,23.25 592.1,23.25C608.91,23.25 622.28,48.24 639.1,48.24C658.44,48.24 666.75,24.65 686.1,24.65" stroke-opacity="0.16"/><path d="M544.16,25.17C562.27,25.17 573.06,49.76 591.16,49.76C611.27,49.76 618.06,49.59 638.16,49.59C656.52,49.59 666.81,23.41 685.16,23.41" stroke-opacity="0.2"/><path d="M544.18,48.44C559.48,48.44 575.87,50.78 591.18,50.78C610.7,50.78 618.66,51.96 638.18,51.96C657.04,51.96 666.32,26.34 685.18,26.34" stroke-opacity="0.2"/><path d="M543.49,26.17C563.89,26.17 570.09,22.52 590.49,22.52C607.69,22.52 620.29,21.82 637.49,21.82C653.71,21.82 668.27,48.36 684.49,48.36" stroke-opacity="0.12"/><path d="M541.61,48.12C557.95,48.12 572.27,24.44 588.61,24.44C604.35,24.44 619.88,25.36 635.61,25.36C653.63,25.36 664.6,51.82 682.61,51.82" stroke-opacity="0.13"/><path d="M545.17,23.14C562.19,23.14 575.16,48.62 592.17,48.62C612.14,48.62 619.21,25.18 639.17,25.18C658.71,25.18 666.63,50.42 686.17,50.42" stroke-opacity="0.19"/><path d="M540.15,48.46C558.76,48.46 568.54,48.74 587.15,48.74C603.61,48.74 617.69,24.08 634.15,24.08C650.91,24.08 664.39,48.43 681.15,48.43" stroke-opacity="0.15"/><path d="M545.58,25.4C562.55,25.4 575.62,23.72 592.58,23.72C610.76,23.72 621.41,47.12 639.58,47.12C659.24,47.12 666.93,48.52 686.58,48.52" stroke-opacity="0.13"/><path d="M542.6,50.24C559.04,50.24 573.16,25.65 589.6,25.65C607.78,25.65 618.41,49.06 636.6,49.06C654.3,49.06 665.9,47.85 683.6,47.85" stroke-opacity="0.15"/><path d="M545.9,25.18C562.17,25.18 576.63,49.1 592.9,49.1C611.73,49.1 621.07,47.73 639.9,47.73C656.01,47.73 670.79,50.63 686.9,50.63" stroke-opacity="0.15"/><path d="M541.43,51.03C560.31,51.03 569.56,48.77 588.43,48.77C606.5,48.77 617.36,49.43 635.43,49.43C653.59,49.43 664.28,48.78 682.43,48.78" stroke-opacity="0.16"/><path d="M544.96,24.46C564.3,24.46 572.61,27.59 591.96,27.59C610.75,27.59 620.17,27.25 638.96,27.25C657.38,27.25 667.54,26.44 685.96,26.44" stroke-opacity="0.14"/><path d="M548.06,48.16C565.07,48.16 578.05,24.74 595.06,24.74C612.32,24.74 624.8,26.18 642.06,26.18C659.49,26.18 671.63,24.25 689.06,24.25" stroke-opacity="0.19"/><path d="M544.63,23.73C561.22,23.73 575.03,49.41 591.63,49.41C611.37,49.41 618.88,25.17 638.63,25.17C656.5,25.17 667.75,26.14 685.63,26.14" stroke-opacity="0.12"/><path d="M542.67,49.63C562.45,49.63 569.89,48.62 589.67,48.62C606.24,48.62 620.1,25.34 636.67,25.34C656.41,25.34 663.93,24.04 683.67,24.04" stroke-opacity="0.13"/><path d="M543.21,26.85C559.18,26.85 574.24,25.02 590.21,25.02C609.88,25.02 617.54,51.25 637.21,51.25C652.88,51.25 668.55,25.76 684.21,25.76" stroke-opacity="0.18"/><path d="M544.24,50.3C564.32,50.3 571.15,23.8 591.24,23.8C609.93,23.8 619.55,50.28 638.24,50.28C654.33,50.28 669.15,25.07 685.24,25.07" stroke-opacity="0.2"/>
<path d="M545.48,57.77C563.17,57.77 574.78,56.52 592.48,56.52C611.46,56.52 620.5,58.95 639.48,58.95C657.71,58.95 668.24,57.24 686.48,57.24" stroke-opacity="0.18"/><path d="M542.58,82.12C558.48,82.12 573.68,57.85 589.58,57.85C605.26,57.85 620.91,55.25 636.58,55.25C656.35,55.25 663.81,55.93 683.58,55.93" stroke-opacity="0.13"/><path d="M544.79,55.88C561.91,55.88 574.67,81.01 591.79,81.01C610.46,81.01 620.12,55.71 638.79,55.71C657.96,55.71 666.62,55.79 685.79,55.79" stroke-opacity="0.2"/><path d="M542.87,79.42C558.74,79.42 574,79.47 589.87,79.47C607.09,79.47 619.65,59.76 636.87,59.76C656.2,59.76 664.54,61.04 683.87,61.04" stroke-opacity="0.19"/><path d="M542.23,58.39C559.59,58.39 571.86,57.35 589.23,57.35C604.72,57.35 620.73,80.15 636.23,80.15C653.1,80.15 666.35,54.62 683.23,54.62" stroke-opacity="0.15"/><path d="M544.23,80.3C561.1,80.3 574.36,57.84 591.23,57.84C610.01,57.84 619.46,78.94 638.23,78.94C655.8,78.94 667.66,56.08 685.23,56.08" stroke-opacity="0.13"/><path d="M542.06,57.82C560.5,57.82 570.62,78.97 589.06,78.97C609.17,78.97 615.96,82.08 636.06,82.08C656.5,82.08 662.62,56.64 683.06,56.64" stroke-opacity="0.17"/><path d="M541.9,79.54C559.13,79.54 571.67,80.08 588.9,80.08C604.39,80.08 620.42,80.7 635.9,80.7C651.27,80.7 667.54,57.77 682.9,57.77" stroke-opacity="0.15"/><path d="M543.33,59.32C561.74,59.32 571.93,56.63 590.33,56.63C605.86,56.63 621.81,56.46 637.33,56.46C655.67,56.46 666,78.63 684.33,78.63" stroke-opacity="0.16"/><path d="M544.39,81.28C560.35,81.28 575.43,56.3 591.39,56.3C610,56.3 619.77,56.81 638.39,56.81C655.23,56.81 668.55,81.84 685.39,81.84" stroke-opacity="0.17"/><path d="M540.49,57C557.11,57 570.87,78.72 587.49,78.72C604.2,78.72 617.79,56.07 634.49,56.07C652.31,56.07 663.67,80.33 681.49,80.33" stroke-opacity="0.16"/><path d="M543.41,83.44C562.82,83.44 570.99,80.78 590.41,80.78C608.64,80.78 619.17,55.84 637.41,55.84C657.42,55.84 664.4,80.77 684.41,80.77" stroke-opacity="0.12"/><path d="M547.92,55.71C563.69,55.71 579.14,53.78 594.92,53.78C614.53,53.78 622.3,80.18 641.92,80.18C657.52,80.18 673.31,79.95 688.92,79.95" stroke-opacity="0.12"/><path d="M542.79,78.86C560.71,78.86 571.86,57.64 589.79,57.64C606.42,57.64 620.15,78.51 636.79,78.51C655.04,78.51 665.54,82.27 683.79,82.27" stroke-opacity="0.2"/><path d="M543.42,55.23C562.99,55.23 570.84,78.39 590.42,78.39C606.54,78.39 621.29,81.19 637.42,81.19C653.76,81.19 668.07,82.5 684.42,82.5" stroke-opacity="0.12"/><path d="M543.5,80C563.02,80 570.98,80.12 590.5,80.12C609.75,80.12 618.25,79.89 637.5,79.89C655.73,79.89 666.27,80.51 684.5,80.51" stroke-opacity="0.16"/><path d="M541.97,57.6C559.9,57.6 571.05,55.06 588.97,55.06C609,55.06 615.95,58.64 635.97,58.64C653.37,58.64 665.57,58.96 682.97,58.96" stroke-opacity="0.19"/><path d="M541.2,81.87C560.85,81.87 568.56,58.11 588.2,58.11C604.5,58.11 618.91,57.62 635.2,57.62C654.69,57.62 662.71,56.06 682.2,56.06" stroke-opacity="0.19"/><path d="M541.98,57.49C559.88,57.49 571.09,81.06 588.98,81.06C608.5,81.06 616.46,53.62 635.98,53.62C653.96,53.62 665,55.05 682.98,55.05" stroke-opacity="0.16"/><path d="M540.05,79.6C556.66,79.6 570.44,77.99 587.05,77.99C605.44,77.99 615.65,55.17 634.05,55.17C653.64,55.17 661.46,57.85 681.05,57.85" stroke-opacity="0.18"/><path d="M542.69,60.03C560.56,60.03 571.83,56.05 589.69,56.05C610.14,56.05 616.24,81.58 636.69,81.58C655.99,81.58 664.4,58.22 683.69,58.22" stroke-opacity="0.12"/><path d="M542.11,81.19C558.14,81.19 573.07,57.02 589.11,57.02C607.24,57.02 617.98,81.75 636.11,81.75C652.61,81.75 666.6,58.19 683.11,58.19" stroke-opacity="0.11"/>
<path d="M543.96,113.62C563.91,113.62 571.01,87.9 590.96,87.9C608.01,87.9 620.91,101.91 637.96,101.91C654.25,101.91 668.68,101.58 684.96,101.58" stroke-opacity="0.18"/><path d="M544.93,100.65C562.13,100.65 574.72,103.83 591.93,103.83C610.55,103.83 620.31,85.61 638.93,85.61C654.2,85.61 670.66,113.74 685.93,113.74" stroke-opacity="0.16"/><path d="M540.07,86.92C560.32,86.92 566.81,86.45 587.07,86.45C605.64,86.45 615.49,86.89 634.07,86.89C654.21,86.89 660.93,98.83 681.07,98.83" stroke-opacity="0.12"/><path d="M541.5,98.64C560.01,98.64 569.99,97.68 588.5,97.68C608.75,97.68 615.26,112.19 635.5,112.19C652.83,112.19 665.18,100.07 682.5,100.07" stroke-opacity="0.18"/><path d="M539.77,112.29C557.52,112.29 569.02,98.66 586.77,98.66C605.79,98.66 614.76,114.2 633.77,114.2C649.25,114.2 665.3,99.77 680.77,99.77" stroke-opacity="0.15"/><path d="M542.46,86.15C562.44,86.15 569.49,103.63 589.46,103.63C609.1,103.63 616.82,101.76 636.46,101.76C654.87,101.76 665.05,88.52 683.46,88.52" stroke-opacity="0.19"/><path d="M545.34,114.36C564.51,114.36 573.16,101.1 592.34,101.1C611.44,101.1 620.23,105.93 639.34,105.93C656.34,105.93 669.34,100.98 686.34,100.98" stroke-opacity="0.16"/><path d="M542.81,114.12C558.67,114.12 573.94,113.86 589.81,113.86C605.97,113.86 620.64,85.85 636.81,85.85C656.64,85.85 663.98,112.56 683.81,112.56" stroke-opacity="0.14"/><path d="M545.09,102.73C565.63,102.73 571.56,100.67 592.09,100.67C608.37,100.67 622.81,100.63 639.09,100.63C657.3,100.63 667.88,90.47 686.09,90.47" stroke-opacity="0.15"/><path d="M545.82,110.18C561.21,110.18 577.44,114.26 592.82,114.26C610.45,114.26 622.19,102.02 639.82,102.02C657.12,102.02 669.52,113.47 686.82,113.47" stroke-opacity="0.17"/><path d="M545.59,104.09C561.8,104.09 576.38,111.43 592.59,111.43C607.98,111.43 624.21,86.07 639.59,86.07C659.48,86.07 666.71,101.92 686.59,101.92" stroke-opacity="0.16"/><path d="M545.67,85.57C563.43,85.57 574.92,101.59 592.67,101.59C612.4,101.59 619.95,112.54 639.67,112.54C660.17,112.54 666.18,112.44 686.67,112.44" stroke-opacity="0.15"/><path d="M543.3,104.6C562.85,104.6 570.75,86.64 590.3,86.64C606.65,86.64 620.95,103.35 637.3,103.35C652.52,103.35 669.08,113.91 684.3,113.91" stroke-opacity="0.17"/><path d="M548.25,113.51C567.74,113.51 575.75,103.07 595.25,103.07C615.25,103.07 622.25,112.33 642.25,112.33C657.81,112.33 673.68,88.63 689.25,88.63" stroke-opacity="0.11"/><path d="M542.96,103.08C562.78,103.08 570.14,101.76 589.96,101.76C606.59,101.76 620.34,86.31 636.96,86.31C656.28,86.31 664.65,113.8 683.96,113.8" stroke-opacity="0.12"/><path d="M544.12,86.7C563.87,86.7 571.38,88.3 591.12,88.3C609.13,88.3 620.11,102.09 638.12,102.09C655.96,102.09 667.28,87.66 685.12,87.66" stroke-opacity="0.16"/><path d="M545.43,89.2C562.28,89.2 575.57,87.29 592.43,87.29C610.72,87.29 621.14,110.99 639.43,110.99C654.78,110.99 671.07,99.35 686.43,99.35" stroke-opacity="0.18"/><path d="M539.98,112.6C558.92,112.6 568.04,112.1 586.98,112.1C603.85,112.1 617.11,112.64 633.98,112.64C654.39,112.64 660.58,102.33 680.98,102.33" stroke-opacity="0.17"/><path d="M541.53,101.7C560.41,101.7 569.64,104.88 588.53,104.88C608.54,104.88 615.51,104.46 635.53,104.46C651.89,104.46 666.17,113.4 682.53,113.4" stroke-opacity="0.12"/><path d="M544.82,113.52C560.28,113.52 576.36,100.83 591.82,100.83C608.43,100.83 622.21,101.85 638.82,101.85C656.08,101.85 668.56,103.21 685.82,103.21" stroke-opacity="0.12"/><path d="M538.94,100C555.22,100 569.67,86.85 585.94,86.85C601.96,86.85 616.93,100.31 632.94,100.31C648.87,100.31 664.02,97.33 679.94,97.33" stroke-opacity="0.16"/><path d="M543.19,101.06C559.54,101.06 573.84,113.35 590.19,113.35C607.28,113.35 620.09,101.66 637.19,101.66C654.83,101.66 666.54,111.77 684.19,111.77" stroke-opacity="0.2"/><path d="M541.24,113.4C556.82,113.4 572.66,114.55 588.24,114.55C605.88,114.55 617.6,112.77 635.24,112.77C653.87,112.77 663.61,110.46 682.24,110.46" stroke-opacity="0.2"/><path d="M541.96,113.05C561.82,113.05 569.1,103.96 588.96,103.96C604.23,103.96 620.69,83.81 635.96,83.81C654.18,83.81 664.74,100.91 682.96,100.91" stroke-opacity="0.15"/><path d="M542.55,112.76C560.72,112.76 571.39,101.86 589.55,101.86C605.78,101.86 620.33,101.54 636.55,101.54C654.56,101.54 665.55,84.25 683.55,84.25" stroke-opacity="0.14"/>
<path d="M545.61,131.59C564.55,131.59 573.68,142.59 592.61,142.59C611.83,142.59 620.4,118.66 639.61,118.66C655.37,118.66 670.86,130.83 686.61,130.83" stroke-opacity="0.18"/><path d="M542.14,129.6C560.66,129.6 570.62,130.53 589.14,130.53C606.44,130.53 618.85,143.81 636.14,143.81C655.35,143.81 663.94,145.22 683.14,145.22" stroke-opacity="0.14"/><path d="M545.19,128.6C560.84,128.6 576.54,144.28 592.19,144.28C608.97,144.28 622.42,119.81 639.19,119.81C657.71,119.81 667.68,144.6 686.19,144.6" stroke-opacity="0.11"/><path d="M542.46,141.04C561.4,141.04 570.53,132.99 589.46,132.99C608.72,132.99 617.21,141.06 636.46,141.06C655.36,141.06 664.57,129.6 683.46,129.6" stroke-opacity="0.12"/><path d="M545.06,143.95C565.16,143.95 571.96,132.44 592.06,132.44C609.31,132.44 621.82,144.35 639.06,144.35C656.45,144.35 668.68,128.79 686.06,128.79" stroke-opacity="0.16"/><path d="M543.2,132.56C561.43,132.56 571.96,119.06 590.2,119.06C607.93,119.06 619.47,143.93 637.2,143.93C656.96,143.93 664.44,132.48 684.2,132.48" stroke-opacity="0.16"/><path d="M547.31,143.54C562.92,143.54 578.69,144.17 594.31,144.17C611.7,144.17 623.91,141.72 641.31,141.72C661.23,141.72 668.38,115.16 688.31,115.16" stroke-opacity="0.17"/><path d="M539.14,130.56C558.18,130.56 567.1,144.76 586.14,144.76C602.44,144.76 616.84,116.2 633.14,116.2C651.42,116.2 661.86,115.31 680.14,115.31" stroke-opacity="0.13"/><path d="M540.13,142.78C555.37,142.78 571.88,143.58 587.13,143.58C603.96,143.58 617.29,131.58 634.13,131.58C649.36,131.58 665.89,129.74 681.13,129.74" stroke-opacity="0.2"/><path d="M545.35,142.16C564.08,142.16 573.63,129.29 592.35,129.29C610.22,129.29 621.49,129.13 639.35,129.13C656.69,129.13 669.02,117.71 686.35,117.71" stroke-opacity="0.15"/><path d="M543.28,141.73C561.19,141.73 572.37,115.89 590.28,115.89C606.57,115.89 620.99,129.65 637.28,129.65C653.22,129.65 668.34,130.03 684.28,130.03" stroke-opacity="0.13"/><path d="M544.16,117.51C561.97,117.51 573.36,135.37 591.16,135.37C609.46,135.37 619.86,143.18 638.16,143.18C655.34,143.18 667.98,130.12 685.16,130.12" stroke-opacity="0.17"/><path d="M544.42,129.71C559.66,129.71 576.19,130.9 591.42,130.9C611.96,130.9 617.89,115.87 638.42,115.87C655.93,115.87 667.92,128.53 685.42,128.53" stroke-opacity="0.11"/><path d="M543.29,117.14C560.17,117.14 573.4,144.39 590.29,144.39C610.11,144.39 617.46,141.78 637.29,141.78C655.11,141.78 666.47,141.61 684.29,141.61" stroke-opacity="0.14"/><path d="M542.78,118.04C561.89,118.04 570.68,140.88 589.78,140.88C605.3,140.88 621.26,116.12 636.78,116.12C653.2,116.12 667.36,130.92 683.78,130.92" stroke-opacity="0.17"/><path d="M544.33,141.54C560.31,141.54 575.34,132.21 591.33,132.21C609.75,132.21 619.9,142.62 638.33,142.62C655.14,142.62 668.51,130.93 685.33,130.93" stroke-opacity="0.13"/><path d="M541.79,117.7C560.82,117.7 569.76,133.6 588.79,133.6C607.05,133.6 617.54,131.34 635.79,131.34C652.3,131.34 666.29,144.18 682.79,144.18" stroke-opacity="0.18"/><path d="M543.03,128.15C558.43,128.15 574.64,132.56 590.03,132.56C610.31,132.56 616.76,118.1 637.03,118.1C655.06,118.1 666.01,132.65 684.03,132.65" stroke-opacity="0.14"/><path d="M540.95,132.91C558.77,132.91 570.12,119.36 587.95,119.36C604.03,119.36 618.86,128.2 634.95,128.2C654.73,128.2 662.16,133.15 681.95,133.15" stroke-opacity="0.17"/><path d="M544.71,145.66C563.25,145.66 573.18,118.46 591.71,118.46C609.41,118.46 621.01,132.14 638.71,132.14C657.03,132.14 667.4,127.85 685.71,127.85" stroke-opacity="0.15"/><path d="M544.42,129.68C561.11,129.68 574.74,127.43 591.42,127.43C610.01,127.43 619.83,133.36 638.42,133.36C653.68,133.36 670.16,142.96 685.42,142.96" stroke-opacity="0.14"/><path d="M542.82,142.88C558.5,142.88 574.14,141.98 589.82,141.98C607.3,141.98 619.34,142.02 636.82,142.02C652.91,142.02 667.73,142.89 683.82,142.89" stroke-opacity="0.14"/><path d="M542.22,130.05C560.81,130.05 570.63,133.81 589.22,133.81C606.53,133.81 618.92,130.63 636.22,130.63C655.34,130.63 664.1,144.13 683.22,144.13" stroke-opacity="0.16"/><path d="M542.25,133.57C559.83,133.57 571.66,143.54 589.25,143.54C606.78,143.54 618.71,143.78 636.25,143.78C654.27,143.78 665.22,131.52 683.25,131.52" stroke-opacity="0.17"/><path d="M543.71,143.23C562.87,143.23 571.56,120.36 590.71,120.36C609.05,120.36 619.38,128.27 637.71,128.27C655.66,128.27 666.77,131.01 684.71,131.01" stroke-opacity="0.17"/>
<path d="M543.16,163.7C562.95,163.7 570.37,173.02 590.16,173.02C605.96,173.02 621.36,161.58 637.16,161.58C653.84,161.58 667.47,148.46 684.16,148.46" stroke-opacity="0.18"/><path d="M542.8,159.97C558.03,159.97 574.57,174.9 589.8,174.9C608.96,174.9 617.64,161.09 636.8,161.09C655.26,161.09 665.34,173.29 683.8,173.29" stroke-opacity="0.14"/><path d="M545.04,174.32C562.23,174.32 574.85,149.98 592.04,149.98C610.78,149.98 620.3,174.48 639.04,174.48C655.76,174.48 669.32,163.17 686.04,163.17" stroke-opacity="0.19"/><path d="M544.25,161.15C559.56,161.15 575.93,160.06 591.25,160.06C607.57,160.06 621.92,161.84 638.25,161.84C654.27,161.84 669.23,162.24 685.25,162.24" stroke-opacity="0.17"/><path d="M542.04,161.53C557.68,161.53 573.4,173.94 589.04,173.94C605.93,173.94 619.15,173.29 636.04,173.29C651.23,173.29 667.85,171.72 683.04,171.72" stroke-opacity="0.14"/><path d="M541.8,175.64C560.62,175.64 569.97,151.11 588.8,151.11C604.89,151.11 619.7,162.12 635.8,162.12C652.28,162.12 666.31,172.84 682.8,172.84" stroke-opacity="0.18"/><path d="M542.57,145.38C561.06,145.38 571.07,174.47 589.57,174.47C608.59,174.47 617.55,160.44 636.57,160.44C652.36,160.44 667.77,162.04 683.57,162.04" stroke-opacity="0.11"/><path d="M541.71,174.27C561.89,174.27 568.52,163.59 588.71,163.59C608.59,163.59 615.82,172.08 635.71,172.08C655.24,172.08 663.17,172.1 682.71,172.1" stroke-opacity="0.17"/><path d="M545.97,161.27C564.83,161.27 574.11,159.59 592.97,159.59C611.36,159.59 621.58,150.79 639.97,150.79C658.42,150.79 668.52,162.97 686.97,162.97" stroke-opacity="0.2"/><path d="M543.32,162.33C559.55,162.33 574.08,161.43 590.32,161.43C609.12,161.43 618.51,162.13 637.32,162.13C655.2,162.13 666.43,149.22 684.32,149.22" stroke-opacity="0.11"/><path d="M543.89,162.52C563.63,162.52 571.15,147.43 590.89,147.43C610.32,147.43 618.45,162.38 637.89,162.38C657.29,162.38 665.49,161.11 684.89,161.11" stroke-opacity="0.19"/><path d="M543.25,159.98C560.97,159.98 572.54,163.23 590.25,163.23C605.57,163.23 621.94,151.47 637.25,151.47C657.39,151.47 664.11,160.19 684.25,160.19" stroke-opacity="0.16"/><path d="M542.29,171.47C558.26,171.47 573.31,172.99 589.29,172.99C607.23,172.99 618.35,174.8 636.29,174.8C653.04,174.8 666.53,175.26 683.29,175.26" stroke-opacity="0.11"/><path d="M545.63,172.76C564.45,172.76 573.82,162.99 592.63,162.99C608.35,162.99 623.92,173.05 639.63,173.05C655.12,173.05 671.14,173.44 686.63,173.44" stroke-opacity="0.2"/><path d="M547.45,147.6C565.29,147.6 576.61,172.93 594.45,172.93C609.66,172.93 626.24,149.77 641.45,149.77C659.42,149.77 670.49,174.44 688.45,174.44" stroke-opacity="0.19"/><path d="M542.75,175.77C559.49,175.77 573,162.91 589.75,162.91C607.32,162.91 619.17,149.74 636.75,149.74C657.11,149.74 663.38,164.8 683.75,164.8" stroke-opacity="0.16"/><path d="M543.91,162.99C563.14,162.99 571.69,150.91 590.91,150.91C608.8,150.91 620.03,174.78 637.91,174.78C653.95,174.78 668.88,162.82 684.91,162.82" stroke-opacity="0.15"/><path d="M545.04,173.71C564.52,173.71 572.55,160.23 592.04,160.23C611.85,160.23 619.22,161.09 639.04,161.09C654.75,161.09 670.33,171.54 686.04,171.54" stroke-opacity="0.13"/><path d="M544.38,173.46C560.74,173.46 575.03,173.44 591.38,173.44C607.26,173.44 622.51,174.29 638.38,174.29C654.35,174.29 669.42,171.04 685.38,171.04" stroke-opacity="0.16"/><path d="M542.99,162.73C560.84,162.73 572.15,172.66 589.99,172.66C605.48,172.66 621.51,171.48 636.99,171.48C653.75,171.48 667.23,175.3 683.99,175.3" stroke-opacity="0.13"/><path d="M541.17,162.24C561.3,162.24 568.03,161.84 588.17,161.84C608.42,161.84 614.91,160.34 635.17,160.34C653.04,160.34 664.29,162.41 682.17,162.41" stroke-opacity="0.11"/><path d="M541.97,174.35C559.57,174.35 571.38,160.28 588.97,160.28C607.42,160.28 617.53,174.13 635.97,174.13C653.63,174.13 665.31,174.26 682.97,174.26" stroke-opacity="0.15"/><path d="M543.22,172.25C563.15,172.25 570.28,162.24 590.22,162.24C605.8,162.24 621.63,161.42 637.22,161.42C657.5,161.42 663.93,148.28 684.22,148.28" stroke-opacity="0.16"/><path d="M545.83,172.86C566.12,172.86 572.54,165.98 592.83,165.98C613.3,165.98 619.36,149.07 639.83,149.07C657.82,149.07 668.84,172.58 686.83,172.58" stroke-opacity="0.14"/><path d="M546.37,173.53C566.18,173.53 573.55,148.86 593.37,148.86C610.99,148.86 622.75,146.52 640.37,146.52C657.83,146.52 669.91,174.96 687.37,174.96" stroke-opacity="0.16"/>
<path d="M543.79,202.98C559.32,202.98 575.26,191.77 590.79,191.77C608.97,191.77 619.61,194.29 637.79,194.29C653.29,194.29 669.29,195.02 684.79,195.02" stroke-opacity="0.13"/><path d="M543.68,203.2C562.56,203.2 571.8,193.74 590.68,193.74C609.71,193.74 618.64,189.06 637.68,189.06C657.63,189.06 664.72,178.71 684.68,178.71" stroke-opacity="0.2"/><path d="M539.93,204.35C556.84,204.35 570.01,205.35 586.93,205.35C606.2,205.35 614.65,195.99 633.93,195.99C649.19,195.99 665.66,179.84 680.93,179.84" stroke-opacity="0.16"/><path d="M540.12,196.88C558.26,196.88 568.98,193.08 587.12,193.08C605.39,193.08 615.85,190.58 634.12,190.58C652.67,190.58 662.58,175.35 681.12,175.35" stroke-opacity="0.13"/><path d="M542.88,205.9C559.63,205.9 573.12,192.85 589.88,192.85C610.34,192.85 616.42,201.79 636.88,201.79C652.08,201.79 668.68,178.68 683.88,178.68" stroke-opacity="0.12"/><path d="M547.79,192.53C563.73,192.53 578.84,197.41 594.79,197.41C613.28,197.41 623.29,194.26 641.79,194.26C658.1,194.26 672.47,203.83 688.79,203.83" stroke-opacity="0.14"/><path d="M544.41,192.04C561.03,192.04 574.8,203.8 591.41,203.8C610.74,203.8 619.08,192.43 638.41,192.43C655.13,192.43 668.69,192.58 685.41,192.58" stroke-opacity="0.2"/><path d="M545.52,176.48C561.7,176.48 576.34,179.91 592.52,179.91C611.8,179.91 620.24,201.68 639.52,201.68C656.26,201.68 669.78,193.96 686.52,193.96" stroke-opacity="0.2"/><path d="M547.19,194.49C567.33,194.49 574.05,204.72 594.19,204.72C611.55,204.72 623.84,204.91 641.19,204.91C656.76,204.91 672.62,204.34 688.19,204.34" stroke-opacity="0.13"/><path d="M542.86,204.84C561.74,204.84 570.97,192.38 589.86,192.38C609.87,192.38 616.85,183.49 636.86,183.49C652.62,183.49 668.1,203.95 683.86,203.95" stroke-opacity="0.15"/><path d="M541.13,178.89C560.82,178.89 568.44,193.86 588.13,193.86C604.66,193.86 618.6,191.32 635.13,191.32C651.26,191.32 666,203.85 682.13,203.85" stroke-opacity="0.14"/><path d="M541.18,204.65C558.89,204.65 570.48,203.44 588.18,203.44C605.8,203.44 617.56,204.33 635.18,204.33C651.49,204.33 665.87,190.27 682.18,190.27" stroke-opacity="0.16"/><path d="M540.56,192.88C556.04,192.88 572.08,206.01 587.56,206.01C604.59,206.01 617.53,194.08 634.56,194.08C653.75,194.08 662.37,191.52 681.56,191.52" stroke-opacity="0.18"/><path d="M546.59,205.53C564.59,205.53 575.59,205.47 593.59,205.47C610.12,205.47 624.06,190.91 640.59,190.91C656.67,190.91 671.51,205.08 687.59,205.08" stroke-opacity="0.19"/><path d="M543.28,181.14C559.45,181.14 574.11,192.5 590.28,192.5C605.52,192.5 622.04,205.5 637.28,205.5C654.42,205.5 667.14,193.83 684.28,193.83" stroke-opacity="0.12"/><path d="M545.57,179.45C563.62,179.45 574.52,194.64 592.57,194.64C609.73,194.64 622.41,205.27 639.57,205.27C659.93,205.27 666.21,193.11 686.57,193.11" stroke-opacity="0.14"/><path d="M544.38,203.77C563.55,203.77 572.22,205.13 591.38,205.13C608.19,205.13 621.58,193.84 638.38,193.84C654.79,193.84 668.98,204.85 685.38,204.85" stroke-opacity="0.16"/><path d="M545.1,191.23C561.82,191.23 575.39,192.85 592.1,192.85C608.77,192.85 622.43,206.65 639.1,206.65C657.82,206.65 667.38,204.74 686.1,204.74" stroke-opacity="0.16"/><path d="M542.96,204.36C561.57,204.36 571.35,204.42 589.96,204.42C610.4,204.42 616.52,205.91 636.96,205.91C652.85,205.91 668.07,177.68 683.96,177.68" stroke-opacity="0.16"/><path d="M543.08,204.64C561.75,204.64 571.41,204.39 590.08,204.39C608.37,204.39 618.79,192.04 637.08,192.04C654.21,192.04 666.95,191.61 684.08,191.61" stroke-opacity="0.17"/><path d="M542.8,192.58C558.81,192.58 573.79,193.73 589.8,193.73C606.47,193.73 620.12,204.04 636.8,204.04C655.18,204.04 665.42,192.24 683.8,192.24" stroke-opacity="0.15"/><path d="M542.55,205.74C560.08,205.74 572.02,194.21 589.55,194.21C605.36,194.21 620.74,181.28 636.55,181.28C654.99,181.28 665.11,203.67 683.55,203.67" stroke-opacity="0.2"/><path d="M545.85,204.21C564.86,204.21 573.84,204.01 592.85,204.01C608.93,204.01 623.77,203.94 639.85,203.94C655.47,203.94 671.23,193.54 686.85,193.54" stroke-opacity="0.2"/><path d="M544.24,178.11C561.02,178.11 574.47,178.36 591.24,178.36C607.7,178.36 621.79,203.41 638.24,203.41C655.01,203.41 668.48,203.62 685.24,203.62" stroke-opacity="0.19"/><path d="M543.18,203.76C561.56,203.76 571.81,177.52 590.18,177.52C610.45,177.52 616.92,205.29 637.18,205.29C652.51,205.29 668.86,204.61 684.18,204.61" stroke-opacity="0.11"/>
<path d="M541.73,215.96C559.33,215.96 571.13,212.26 588.73,212.26C607.62,212.26 616.83,211.99 635.73,211.99C654.04,211.99 664.41,215.52 682.73,215.52" stroke-opacity="0.18"/><path d="M545,235.34C561.33,235.34 575.67,212.97 592,212.97C609.62,212.97 621.39,214.54 639,214.54C654.34,214.54 670.67,217.13 686,217.13" stroke-opacity="0.18"/><path d="M545.85,212.91C562.26,212.91 576.45,231.18 592.85,231.18C608.97,231.18 623.74,212.49 639.85,212.49C656.93,212.49 669.78,209.72 686.85,209.72" stroke-opacity="0.14"/><path d="M543.33,232.3C561.98,232.3 571.67,235.1 590.33,235.1C610.48,235.1 617.18,211.67 637.33,211.67C652.51,211.67 669.15,212.64 684.33,212.64" stroke-opacity="0.15"/><path d="M545.54,212.33C562.23,212.33 575.84,214.41 592.54,214.41C610.79,214.41 621.29,232.87 639.54,232.87C658.56,232.87 667.52,209.89 686.54,209.89" stroke-opacity="0.19"/><path d="M542.72,234.8C560.97,234.8 571.48,212.96 589.72,212.96C607.2,212.96 619.24,234.09 636.72,234.09C655.66,234.09 664.79,212.44 683.72,212.44" stroke-opacity="0.19"/><path d="M541.36,214.09C556.9,214.09 572.82,233.57 588.36,233.57C604.21,233.57 619.5,234.01 635.36,234.01C655.77,234.01 661.95,215.29 682.36,215.29" stroke-opacity="0.13"/><path d="M542.75,232.97C560.3,232.97 572.2,234.84 589.75,234.84C609.44,234.84 617.06,233.5 636.75,233.5C654.58,233.5 665.92,212.75 683.75,212.75" stroke-opacity="0.19"/><path d="M541.75,211.64C559.24,211.64 571.27,212.62 588.75,212.62C604.3,212.62 620.21,211.44 635.75,211.44C652.72,211.44 665.78,233.76 682.75,233.76" stroke-opacity="0.16"/><path d="M542.05,235.96C559.1,235.96 572,216.8 589.05,216.8C608.8,216.8 616.3,217.84 636.05,217.84C656.44,217.84 662.67,232.19 683.05,232.19" stroke-opacity="0.16"/><path d="M543.11,210.02C560.39,210.02 572.83,232.4 590.11,232.4C608.21,232.4 619.01,209.45 637.11,209.45C653.37,209.45 667.85,235.76 684.11,235.76" stroke-opacity="0.19"/><path d="M545.17,234.8C561.93,234.8 575.41,233.5 592.17,233.5C611.41,233.5 619.94,211.45 639.17,211.45C658.67,211.45 666.67,233.66 686.17,233.66" stroke-opacity="0.15"/><path d="M542.79,213.35C558.68,213.35 573.89,210.99 589.79,210.99C607.17,210.99 619.4,233.34 636.79,233.34C655.94,233.34 664.64,232.99 683.79,232.99" stroke-opacity="0.17"/><path d="M544.4,232.06C564.23,232.06 571.57,209.5 591.4,209.5C607.28,209.5 622.52,232.89 638.4,232.89C657.26,232.89 666.54,234.04 685.4,234.04" stroke-opacity="0.14"/><path d="M542.24,211.06C558.87,211.06 572.61,235.19 589.24,235.19C609.59,235.19 615.89,232.32 636.24,232.32C655.93,232.32 663.54,236.73 683.24,236.73" stroke-opacity="0.12"/><path d="M546.75,233C565.24,233 575.26,234.29 593.75,234.29C609.92,234.29 624.58,233.29 640.75,233.29C656.34,233.29 672.16,232.57 687.75,232.57" stroke-opacity="0.14"/><path d="M543.38,213C562.95,213 570.8,209.76 590.38,209.76C605.68,209.76 622.07,213.02 637.38,213.02C653.26,213.02 668.5,209.47 684.38,209.47" stroke-opacity="0.14"/><path d="M545.23,235.12C563.56,235.12 573.9,214.63 592.23,214.63C609.08,214.63 622.37,214.94 639.23,214.94C655.28,214.94 670.18,209.52 686.23,209.52" stroke-opacity="0.18"/><path d="M544.53,212.2C560.28,212.2 575.79,232.84 591.53,232.84C608.23,232.84 621.84,209.17 638.53,209.17C654.51,209.17 669.56,213.59 685.53,213.59" stroke-opacity="0.19"/><path d="M541.89,233.8C560.48,233.8 570.29,233.75 588.89,233.75C604.9,233.75 619.88,211.6 635.89,211.6C653.99,211.6 664.79,213.21 682.89,213.21" stroke-opacity="0.13"/><path d="M543.34,213.31C559.26,213.31 574.41,214.32 590.34,214.32C610.13,214.32 617.55,234.24 637.34,234.24C654.89,234.24 666.78,214.38 684.34,214.38" stroke-opacity="0.16"/><path d="M540.86,234.85C557.84,234.85 570.88,209.87 587.86,209.87C607.23,209.87 615.49,233.7 634.86,233.7C651.15,233.7 665.57,213.54 681.86,213.54" stroke-opacity="0.11"/>
<path d="M541.36,248.34C559.9,248.34 569.82,246.16 588.36,246.16C608.01,246.16 615.71,240.01 635.36,240.01C654.31,240.01 663.4,238.54 682.36,238.54" stroke-opacity="0.2"/><path d="M543.99,264.31C560.93,264.31 574.05,245.12 590.99,245.12C611.01,245.12 617.96,243.99 637.99,243.99C654.86,243.99 668.11,240.79 684.99,240.79" stroke-opacity="0.16"/><path d="M542.42,241.15C560.54,241.15 571.29,260.6 589.42,260.6C609.91,260.6 615.92,242.26 636.42,242.26C654.43,242.26 665.4,242.98 683.42,242.98" stroke-opacity="0.14"/><path d="M544.07,263.96C564.22,263.96 570.93,263.37 591.07,263.37C609.38,263.37 619.77,245.04 638.07,245.04C657.05,245.04 666.1,241.58 685.07,241.58" stroke-opacity="0.14"/><path d="M546.47,242.91C562.44,242.91 577.51,237.79 593.47,237.79C612.17,237.79 621.78,261.82 640.47,261.82C660.61,261.82 667.33,246.1 687.47,246.1" stroke-opacity="0.16"/><path d="M543.73,261.25C558.93,261.25 575.54,246.13 590.73,246.13C609.29,246.13 619.17,263.07 637.73,263.07C655.83,263.07 666.63,242.46 684.73,242.46" stroke-opacity="0.18"/><path d="M544.8,242.76C564.22,242.76 572.39,262.36 591.8,262.36C611.9,262.36 618.71,264.41 638.8,264.41C657.05,264.41 667.55,242.16 685.8,242.16" stroke-opacity="0.15"/><path d="M539.39,259.31C554.99,259.31 570.79,263.19 586.39,263.19C601.89,263.19 617.89,261.66 633.39,261.66C648.79,261.66 664.99,243.57 680.39,243.57" stroke-opacity="0.16"/><path d="M547.33,244.75C567.85,244.75 573.81,245.33 594.33,245.33C614.06,245.33 621.6,246.65 641.33,246.65C660.93,246.65 668.73,264.53 688.33,264.53" stroke-opacity="0.12"/><path d="M543.08,262.61C561.11,262.61 572.06,241.34 590.08,241.34C607.78,241.34 619.39,247.59 637.08,247.59C654.26,247.59 666.91,261.46 684.08,261.46" stroke-opacity="0.19"/><path d="M543.33,238.4C559.56,238.4 574.1,263.69 590.33,263.69C606.3,263.69 621.36,244.03 637.33,244.03C657.54,244.03 664.12,262.8 684.33,262.8" stroke-opacity="0.16"/><path d="M541.89,261.5C558.66,261.5 572.12,261.41 588.89,261.41C606.58,261.41 618.21,244.93 635.89,244.93C652.05,244.93 666.74,263.65 682.89,263.65" stroke-opacity="0.2"/><path d="M543.66,243.85C562.83,243.85 571.49,246.08 590.66,246.08C607.86,246.08 620.46,262.52 637.66,262.52C653.4,262.52 668.92,261.19 684.66,261.19" stroke-opacity="0.13"/><path d="M543.67,262.86C560.52,262.86 573.83,243.83 590.67,243.83C606.48,243.83 621.87,264.25 637.67,264.25C656.9,264.25 665.45,261.97 684.67,261.97" stroke-opacity="0.18"/><path d="M547.78,239.44C565.44,239.44 577.12,264.62 594.78,264.62C610.49,264.62 626.07,263.67 641.78,263.67C658.47,263.67 672.09,262.73 688.78,262.73" stroke-opacity="0.17"/><path d="M546.05,262.91C562.85,262.91 576.24,262.18 593.05,262.18C611.73,262.18 621.36,264.13 640.05,264.13C657.28,264.13 669.81,263.74 687.05,263.74" stroke-opacity="0.18"/><path d="M545.83,241.94C566.07,241.94 572.6,243.02 592.83,243.02C609.11,243.02 623.56,243.74 639.83,243.74C655.26,243.74 671.41,239.84 686.83,239.84" stroke-opacity="0.18"/><path d="M546.23,264.61C564.21,264.61 575.25,243.03 593.23,243.03C610.35,243.03 623.1,241.9 640.23,241.9C656.75,241.9 670.7,237.93 687.23,237.93" stroke-opacity="0.17"/><path d="M548.37,243.56C566.83,243.56 576.92,262.76 595.37,262.76C610.83,262.76 626.92,240.7 642.37,240.7C661.41,240.7 670.33,240.53 689.37,240.53" stroke-opacity="0.14"/><path d="M545.52,263.88C562.76,263.88 575.27,262.56 592.52,262.56C612.18,262.56 619.85,242.67 639.52,242.67C655.52,242.67 670.51,245.14 686.52,245.14" stroke-opacity="0.15"/><path d="M542.13,245.71C557.34,245.71 573.93,242.39 589.13,242.39C605.45,242.39 619.82,262.77 636.13,262.77C654.25,262.77 665.02,241.68 683.13,241.68" stroke-opacity="0.13"/><path d="M545.24,262.78C560.95,262.78 576.53,245.29 592.24,245.29C611.65,245.29 619.83,263.2 639.24,263.2C657.99,263.2 667.49,236.82 686.24,236.82" stroke-opacity="0.2"/>
<path d="M544.51,274.28C560.13,274.28 575.9,271.78 591.51,271.78C611.15,271.78 618.88,273.33 638.51,273.33C657.99,273.33 666.04,269.17 685.51,269.17" stroke-opacity="0.15"/><path d="M541.43,291.96C560.93,291.96 568.92,276.99 588.43,276.99C608.29,276.99 615.56,274.46 635.43,274.46C653.63,274.46 664.22,274.62 682.43,274.62" stroke-opacity="0.19"/><path d="M541.46,271.89C559.41,271.89 570.51,291.22 588.46,291.22C606.82,291.22 617.1,272.46 635.46,272.46C654.15,272.46 663.78,271.93 682.46,271.93" stroke-opacity="0.15"/><path d="M540.18,293.89C556.7,293.89 570.65,293.1 587.18,293.1C606.78,293.1 614.57,276.61 634.18,276.61C654.25,276.61 661.11,278.44 681.18,278.44" stroke-opacity="0.17"/><path d="M542.86,274.01C559.93,274.01 572.79,272.12 589.86,272.12C609.3,272.12 617.42,293.42 636.86,293.42C654.16,293.42 666.55,272.11 683.86,272.11" stroke-opacity="0.17"/><path d="M543.65,292.94C562.26,292.94 572.04,277.27 590.65,277.27C610.9,277.27 617.4,293.12 637.65,293.12C656.87,293.12 665.43,273.25 684.65,273.25" stroke-opacity="0.19"/><path d="M544.41,271.73C561.91,271.73 573.92,293.71 591.41,293.71C610.61,293.71 619.22,292.45 638.41,292.45C658.52,292.45 665.31,273.78 685.41,273.78" stroke-opacity="0.13"/><path d="M542.78,293.31C560.59,293.31 571.97,294.67 589.78,294.67C606.86,294.67 619.69,294.45 636.78,294.45C652.84,294.45 667.71,275.52 683.78,275.52" stroke-opacity="0.19"/><path d="M546.06,272.29C563.48,272.29 575.64,272.78 593.06,272.78C613.5,272.78 619.61,279.78 640.06,279.78C655.92,279.78 671.2,292.84 687.06,292.84" stroke-opacity="0.2"/><path d="M543.18,293.95C561.07,293.95 572.29,272.7 590.18,272.7C608.38,272.7 618.97,273.34 637.18,273.34C653.15,273.34 668.21,292.7 684.18,292.7" stroke-opacity="0.17"/><path d="M541.57,274.99C557.67,274.99 572.48,293.81 588.57,293.81C605.3,293.81 618.85,276.51 635.57,276.51C650.88,276.51 667.27,294.05 682.57,294.05" stroke-opacity="0.18"/><path d="M545.26,292.09C564.49,292.09 573.03,292.85 592.26,292.85C611.74,292.85 619.78,268.63 639.26,268.63C655.89,268.63 669.63,293.52 686.26,293.52" stroke-opacity="0.15"/><path d="M545.01,278.96C562.36,278.96 574.67,270.76 592.01,270.76C610.75,270.76 620.28,294.38 639.01,294.38C656.53,294.38 668.5,293.44 686.01,293.44" stroke-opacity="0.18"/><path d="M545.5,293C561.89,293 576.12,277.12 592.5,277.12C609.07,277.12 622.94,294.52 639.5,294.52C654.85,294.52 671.15,294.81 686.5,294.81" stroke-opacity="0.12"/><path d="M541.37,275.29C560.58,275.29 569.17,293.02 588.37,293.02C608.03,293.02 615.71,293.19 635.37,293.19C653.91,293.19 663.83,292.42 682.37,292.42" stroke-opacity="0.18"/><path d="M543.87,292.52C559.24,292.52 575.5,293.93 590.87,293.93C609.69,293.93 619.04,292.02 637.87,292.02C654.21,292.02 668.53,294.1 684.87,294.1" stroke-opacity="0.18"/><path d="M542.42,275.72C562.33,275.72 569.5,275.25 589.42,275.25C607.77,275.25 618.06,268.02 636.42,268.02C652.63,268.02 667.21,272.74 683.42,272.74" stroke-opacity="0.13"/><path d="M541.6,293.31C558.79,293.31 571.41,271.4 588.6,271.4C608.89,271.4 615.31,274.31 635.6,274.31C651.4,274.31 666.8,278.38 682.6,278.38" stroke-opacity="0.16"/><path d="M544.68,275.46C564.1,275.46 572.25,291.1 591.68,291.1C606.98,291.1 623.37,272.58 638.68,272.58C656.59,272.58 667.76,277.1 685.68,277.1" stroke-opacity="0.18"/><path d="M545.36,294.56C564.99,294.56 572.72,293.54 592.36,293.54C612.55,293.54 619.17,278.24 639.36,278.24C655.85,278.24 669.86,273.36 686.36,273.36" stroke-opacity="0.15"/><path d="M549.43,273.32C568.53,273.32 577.32,274.42 596.43,274.42C615.47,274.42 624.39,294.06 643.43,294.06C659.78,294.06 674.08,274.2 690.43,274.2" stroke-opacity="0.2"/><path d="M543.68,293.71C559.17,293.71 575.19,275 590.68,275C607.14,275 621.22,292.88 637.68,292.88C655.52,292.88 666.84,272.17 684.68,272.17" stroke-opacity="0.19"/>
<path d="M543.69,299.96C561.77,299.96 572.62,306.69 590.69,306.69C606.98,306.69 621.41,304.66 637.69,304.66C657.18,304.66 665.21,303.02 684.69,303.02" stroke-opacity="0.14"/><path d="M547.58,322.83C567.02,322.83 575.14,306.09 594.58,306.09C612.58,306.09 623.57,305.23 641.58,305.23C659.3,305.23 670.86,305.85 688.58,305.85" stroke-opacity="0.19"/><path d="M540.41,302.45C557.93,302.45 569.88,326.54 587.41,326.54C605.03,326.54 616.78,304.37 634.41,304.37C652.39,304.37 663.42,305.97 681.41,305.97" stroke-opacity="0.17"/><path d="M542.89,325.04C562.78,325.04 570,324.96 589.89,324.96C608.27,324.96 618.51,303.16 636.89,303.16C656.87,303.16 663.91,299.59 683.89,299.59" stroke-opacity="0.15"/><path d="M543.86,302.96C563.4,302.96 571.32,308.78 590.86,308.78C611.13,308.78 617.59,324.49 637.86,324.49C657.78,324.49 664.94,301.35 684.86,301.35" stroke-opacity="0.17"/><path d="M544.89,325.26C563.31,325.26 573.47,303.25 591.89,303.25C610.44,303.25 620.34,325.62 638.89,325.62C658.7,325.62 666.08,308.36 685.89,308.36" stroke-opacity="0.19"/><path d="M544.85,304.47C562.73,304.47 573.97,323.61 591.85,323.61C611.2,323.61 619.5,324.41 638.85,324.41C654.28,324.41 670.42,303.47 685.85,303.47" stroke-opacity="0.14"/><path d="M546.82,326.28C563.69,326.28 576.96,325.21 593.82,325.21C610.09,325.21 624.55,323.62 640.82,323.62C660.59,323.62 668.05,302.96 687.82,302.96" stroke-opacity="0.15"/><path d="M540.16,303.18C560.22,303.18 567.1,305.22 587.16,305.22C605.05,305.22 616.27,305.15 634.16,305.15C649.44,305.15 665.88,322.98 681.16,322.98" stroke-opacity="0.19"/><path d="M544.14,324.89C563.82,324.89 571.46,301.25 591.14,301.25C609.11,301.25 620.18,304.89 638.14,304.89C655.91,304.89 667.38,322.33 685.14,322.33" stroke-opacity="0.2"/><path d="M541.2,301.31C558.55,301.31 570.85,323.81 588.2,323.81C603.83,323.81 619.56,302.09 635.2,302.09C652.6,302.09 664.79,325.66 682.2,325.66" stroke-opacity="0.2"/><path d="M547.42,324.4C567.35,324.4 574.49,323.46 594.42,323.46C611.27,323.46 624.57,307.17 641.42,307.17C658.82,307.17 671.02,325.36 688.42,325.36" stroke-opacity="0.2"/><path d="M545.15,303.03C560.79,303.03 576.51,299.96 592.15,299.96C608.92,299.96 622.38,325.99 639.15,325.99C659.13,325.99 666.17,323.64 686.15,323.64" stroke-opacity="0.15"/><path d="M540.43,325.59C555.71,325.59 572.15,306.51 587.43,306.51C606.56,306.51 615.3,324.42 634.43,324.42C654.97,324.42 660.89,324.8 681.43,324.8" stroke-opacity="0.16"/><path d="M545.3,303.08C563.6,303.08 574,326.72 592.3,326.72C611.22,326.72 620.38,323.69 639.3,323.69C659.75,323.69 665.85,323.17 686.3,323.17" stroke-opacity="0.12"/><path d="M542.91,326.44C560.75,326.44 572.06,324.57 589.91,324.57C605.5,324.57 621.32,325.36 636.91,325.36C652.44,325.36 668.37,323.91 683.91,323.91" stroke-opacity="0.2"/><path d="M541.41,303.18C557.67,303.18 572.16,300.15 588.41,300.15C604.17,300.15 619.66,302.47 635.41,302.47C655.66,302.47 662.17,306.05 682.41,306.05" stroke-opacity="0.14"/><path d="M543.08,325.05C562.12,325.05 571.05,306.04 590.08,306.04C608.31,306.04 618.86,305.4 637.08,305.4C652.32,305.4 668.85,306.19 684.08,306.19" stroke-opacity="0.17"/><path d="M544.58,305.04C559.78,305.04 576.38,325.27 591.58,325.27C607.44,325.27 622.71,307.51 638.58,307.51C655.13,307.51 669.03,301.89 685.58,301.89" stroke-opacity="0.15"/><path d="M543.64,325.55C561.67,325.55 572.61,324.92 590.64,324.92C606.88,324.92 621.4,304.32 637.64,304.32C654.41,304.32 667.87,304.02 684.64,304.02" stroke-opacity="0.12"/><path d="M543.84,303.49C559.52,303.49 575.15,304.88 590.84,304.88C611.03,304.88 617.64,325.25 637.84,325.25C654.14,325.25 668.53,304.98 684.84,304.98" stroke-opacity="0.12"/><path d="M540.16,324.45C558.11,324.45 569.21,295.85 587.16,295.85C603.41,295.85 617.91,322.8 634.16,322.8C649.8,322.8 665.51,304.68 681.16,304.68" stroke-opacity="0.16"/>
</g>
<g fill="#fff">
<rect x="590.4" y="348.5" width="93.9" height="8" fill="#fff" opacity="0.06"/>
<rect x="632.69" y="354.64" width="1.8" height="1.1" opacity="0.29"/>
<rect x="625.65" y="356.2" width="1.8" height="1.1" opacity="0.17"/>
<rect x="609.25" y="348.8" width="1.8" height="1.1" opacity="0.19"/>
<rect x="594.23" y="356.2" width="1.8" height="1.1" opacity="0.06"/>
<rect x="643.97" y="349.84" width="1.8" height="1.1" opacity="0.31"/>
<rect x="617.45" y="356.2" width="1.8" height="1.1" opacity="0.11"/>
<rect x="635.35" y="352.42" width="1.8" height="1.1" opacity="0.17"/>
<rect x="652.75" y="351.05" width="1.8" height="1.1" opacity="0.19"/>
<rect x="659.8" y="350.42" width="1.8" height="1.1" opacity="0.19"/>
<rect x="676.93" y="353.24" width="1.8" height="1.1" opacity="0.08"/>
<rect x="611.74" y="349.01" width="1.8" height="1.1" opacity="0.26"/>
<rect x="681.08" y="349.16" width="1.8" height="1.1" opacity="0.1"/>
<rect x="638.25" y="352.99" width="1.8" height="1.1" opacity="0.12"/>
<rect x="652.92" y="351.71" width="1.8" height="1.1" opacity="0.08"/>
<rect x="654.99" y="352.85" width="1.8" height="1.1" opacity="0.08"/>
<rect x="596.84" y="353.64" width="1.8" height="1.1" opacity="0.35"/>
<rect x="609.68" y="351.77" width="1.8" height="1.1" opacity="0.14"/>
<rect x="643.54" y="348.94" width="1.8" height="1.1" opacity="0.32"/>
<rect x="637.73" y="352.39" width="1.8" height="1.1" opacity="0.21"/>
<rect x="647.52" y="353.8" width="1.8" height="1.1" opacity="0.19"/>
<rect x="604.45" y="353.23" width="1.8" height="1.1" opacity="0.12"/>
<rect x="628.16" y="352.41" width="1.8" height="1.1" opacity="0.18"/>
<rect x="590.91" y="351.19" width="1.8" height="1.1" opacity="0.09"/>
<rect x="649.61" y="353.77" width="1.8" height="1.1" opacity="0.12"/>
<rect x="594.16" y="352.36" width="1.8" height="1.1" opacity="0.07"/>
<rect x="658.69" y="352.16" width="1.8" height="1.1" opacity="0.17"/>
<rect x="604.82" y="349.08" width="1.8" height="1.1" opacity="0.06"/>
<rect x="680.91" y="349.76" width="1.8" height="1.1" opacity="0.14"/>
<rect x="681.33" y="353.26" width="1.8" height="1.1" opacity="0.21"/>
<rect x="666.05" y="349.12" width="1.8" height="1.1" opacity="0.06"/>
<rect x="653.95" y="348.73" width="1.8" height="1.1" opacity="0.06"/>
<rect x="606.9" y="350.76" width="1.8" height="1.1" opacity="0.07"/>
<rect x="598.19" y="353.26" width="1.8" height="1.1" opacity="0.35"/>
<rect x="677.09" y="349.96" width="1.8" height="1.1" opacity="0.16"/>
<rect x="612.63" y="353.42" width="1.8" height="1.1" opacity="0.09"/>
<rect x="617.29" y="351.82" width="1.8" height="1.1" opacity="0.37"/>
<rect x="651.09" y="351.03" width="1.8" height="1.1" opacity="0.12"/>
<rect x="676.53" y="350.54" width="1.8" height="1.1" opacity="0.31"/>
<rect x="605.08" y="352.21" width="1.8" height="1.1" opacity="0.18"/>
<rect x="595.47" y="355.83" width="1.8" height="1.1" opacity="0.17"/>
<rect x="673.28" y="349.64" width="1.8" height="1.1" opacity="0.28"/>
<rect x="676.78" y="353.51" width="1.8" height="1.1" opacity="0.27"/>
<rect x="636.52" y="352.78" width="1.8" height="1.1" opacity="0.26"/>
<rect x="590.81" y="352.68" width="1.8" height="1.1" opacity="0.27"/>
<rect x="631.15" y="348.89" width="1.8" height="1.1" opacity="0.16"/>
<rect x="658.52" y="351.36" width="1.8" height="1.1" opacity="0.07"/>
<rect x="622.63" y="349.01" width="1.8" height="1.1" opacity="0.06"/>
<rect x="606.2" y="350.26" width="1.8" height="1.1" opacity="0.38"/>
<rect x="596.16" y="347.2" width="1.8" height="1.1" opacity="0.28"/>
<rect x="621.72" y="352.06" width="1.8" height="1.1" opacity="0.09"/>
<rect x="615.42" y="354.06" width="1.8" height="1.1" opacity="0.31"/>
<rect x="628.35" y="356.2" width="1.8" height="1.1" opacity="0.07"/>
<rect x="672.7" y="347.2" width="1.8" height="1.1" opacity="0.06"/>
<rect x="622.22" y="350.55" width="1.8" height="1.1" opacity="0.07"/>
<rect x="674.33" y="351.74" width="1.8" height="1.1" opacity="0.26"/>
<rect x="672.46" y="352.91" width="1.8" height="1.1" opacity="0.07"/>
<rect x="615.47" y="352.08" width="1.8" height="1.1" opacity="0.22"/>
<rect x="630.51" y="354.34" width="1.8" height="1.1" opacity="0.15"/>
<rect x="611.08" y="350.92" width="1.8" height="1.1" opacity="0.16"/>
<rect x="630.82" y="351.56" width="1.8" height="1.1" opacity="0.16"/>
<rect x="667.09" y="350.56" width="1.8" height="1.1" opacity="0.19"/>
<rect x="594.92" y="353.91" width="1.8" height="1.1" opacity="0.21"/>
<rect x="628.38" y="351.88" width="1.8" height="1.1" opacity="0.15"/>
<rect x="663.13" y="351.77" width="1.8" height="1.1" opacity="0.06"/>
<rect x="621.7" y="352.25" width="1.8" height="1.1" opacity="0.26"/>
<rect x="680.08" y="355.11" width="1.8" height="1.1" opacity="0.19"/>
<rect x="616.95" y="353.95" width="1.8" height="1.1" opacity="0.06"/>
<rect x="639.13" y="353.69" width="1.8" height="1.1" opacity="0.3"/>
<rect x="656.59" y="353.27" width="1.8" height="1.1" opacity="0.32"/>
<rect x="611.6" y="352.22" width="1.8" height="1.1" opacity="0.38"/>
<rect x="637.67" y="351.07" width="1.8" height="1.1" opacity="0.08"/>
<rect x="649.12" y="349.02" width="1.8" height="1.1" opacity="0.22"/>
<rect x="613.66" y="352.58" width="1.8" height="1.1" opacity="0.26"/>
<rect x="669.37" y="349.69" width="1.8" height="1.1" opacity="0.07"/>
<rect x="676.15" y="349.25" width="1.8" height="1.1" opacity="0.13"/>
<rect x="603.52" y="349.98" width="1.8" height="1.1" opacity="0.06"/>
<rect x="654.57" y="349.67" width="1.8" height="1.1" opacity="0.27"/>
<rect x="636.32" y="352.36" width="1.8" height="1.1" opacity="0.12"/>
<rect x="671.39" y="351.24" width="1.8" height="1.1" opacity="0.13"/>
<rect x="599.79" y="351.26" width="1.8" height="1.1" opacity="0.12"/>
<rect x="648.12" y="348.59" width="1.8" height="1.1" opacity="0.06"/>
<rect x="669.26" y="356.2" width="1.8" height="1.1" opacity="0.38"/>
<rect x="614.24" y="350.65" width="1.8" height="1.1" opacity="0.06"/>
<rect x="652.62" y="356.2" width="1.8" height="1.1" opacity="0.28"/>
<rect x="668.27" y="349.4" width="1.8" height="1.1" opacity="0.06"/>
<rect x="676.82" y="351.31" width="1.8" height="1.1" opacity="0.06"/>
<rect x="638.77" y="355.44" width="1.8" height="1.1" opacity="0.13"/>
<rect x="641.92" y="351.55" width="1.8" height="1.1" opacity="0.32"/>
<rect x="591.18" y="350.84" width="1.8" height="1.1" opacity="0.07"/>
<rect x="638.54" y="351.01" width="1.8" height="1.1" opacity="0.11"/>
<rect x="675.17" y="353.87" width="1.8" height="1.1" opacity="0.32"/>
<rect x="618.91" y="354.78" width="1.8" height="1.1" opacity="0.11"/>
<rect x="654.27" y="351.77" width="1.8" height="1.1" opacity="0.1"/>
<rect x="649.32" y="350.51" width="1.8" height="1.1" opacity="0.11"/>
<rect x="605.7" y="353.78" width="1.8" height="1.1" opacity="0.22"/>
<rect x="599.36" y="354.33" width="1.8" height="1.1" opacity="0.11"/>
<rect x="633.74" y="353.91" width="1.8" height="1.1" opacity="0.1"/>
<rect x="633.1" y="348.99" width="1.8" height="1.1" opacity="0.07"/>
<rect x="618.98" y="351.24" width="1.8" height="1.1" opacity="0.07"/>
<rect x="648.91" y="352.03" width="1.8" height="1.1" opacity="0.33"/>
<rect x="639.8" y="352.94" width="1.8" height="1.1" opacity="0.3"/>
<rect x="626.62" y="349.38" width="1.8" height="1.1" opacity="0.24"/>
<rect x="662.79" y="349.52" width="1.8" height="1.1" opacity="0.06"/>
<rect x="623.35" y="351.68" width="1.8" height="1.1" opacity="0.37"/>
<rect x="619.25" y="353.74" width="1.8" height="1.1" opacity="0.09"/>
<rect x="648" y="351.1" width="1.8" height="1.1" opacity="0.35"/>
<rect x="651.41" y="350.72" width="1.8" height="1.1" opacity="0.28"/>
<rect x="624.44" y="349.87" width="1.8" height="1.1" opacity="0.29"/>
<rect x="623.61" y="352.79" width="1.8" height="1.1" opacity="0.06"/>
<rect x="652.65" y="349.5" width="1.8" height="1.1" opacity="0.06"/>
<rect x="664.57" y="351.47" width="1.8" height="1.1" opacity="0.28"/>
<rect x="624" y="352.66" width="1.8" height="1.1" opacity="0.1"/>
<rect x="640.69" y="350.96" width="1.8" height="1.1" opacity="0.14"/>
<rect x="608.44" y="349.09" width="1.8" height="1.1" opacity="0.31"/>
<rect x="640.72" y="352.81" width="1.8" height="1.1" opacity="0.24"/>
<rect x="669.43" y="352.54" width="1.8" height="1.1" opacity="0.16"/>
<rect x="609.11" y="355.82" width="1.8" height="1.1" opacity="0.07"/>
<rect x="645.46" y="351.51" width="1.8" height="1.1" opacity="0.21"/>
<rect x="660.56" y="352.21" width="1.8" height="1.1" opacity="0.25"/>
<rect x="598.67" y="353.59" width="1.8" height="1.1" opacity="0.37"/>
<rect x="655.94" y="351.24" width="1.8" height="1.1" opacity="0.17"/>
<rect x="620.37" y="350.03" width="1.8" height="1.1" opacity="0.23"/>
<rect x="653.63" y="353.73" width="1.8" height="1.1" opacity="0.2"/>
<rect x="617.61" y="351.13" width="1.8" height="1.1" opacity="0.14"/>
<rect x="608.34" y="347.86" width="1.8" height="1.1" opacity="0.07"/>
<rect x="640.86" y="347.79" width="1.8" height="1.1" opacity="0.07"/>
<rect x="626.76" y="350.21" width="1.8" height="1.1" opacity="0.34"/>
<rect x="622.32" y="351.22" width="1.8" height="1.1" opacity="0.22"/>
<rect x="610.76" y="349.64" width="1.8" height="1.1" opacity="0.31"/>
<rect x="643.72" y="354.03" width="1.8" height="1.1" opacity="0.07"/>
<rect x="611.58" y="352.45" width="1.8" height="1.1" opacity="0.32"/>
<rect x="594.65" y="349.2" width="1.8" height="1.1" opacity="0.16"/>
<rect x="675.89" y="352.04" width="1.8" height="1.1" opacity="0.13"/>
<rect x="669.09" y="347.2" width="1.8" height="1.1" opacity="0.07"/>
<rect x="645.27" y="350.54" width="1.8" height="1.1" opacity="0.29"/>
<rect x="630.56" y="352.99" width="1.8" height="1.1" opacity="0.1"/>
<rect x="606.68" y="351.8" width="1.8" height="1.1" opacity="0.33"/>
<rect x="631.4" y="348.97" width="1.8" height="1.1" opacity="0.06"/>
<rect x="623.23" y="354.12" width="1.8" height="1.1" opacity="0.07"/>
<rect x="641.72" y="353.78" width="1.8" height="1.1" opacity="0.1"/>
<rect x="651.94" y="349.1" width="1.8" height="1.1" opacity="0.33"/>
<rect x="647.96" y="352.19" width="1.8" height="1.1" opacity="0.18"/>
<rect x="610.6" y="351.51" width="1.8" height="1.1" opacity="0.06"/>
<rect x="668.47" y="355.54" width="1.8" height="1.1" opacity="0.16"/>
<rect x="601.17" y="349.37" width="1.8" height="1.1" opacity="0.18"/>
<rect x="618.45" y="348.13" width="1.8" height="1.1" opacity="0.17"/>
<rect x="596.86" y="352.09" width="1.8" height="1.1" opacity="0.33"/>
<rect x="645.38" y="352.08" width="1.8" height="1.1" opacity="0.06"/>
<rect x="661.75" y="350.35" width="1.8" height="1.1" opacity="0.08"/>
<rect x="611.64" y="351.1" width="1.8" height="1.1" opacity="0.2"/>
<rect x="657.16" y="350.81" width="1.8" height="1.1" opacity="0.21"/>
<rect x="641.22" y="350.22" width="1.8" height="1.1" opacity="0.14"/>
<rect x="665.88" y="351.28" width="1.8" height="1.1" opacity="0.08"/>
<rect x="642.21" y="352.99" width="1.8" height="1.1" opacity="0.14"/>
<rect x="614.73" y="349.21" width="1.8" height="1.1" opacity="0.06"/>
<rect x="608.13" y="349.65" width="1.8" height="1.1" opacity="0.07"/>
<rect x="654.48" y="353.9" width="1.8" height="1.1" opacity="0.1"/>
<rect x="626.84" y="356.2" width="1.8" height="1.1" opacity="0.3"/>
<rect x="626.36" y="353.27" width="1.8" height="1.1" opacity="0.06"/>
<rect x="616.65" y="355.16" width="1.8" height="1.1" opacity="0.26"/>
<rect x="614.52" y="350.29" width="1.8" height="1.1" opacity="0.06"/>
<rect x="605.04" y="351.47" width="1.8" height="1.1" opacity="0.07"/>
<rect x="645.49" y="348.92" width="1.8" height="1.1" opacity="0.37"/>
<rect x="618.35" y="350.59" width="1.8" height="1.1" opacity="0.22"/>
<rect x="611.24" y="350.76" width="1.8" height="1.1" opacity="0.24"/>
<rect x="666.53" y="350.39" width="1.8" height="1.1" opacity="0.14"/>
<rect x="609.97" y="351.33" width="1.8" height="1.1" opacity="0.2"/>
<rect x="682.63" y="350.69" width="1.8" height="1.1" opacity="0.11"/>
<rect x="648.7" y="354.81" width="1.8" height="1.1" opacity="0.24"/>
<rect x="671.63" y="349.06" width="1.8" height="1.1" opacity="0.06"/>
<rect x="605.62" y="350.85" width="1.8" height="1.1" opacity="0.06"/>
<rect x="591.3" y="352.83" width="1.8" height="1.1" opacity="0.11"/>
<rect x="617.06" y="356.2" width="1.8" height="1.1" opacity="0.06"/>
<rect x="594.32" y="355.71" width="1.8" height="1.1" opacity="0.07"/>
<rect x="651.76" y="355" width="1.8" height="1.1" opacity="0.08"/>
<rect x="658.41" y="354.01" width="1.8" height="1.1" opacity="0.34"/>
<rect x="593.55" y="353.57" width="1.8" height="1.1" opacity="0.06"/>
<rect x="655.02" y="356.2" width="1.8" height="1.1" opacity="0.06"/>
<rect x="638.28" y="352.35" width="1.8" height="1.1" opacity="0.17"/>
<rect x="604.79" y="347.2" width="1.8" height="1.1" opacity="0.14"/>
<rect x="622.6" y="350.77" width="1.8" height="1.1" opacity="0.06"/>
<rect x="626.96" y="350.85" width="1.8" height="1.1" opacity="0.07"/>
<rect x="628.52" y="354.22" width="1.8" height="1.1" opacity="0.13"/>
<rect x="653.2" y="352.54" width="1.8" height="1.1" opacity="0.17"/>
<rect x="617.59" y="353.32" width="1.8" height="1.1" opacity="0.1"/>
<rect x="604.11" y="354.77" width="1.8" height="1.1" opacity="0.31"/>
<rect x="669.18" y="349.5" width="1.8" height="1.1" opacity="0.07"/>
<rect x="595.1" y="348.7" width="1.8" height="1.1" opacity="0.07"/>
<rect x="638.97" y="354.72" width="1.8" height="1.1" opacity="0.06"/>
<rect x="650.6" y="349.65" width="1.8" height="1.1" opacity="0.08"/>
<rect x="647.71" y="355.94" width="1.8" height="1.1" opacity="0.15"/>
<rect x="631.23" y="352.03" width="1.8" height="1.1" opacity="0.14"/>
<rect x="669.62" y="351.57" width="1.8" height="1.1" opacity="0.14"/>
<rect x="595.8" y="348.98" width="1.8" height="1.1" opacity="0.22"/>
<rect x="600.49" y="350.06" width="1.8" height="1.1" opacity="0.13"/>
<rect x="618.82" y="351.49" width="1.8" height="1.1" opacity="0.25"/>
<rect x="621.81" y="354.38" width="1.8" height="1.1" opacity="0.14"/>
<rect x="606.3" y="349.58" width="1.8" height="1.1" opacity="0.23"/>
<rect x="666.7" y="354.09" width="1.8" height="1.1" opacity="0.09"/>
<rect x="598.99" y="352.78" width="1.8" height="1.1" opacity="0.11"/>
<rect x="599.21" y="352.56" width="1.8" height="1.1" opacity="0.38"/>
<rect x="607.41" y="351.31" width="1.8" height="1.1" opacity="0.13"/>
<rect x="663.22" y="349.08" width="1.8" height="1.1" opacity="0.33"/>
<rect x="593.67" y="350.88" width="1.8" height="1.1" opacity="0.12"/>
<rect x="640.19" y="352.63" width="1.8" height="1.1" opacity="0.22"/>
<rect x="634.86" y="350.62" width="1.8" height="1.1" opacity="0.22"/>
<rect x="601.16" y="352.6" width="1.8" height="1.1" opacity="0.08"/>
<rect x="655.76" y="351.44" width="1.8" height="1.1" opacity="0.18"/>
<rect x="623.22" y="351.49" width="1.8" height="1.1" opacity="0.07"/>
<rect x="662.04" y="354.21" width="1.8" height="1.1" opacity="0.11"/>
<rect x="613.74" y="350.61" width="1.8" height="1.1" opacity="0.22"/>
<rect x="638.83" y="351.11" width="1.8" height="1.1" opacity="0.1"/>
<rect x="640.7" y="349.65" width="1.8" height="1.1" opacity="0.17"/>
<rect x="646.65" y="353.21" width="1.8" height="1.1" opacity="0.07"/>
<rect x="647.85" y="352.49" width="1.8" height="1.1" opacity="0.06"/>
<rect x="629.8" y="347.26" width="1.8" height="1.1" opacity="0.08"/>
<rect x="597.74" y="356.07" width="1.8" height="1.1" opacity="0.11"/>
<rect x="594.74" y="352.59" width="1.8" height="1.1" opacity="0.26"/>
<rect x="648.98" y="353.95" width="1.8" height="1.1" opacity="0.06"/>
<rect x="659.06" y="349.14" width="1.8" height="1.1" opacity="0.28"/>
<rect x="617.1" y="349.62" width="1.8" height="1.1" opacity="0.06"/>
<rect x="597.81" y="354.18" width="1.8" height="1.1" opacity="0.07"/>
<rect x="623.28" y="353.78" width="1.8" height="1.1" opacity="0.11"/>
<rect x="649.33" y="354.95" width="1.8" height="1.1" opacity="0.3"/>
<rect x="617.52" y="352.26" width="1.8" height="1.1" opacity="0.13"/>
<rect x="635.91" y="348.61" width="1.8" height="1.1" opacity="0.34"/>
<rect x="626.6" y="350.23" width="1.8" height="1.1" opacity="0.34"/>
<rect x="630.27" y="352.96" width="1.8" height="1.1" opacity="0.3"/>
<rect x="666.16" y="353.43" width="1.8" height="1.1" opacity="0.1"/>
<rect x="682.09" y="351.08" width="1.8" height="1.1" opacity="0.06"/>
<rect x="639.21" y="350.77" width="1.8" height="1.1" opacity="0.06"/>
<rect x="618.61" y="349.93" width="1.8" height="1.1" opacity="0.31"/>
<rect x="637.36" y="351.25" width="1.8" height="1.1" opacity="0.34"/>
<rect x="649.62" y="352.73" width="1.8" height="1.1" opacity="0.06"/>
<rect x="648.65" y="353.14" width="1.8" height="1.1" opacity="0.16"/>
<rect x="664.93" y="349.09" width="1.8" height="1.1" opacity="0.07"/>
<rect x="635.45" y="349.15" width="1.8" height="1.1" opacity="0.26"/>
<rect x="652.62" y="354.09" width="1.8" height="1.1" opacity="0.31"/>
<rect x="649.38" y="349.71" width="1.8" height="1.1" opacity="0.07"/>
<rect x="606.42" y="351.65" width="1.8" height="1.1" opacity="0.12"/>
<rect x="612.77" y="350.54" width="1.8" height="1.1" opacity="0.12"/>
<rect x="599.58" y="351.15" width="1.8" height="1.1" opacity="0.14"/>
<rect x="632.39" y="351.2" width="1.8" height="1.1" opacity="0.08"/>
<rect x="620.77" y="349.17" width="1.8" height="1.1" opacity="0.08"/>
<rect x="642.79" y="347.2" width="1.8" height="1.1" opacity="0.24"/>
<rect x="642.4" y="355.73" width="1.8" height="1.1" opacity="0.1"/>
<rect x="669.24" y="351.66" width="1.8" height="1.1" opacity="0.09"/>
<rect x="666.79" y="347.88" width="1.8" height="1.1" opacity="0.19"/>
<rect x="674.01" y="355.16" width="1.8" height="1.1" opacity="0.34"/>
<rect x="673.25" y="350.37" width="1.8" height="1.1" opacity="0.12"/>
<rect x="606.89" y="353.23" width="1.8" height="1.1" opacity="0.12"/>
<rect x="597.49" y="351.67" width="1.8" height="1.1" opacity="0.17"/>
<rect x="658.27" y="348.77" width="1.8" height="1.1" opacity="0.11"/>
<rect x="658.86" y="352.03" width="1.8" height="1.1" opacity="0.11"/>
<rect x="649.2" y="353.24" width="1.8" height="1.1" opacity="0.14"/>
<rect x="628.92" y="355.68" width="1.8" height="1.1" opacity="0.36"/>
<rect x="621.75" y="351.57" width="1.8" height="1.1" opacity="0.31"/>
<rect x="590.55" y="350.63" width="1.8" height="1.1" opacity="0.13"/>
<rect x="602.66" y="349.7" width="1.8" height="1.1" opacity="0.07"/>
<rect x="669.64" y="349.14" width="1.8" height="1.1" opacity="0.21"/>
<rect x="623.03" y="352.76" width="1.8" height="1.1" opacity="0.24"/>
<rect x="623.54" y="352.21" width="1.8" height="1.1" opacity="0.18"/>
<rect x="659.36" y="353.61" width="1.8" height="1.1" opacity="0.13"/>
<rect x="631.57" y="349.94" width="1.8" height="1.1" opacity="0.14"/>
<rect x="669.35" y="350.87" width="1.8" height="1.1" opacity="0.17"/>
<rect x="616.32" y="355.74" width="1.8" height="1.1" opacity="0.16"/>
<rect x="593.14" y="348.21" width="1.8" height="1.1" opacity="0.06"/>
<rect x="602.47" y="354.16" width="1.8" height="1.1" opacity="0.15"/>
<rect x="682.37" y="353.77" width="1.8" height="1.1" opacity="0.07"/>
<rect x="598.97" y="353.6" width="1.8" height="1.1" opacity="0.18"/>
<rect x="648.24" y="351.24" width="1.8" height="1.1" opacity="0.06"/>
<rect x="612.21" y="352.8" width="1.8" height="1.1" opacity="0.13"/>
<rect x="661.48" y="348.9" width="1.8" height="1.1" opacity="0.07"/>
<rect x="607.99" y="350.94" width="1.8" height="1.1" opacity="0.16"/>
<rect x="659.34" y="347.98" width="1.8" height="1.1" opacity="0.06"/>
<rect x="669.97" y="349.27" width="1.8" height="1.1" opacity="0.27"/>
<rect x="667.91" y="352.86" width="1.8" height="1.1" opacity="0.08"/>
<rect x="673.59" y="348.13" width="1.8" height="1.1" opacity="0.18"/>
<rect x="648.82" y="351.94" width="1.8" height="1.1" opacity="0.29"/>
<rect x="669.34" y="350.64" width="1.8" height="1.1" opacity="0.3"/>
<rect x="591.49" y="355.09" width="1.8" height="1.1" opacity="0.07"/>
<rect x="595.46" y="355.2" width="1.8" height="1.1" opacity="0.22"/>
<rect x="678.34" y="352.73" width="1.8" height="1.1" opacity="0.16"/>
<rect x="651.35" y="353.01" width="1.8" height="1.1" opacity="0.08"/>
<rect x="658.67" y="348.24" width="1.8" height="1.1" opacity="0.25"/>
<rect x="666.36" y="354.09" width="1.8" height="1.1" opacity="0.3"/>
<rect x="657.72" y="354.27" width="1.8" height="1.1" opacity="0.06"/>
<rect x="620.56" y="347.71" width="1.8" height="1.1" opacity="0.07"/>
<rect x="606.69" y="355.17" width="1.8" height="1.1" opacity="0.08"/>
<rect x="619.19" y="347.2" width="1.8" height="1.1" opacity="0.34"/>
<rect x="626.02" y="356.2" width="1.8" height="1.1" opacity="0.17"/>
<rect x="654.3" y="347.56" width="1.8" height="1.1" opacity="0.07"/>
<rect x="598.53" y="355.96" width="1.8" height="1.1" opacity="0.16"/>
<rect x="632.85" y="349.79" width="1.8" height="1.1" opacity="0.15"/>
<rect x="682.79" y="351.05" width="1.8" height="1.1" opacity="0.07"/>
<rect x="663.11" y="354.93" width="1.8" height="1.1" opacity="0.09"/>
<rect x="644.18" y="352.29" width="1.8" height="1.1" opacity="0.31"/>
<rect x="665.15" y="350.09" width="1.8" height="1.1" opacity="0.35"/>
<rect x="591.13" y="352.33" width="1.8" height="1.1" opacity="0.06"/>
<rect x="620.65" y="354.05" width="1.8" height="1.1" opacity="0.2"/>
<rect x="644.9" y="351.86" width="1.8" height="1.1" opacity="0.07"/>
<rect x="619.01" y="350.74" width="1.8" height="1.1" opacity="0.15"/>
<rect x="606.56" y="349.54" width="1.8" height="1.1" opacity="0.1"/>
<rect x="661.94" y="355.13" width="1.8" height="1.1" opacity="0.07"/>
<rect x="658.01" y="348.27" width="1.8" height="1.1" opacity="0.24"/>
<rect x="605.2" y="352.05" width="1.8" height="1.1" opacity="0.26"/>
<rect x="631.33" y="347.29" width="1.8" height="1.1" opacity="0.06"/>
<rect x="646.77" y="352.96" width="1.8" height="1.1" opacity="0.21"/>
<rect x="631.13" y="353.79" width="1.8" height="1.1" opacity="0.06"/>
<rect x="630.51" y="354.79" width="1.8" height="1.1" opacity="0.06"/>
<rect x="641.81" y="354.48" width="1.8" height="1.1" opacity="0.36"/>
<rect x="597.19" y="347.31" width="1.8" height="1.1" opacity="0.11"/>
<rect x="663.65" y="352.24" width="1.8" height="1.1" opacity="0.16"/>
<rect x="622.33" y="348.76" width="1.8" height="1.1" opacity="0.07"/>
<rect x="629.55" y="355.61" width="1.8" height="1.1" opacity="0.06"/>
<rect x="675.86" y="351.76" width="1.8" height="1.1" opacity="0.06"/>
<rect x="672" y="354.32" width="1.8" height="1.1" opacity="0.06"/>
<rect x="647.97" y="352.44" width="1.8" height="1.1" opacity="0.06"/>
<rect x="610.42" y="347.7" width="1.8" height="1.1" opacity="0.25"/>
<rect x="674" y="349.94" width="1.8" height="1.1" opacity="0.08"/>
<rect x="667.07" y="351.42" width="1.8" height="1.1" opacity="0.26"/>
<rect x="622.99" y="353.53" width="1.8" height="1.1" opacity="0.06"/>
<rect x="627.08" y="349.17" width="1.8" height="1.1" opacity="0.24"/>
<rect x="626.45" y="352.76" width="1.8" height="1.1" opacity="0.12"/>
<rect x="669.79" y="349.12" width="1.8" height="1.1" opacity="0.15"/>
<rect x="594.61" y="350.68" width="1.8" height="1.1" opacity="0.23"/>
<rect x="592.95" y="354.27" width="1.8" height="1.1" opacity="0.06"/>
<rect x="616.02" y="351.7" width="1.8" height="1.1" opacity="0.06"/>
<rect x="641.06" y="353.48" width="1.8" height="1.1" opacity="0.16"/>
<rect x="659.78" y="352.44" width="1.8" height="1.1" opacity="0.09"/>
<rect x="638.69" y="348.2" width="1.8" height="1.1" opacity="0.29"/>
<rect x="657.61" y="348.75" width="1.8" height="1.1" opacity="0.22"/>
<rect x="663.35" y="350.83" width="1.8" height="1.1" opacity="0.06"/>
<rect x="637.31" y="350.45" width="1.8" height="1.1" opacity="0.31"/>
<rect x="651.89" y="353.01" width="1.8" height="1.1" opacity="0.1"/>
<rect x="604.05" y="351.45" width="1.8" height="1.1" opacity="0.12"/>
<rect x="612.13" y="349.68" width="1.8" height="1.1" opacity="0.06"/>
<rect x="655.14" y="356.2" width="1.8" height="1.1" opacity="0.22"/>
<rect x="641.16" y="347.84" width="1.8" height="1.1" opacity="0.33"/>
<rect x="647.52" y="352.46" width="1.8" height="1.1" opacity="0.17"/>
<rect x="614.04" y="351.15" width="1.8" height="1.1" opacity="0.14"/>
<rect x="676.19" y="354.33" width="1.8" height="1.1" opacity="0.2"/>
<rect x="622.07" y="352.82" width="1.8" height="1.1" opacity="0.08"/>
<rect x="590.62" y="356.2" width="1.8" height="1.1" opacity="0.06"/>
<rect x="621.27" y="354.4" width="1.8" height="1.1" opacity="0.3"/>
<rect x="676.29" y="350.66" width="1.8" height="1.1" opacity="0.32"/>
<rect x="655.03" y="355.54" width="1.8" height="1.1" opacity="0.17"/>
<rect x="668.7" y="352.85" width="1.8" height="1.1" opacity="0.38"/>
<rect x="681.11" y="352.28" width="1.8" height="1.1" opacity="0.07"/>
<rect x="635.82" y="352.17" width="1.8" height="1.1" opacity="0.06"/>
<rect x="676.64" y="353.88" width="1.8" height="1.1" opacity="0.27"/>
<rect x="602.56" y="355.89" width="1.8" height="1.1" opacity="0.11"/>
<rect x="632.21" y="352.38" width="1.8" height="1.1" opacity="0.07"/>
<rect x="675.16" y="348.53" width="1.8" height="1.1" opacity="0.3"/>
<rect x="605.99" y="349.87" width="1.8" height="1.1" opacity="0.21"/>
<rect x="638.45" y="356.2" width="1.8" height="1.1" opacity="0.24"/>
<rect x="594.97" y="351.99" width="1.8" height="1.1" opacity="0.06"/>
<rect x="596.84" y="356.2" width="1.8" height="1.1" opacity="0.36"/>
<rect x="675.74" y="354.45" width="1.8" height="1.1" opacity="0.1"/>
<rect x="660.04" y="350.77" width="1.8" height="1.1" opacity="0.1"/>
<rect x="676.63" y="349.4" width="1.8" height="1.1" opacity="0.06"/>
<rect x="633.69" y="354.43" width="1.8" height="1.1" opacity="0.07"/>
<rect x="650.48" y="354.79" width="1.8" height="1.1" opacity="0.17"/>
<rect x="678.81" y="351.59" width="1.8" height="1.1" opacity="0.3"/>
<rect x="653.78" y="352.7" width="1.8" height="1.1" opacity="0.19"/>
<rect x="655.07" y="354.41" width="1.8" height="1.1" opacity="0.16"/>
<rect x="657" y="352.57" width="1.8" height="1.1" opacity="0.17"/>
<rect x="607.65" y="354.8" width="1.8" height="1.1" opacity="0.11"/>
<rect x="683.28" y="351.09" width="1.8" height="1.1" opacity="0.31"/>
<rect x="629.46" y="350.65" width="1.8" height="1.1" opacity="0.11"/>
<rect x="641.77" y="354.14" width="1.8" height="1.1" opacity="0.13"/>
<rect x="642.54" y="354.88" width="1.8" height="1.1" opacity="0.06"/>
<rect x="657.52" y="347.75" width="1.8" height="1.1" opacity="0.06"/>
<rect x="668.1" y="354.62" width="1.8" height="1.1" opacity="0.06"/>
<rect x="596.1" y="354.04" width="1.8" height="1.1" opacity="0.07"/>
<rect x="647.23" y="351.68" width="1.8" height="1.1" opacity="0.06"/>
<rect x="629.42" y="351" width="1.8" height="1.1" opacity="0.24"/>
<rect x="660" y="352.29" width="1.8" height="1.1" opacity="0.1"/>
<rect x="610.66" y="352.28" width="1.8" height="1.1" opacity="0.09"/>
<rect x="634.72" y="348.5" width="1.8" height="1.1" opacity="0.26"/>
<rect x="654.07" y="352.38" width="1.8" height="1.1" opacity="0.3"/>
<rect x="614.99" y="352.69" width="1.8" height="1.1" opacity="0.07"/>
<rect x="608.31" y="354.5" width="1.8" height="1.1" opacity="0.37"/>
<rect x="610.3" y="354.3" width="1.8" height="1.1" opacity="0.1"/>
<rect x="630.98" y="351.46" width="1.8" height="1.1" opacity="0.2"/>
<rect x="594.75" y="355.62" width="1.8" height="1.1" opacity="0.34"/>
<rect x="594.08" y="352.86" width="1.8" height="1.1" opacity="0.08"/>
<rect x="623.8" y="349.9" width="1.8" height="1.1" opacity="0.07"/>
<rect x="656.49" y="355.65" width="1.8" height="1.1" opacity="0.22"/>
<rect x="650.92" y="354.41" width="1.8" height="1.1" opacity="0.17"/>
<rect x="662.03" y="350.26" width="1.8" height="1.1" opacity="0.3"/>
<rect x="681.89" y="348.69" width="1.8" height="1.1" opacity="0.31"/>
<rect x="610.34" y="351.99" width="1.8" height="1.1" opacity="0.19"/>
<rect x="676.99" y="349.55" width="1.8" height="1.1" opacity="0.07"/>
<rect x="664.93" y="351.99" width="1.8" height="1.1" opacity="0.18"/>
<rect x="660.94" y="351.42" width="1.8" height="1.1" opacity="0.07"/>
<rect x="680.24" y="350.31" width="1.8" height="1.1" opacity="0.07"/>
<rect x="676.11" y="352.64" width="1.8" height="1.1" opacity="0.35"/>
<rect x="656.58" y="352.4" width="1.8" height="1.1" opacity="0.27"/>
<rect x="621.17" y="355.53" width="1.8" height="1.1" opacity="0.33"/>
<rect x="622.05" y="352.05" width="1.8" height="1.1" opacity="0.07"/>
<rect x="671.7" y="350.19" width="1.8" height="1.1" opacity="0.24"/>
<rect x="679.61" y="349.64" width="1.8" height="1.1" opacity="0.08"/>
<rect x="656.09" y="354.01" width="1.8" height="1.1" opacity="0.17"/>
<rect x="666.71" y="353.08" width="1.8" height="1.1" opacity="0.08"/>
<rect x="658.39" y="350.69" width="1.8" height="1.1" opacity="0.08"/>
<rect x="613.78" y="353.5" width="1.8" height="1.1" opacity="0.06"/>
<rect x="668.65" y="351.13" width="1.8" height="1.1" opacity="0.08"/>
<rect x="600.9" y="351.61" width="1.8" height="1.1" opacity="0.24"/>
<rect x="661.71" y="351.74" width="1.8" height="1.1" opacity="0.06"/>
<rect x="665.97" y="354.96" width="1.8" height="1.1" opacity="0.18"/>
<rect x="627.55" y="353.56" width="1.8" height="1.1" opacity="0.18"/>
<rect x="679.23" y="349.74" width="1.8" height="1.1" opacity="0.17"/>
<rect x="672.4" y="348.87" width="1.8" height="1.1" opacity="0.08"/>
<rect x="675.51" y="352.91" width="1.8" height="1.1" opacity="0.32"/>
<rect x="653.4" y="353.27" width="1.8" height="1.1" opacity="0.3"/>
<rect x="679.03" y="350.05" width="1.8" height="1.1" opacity="0.06"/>
<rect x="606.29" y="356.2" width="1.8" height="1.1" opacity="0.07"/>
<rect x="672.18" y="356.2" width="1.8" height="1.1" opacity="0.32"/>
<rect x="623.48" y="353.3" width="1.8" height="1.1" opacity="0.06"/>
<rect x="598.15" y="348.81" width="1.8" height="1.1" opacity="0.11"/>
<rect x="621.07" y="353.63" width="1.8" height="1.1" opacity="0.08"/>
<rect x="599.08" y="353.38" width="1.8" height="1.1" opacity="0.33"/>
<rect x="608.04" y="352.48" width="1.8" height="1.1" opacity="0.16"/>
<rect x="645.12" y="350.86" width="1.8" height="1.1" opacity="0.23"/>
<rect x="606.42" y="351.67" width="1.8" height="1.1" opacity="0.09"/>
<rect x="616" y="350.12" width="1.8" height="1.1" opacity="0.06"/>
<rect x="664.44" y="351.87" width="1.8" height="1.1" opacity="0.08"/>
<rect x="624.86" y="348.54" width="1.8" height="1.1" opacity="0.28"/>
<rect x="642.55" y="349.61" width="1.8" height="1.1" opacity="0.07"/>
<rect x="663.36" y="349.83" width="1.8" height="1.1" opacity="0.1"/>
<rect x="640.73" y="349.16" width="1.8" height="1.1" opacity="0.07"/>
<rect x="603.51" y="352.52" width="1.8" height="1.1" opacity="0.31"/>
<rect x="608.95" y="351.1" width="1.8" height="1.1" opacity="0.1"/>
<rect x="607.27" y="352.82" width="1.8" height="1.1" opacity="0.06"/>
<rect x="682.9" y="349.27" width="1.8" height="1.1" opacity="0.15"/>
<rect x="631.25" y="350.38" width="1.8" height="1.1" opacity="0.21"/>
<rect x="605.87" y="353.25" width="1.8" height="1.1" opacity="0.22"/>
<rect x="667.53" y="350.11" width="1.8" height="1.1" opacity="0.06"/>
<rect x="676.7" y="351.76" width="1.8" height="1.1" opacity="0.08"/>
<rect x="616.31" y="351.91" width="1.8" height="1.1" opacity="0.31"/>
<rect x="666.78" y="354.07" width="1.8" height="1.1" opacity="0.06"/>
<rect x="609.27" y="350.25" width="1.8" height="1.1" opacity="0.11"/>
<rect x="644.86" y="351.94" width="1.8" height="1.1" opacity="0.12"/>
<rect x="666.52" y="354.54" width="1.8" height="1.1" opacity="0.06"/>
<rect x="672.4" y="350.01" width="1.8" height="1.1" opacity="0.13"/>
<rect x="672.57" y="355.05" width="1.8" height="1.1" opacity="0.11"/>
<rect x="605.55" y="352.44" width="1.8" height="1.1" opacity="0.08"/>
<rect x="675.28" y="350.26" width="1.8" height="1.1" opacity="0.17"/>
<rect x="617.35" y="354.63" width="1.8" height="1.1" opacity="0.06"/>
</g>
</g></g>
<rect x="590.4" y="22" width="93.9" height="1.6" fill="#050304" />
<line x1="245.1" y1="52.5" x2="339" y2="52.5" stroke="#d0d0d0" stroke-width="1.0" />
<line x1="245.1" y1="176.6" x2="339" y2="176.6" stroke="#d0d0d0" stroke-width="1.0" />
<line x1="245.1" y1="268.3" x2="339" y2="268.3" stroke="#d0d0d0" stroke-width="1.0" />
<line x1="590.4" y1="52.5" x2="684.3" y2="52.5" stroke="#d8d8d8" stroke-width="1.0" />
<line x1="590.4" y1="176.6" x2="684.3" y2="176.6" stroke="#d8d8d8" stroke-width="1.0" />
<line x1="590.4" y1="268.3" x2="684.3" y2="268.3" stroke="#d8d8d8" stroke-width="1.0" />
<line x1="590.4" y1="327.1" x2="684.3" y2="327.1" stroke="#d8d8d8" stroke-width="1.0" />
<text x="228.3" y="11.7" font-size="15" text-anchor="start" fill="#2b2b2b" style="" textLength="17.2" lengthAdjust="spacingAndGlyphs" >(b)</text>
<text x="252.3" y="18.6" font-size="15" text-anchor="start" fill="#2b2b2b" style="" textLength="80.6" lengthAdjust="spacingAndGlyphs" >E. D. 20 Gb/s</text>
<text x="573.6" y="11.7" font-size="15" text-anchor="start" fill="#2b2b2b" style="" textLength="17.4" lengthAdjust="spacingAndGlyphs" >(d)</text>
<text x="597" y="18.6" font-size="15" text-anchor="start" fill="#2b2b2b" style="" textLength="80.4" lengthAdjust="spacingAndGlyphs" >E. D. 50 Gb/s</text>
<rect x="235.5" y="368.3" width="189" height="15" fill="none" stroke="#8a8a8a" stroke-width="1"/>
<path d="M243.6,371.8L251.6,379.8M251.6,371.8L243.6,379.8" stroke="#1a96d4" stroke-width="2.6" stroke-linecap="round"/>
<text x="256" y="379.8" font-size="12.5" text-anchor="start" fill="#2b2b2b" style="" textLength="37.5" lengthAdjust="spacingAndGlyphs" >HD = 0</text>
<path d="M304.2,371.8L312.2,379.8M312.2,371.8L304.2,379.8" stroke="#8c8cc4" stroke-width="2.6" stroke-linecap="round"/>
<text x="318.8" y="379.8" font-size="12.5" text-anchor="start" fill="#2b2b2b" style="" textLength="36.4" lengthAdjust="spacingAndGlyphs" >HD = 1</text>
<path d="M367,371.8L375,379.8M375,371.8L367,379.8" stroke="#e62a3c" stroke-width="2.6" stroke-linecap="round"/>
<text x="382.6" y="379.8" font-size="12.5" text-anchor="start" fill="#2b2b2b" style="" textLength="37.3" lengthAdjust="spacingAndGlyphs" >HD = 2</text>
<defs><pattern id="hatch2" patternUnits="userSpaceOnUse" width="2.2" height="8" patternTransform="rotate(20)"><rect width="2.2" height="8" fill="#8c8c8c"/><rect width="1.1" height="8" fill="#363636"/></pattern><pattern id="hatch" patternUnits="userSpaceOnUse" width="8" height="2.05" patternTransform="rotate(-11)"><rect width="8" height="2.05" fill="#8c8c8c"/><rect width="8" height="1.05" fill="#363636"/></pattern></defs>
<rect x="42.9" y="538" width="11.3" height="6.7" fill="#787878" />
<rect x="59.8" y="538" width="11.8" height="6.7" fill="#787878" />
<rect x="76.7" y="440.8" width="11.3" height="103.9" fill="#787878" />
<rect x="90.8" y="431" width="11.2" height="113.7" fill="#0b1214" />
<rect x="108.2" y="447" width="11.3" height="97.7" fill="#787878" />
<rect x="122.9" y="445" width="10.7" height="99.7" fill="#0b1214" />
<rect x="140" y="431.5" width="11.3" height="113.2" fill="#787878" />
<rect x="154.2" y="431.5" width="11.2" height="113.2" fill="#0b1214" />
<rect x="172.2" y="432.4" width="10.7" height="112.3" fill="#787878" />
<rect x="186.3" y="431.6" width="11.2" height="113.1" fill="#0b1214" />
<rect x="210.2" y="520.7" width="11.3" height="24" fill="url(#hatch)" />
<rect x="242" y="526.4" width="11.3" height="18.3" fill="url(#hatch)" />
<rect x="275" y="467.7" width="11.6" height="77" fill="url(#hatch)" />
<rect x="306.9" y="514.2" width="11.3" height="30.5" fill="url(#hatch)" />
<path d="M336.6,411.5V544.7" fill="none" stroke="#8a8a8a" stroke-width="1.3"/>
<path d="M336.6,411.5H38.5V544.7H336.6" fill="none" stroke="#3a3a3a" stroke-width="1.2"/>
<line x1="36.1" y1="412.2" x2="38.5" y2="412.2" stroke="#333" stroke-width="1.2" />
<line x1="36.1" y1="426.4" x2="38.5" y2="426.4" stroke="#333" stroke-width="1.2" />
<line x1="36.1" y1="444.95" x2="38.5" y2="444.95" stroke="#333" stroke-width="1.2" />
<line x1="36.1" y1="463.5" x2="38.5" y2="463.5" stroke="#333" stroke-width="1.2" />
<line x1="36.1" y1="482.05" x2="38.5" y2="482.05" stroke="#333" stroke-width="1.2" />
<line x1="36.1" y1="500.6" x2="38.5" y2="500.6" stroke="#333" stroke-width="1.2" />
<line x1="36.1" y1="519.15" x2="38.5" y2="519.15" stroke="#333" stroke-width="1.2" />
<line x1="36.1" y1="537.7" x2="38.5" y2="537.7" stroke="#333" stroke-width="1.2" />
<text x="29.4" y="415.5" font-size="12.3" text-anchor="end" fill="#2b2b2b" style="" textLength="9.4" lengthAdjust="spacingAndGlyphs" >10</text>
<text x="29.5" y="409.9" font-size="6.0" text-anchor="start" fill="#2b2b2b" style="" >-2</text>
<text x="29.4" y="433.61" font-size="12.3" text-anchor="end" fill="#2b2b2b" style="" textLength="9.4" lengthAdjust="spacingAndGlyphs" >10</text>
<text x="29.5" y="428.01" font-size="6.0" text-anchor="start" fill="#2b2b2b" style="" >-3</text>
<text x="29.4" y="451.72" font-size="12.3" text-anchor="end" fill="#2b2b2b" style="" textLength="9.4" lengthAdjust="spacingAndGlyphs" >10</text>
<text x="29.5" y="446.12" font-size="6.0" text-anchor="start" fill="#2b2b2b" style="" >-4</text>
<text x="29.4" y="469.83" font-size="12.3" text-anchor="end" fill="#2b2b2b" style="" textLength="9.4" lengthAdjust="spacingAndGlyphs" >10</text>
<text x="29.5" y="464.23" font-size="6.0" text-anchor="start" fill="#2b2b2b" style="" >-5</text>
<text x="29.4" y="487.94" font-size="12.3" text-anchor="end" fill="#2b2b2b" style="" textLength="9.4" lengthAdjust="spacingAndGlyphs" >10</text>
<text x="29.5" y="482.34" font-size="6.0" text-anchor="start" fill="#2b2b2b" style="" >-6</text>
<text x="29.4" y="506.05" font-size="12.3" text-anchor="end" fill="#2b2b2b" style="" textLength="9.4" lengthAdjust="spacingAndGlyphs" >10</text>
<text x="29.5" y="500.45" font-size="6.0" text-anchor="start" fill="#2b2b2b" style="" >-7</text>
<text x="29.4" y="524.16" font-size="12.3" text-anchor="end" fill="#2b2b2b" style="" textLength="9.4" lengthAdjust="spacingAndGlyphs" >10</text>
<text x="29.5" y="518.56" font-size="6.0" text-anchor="start" fill="#2b2b2b" style="" >-8</text>
<text x="29.4" y="542.27" font-size="12.3" text-anchor="end" fill="#2b2b2b" style="" textLength="9.4" lengthAdjust="spacingAndGlyphs" >10</text>
<text x="29.5" y="536.67" font-size="6.0" text-anchor="start" fill="#2b2b2b" style="" >-9</text>
<line x1="48.6" y1="544.7" x2="48.6" y2="546.7" stroke="#3a3a3a" stroke-width="1.0" />
<line x1="65.7" y1="544.7" x2="65.7" y2="546.7" stroke="#3a3a3a" stroke-width="1.0" />
<line x1="89.4" y1="544.7" x2="89.4" y2="546.7" stroke="#3a3a3a" stroke-width="1.0" />
<line x1="120.9" y1="544.7" x2="120.9" y2="546.7" stroke="#3a3a3a" stroke-width="1.0" />
<line x1="152.7" y1="544.7" x2="152.7" y2="546.7" stroke="#3a3a3a" stroke-width="1.0" />
<line x1="184.9" y1="544.7" x2="184.9" y2="546.7" stroke="#3a3a3a" stroke-width="1.0" />
<line x1="215.9" y1="544.7" x2="215.9" y2="546.7" stroke="#3a3a3a" stroke-width="1.0" />
<line x1="247.6" y1="544.7" x2="247.6" y2="546.7" stroke="#3a3a3a" stroke-width="1.0" />
<line x1="280.8" y1="544.7" x2="280.8" y2="546.7" stroke="#3a3a3a" stroke-width="1.0" />
<line x1="312.5" y1="544.7" x2="312.5" y2="546.7" stroke="#3a3a3a" stroke-width="1.0" />
<text x="48.9" y="555.8" font-size="12.5" text-anchor="middle" fill="#2b2b2b" style="" textLength="12.2" lengthAdjust="spacingAndGlyphs" >B1</text>
<text x="65.7" y="555.8" font-size="12.5" text-anchor="middle" fill="#2b2b2b" style="" textLength="12.6" lengthAdjust="spacingAndGlyphs" >B2</text>
<text x="90.4" y="555.8" font-size="12.5" text-anchor="middle" fill="#2b2b2b" style="" textLength="16" lengthAdjust="spacingAndGlyphs" >'00'</text>
<text x="121.4" y="555.8" font-size="12.5" text-anchor="middle" fill="#2b2b2b" style="" textLength="16" lengthAdjust="spacingAndGlyphs" >'01'</text>
<text x="153.2" y="555.8" font-size="12.5" text-anchor="middle" fill="#2b2b2b" style="" textLength="16" lengthAdjust="spacingAndGlyphs" >'10'</text>
<text x="185.5" y="555.8" font-size="12.5" text-anchor="middle" fill="#2b2b2b" style="" textLength="17" lengthAdjust="spacingAndGlyphs" >'11'</text>
<text x="214.8" y="555.8" font-size="12.5" text-anchor="middle" fill="#2b2b2b" style="" textLength="19.2" lengthAdjust="spacingAndGlyphs" >'X0'</text>
<text x="248.9" y="555.8" font-size="12.5" text-anchor="middle" fill="#2b2b2b" style="" textLength="19.2" lengthAdjust="spacingAndGlyphs" >'0X'</text>
<text x="282.2" y="555.8" font-size="12.5" text-anchor="middle" fill="#2b2b2b" style="" textLength="18.4" lengthAdjust="spacingAndGlyphs" >'1X'</text>
<text x="315.6" y="555.8" font-size="12.5" text-anchor="middle" fill="#2b2b2b" style="" textLength="19.7" lengthAdjust="spacingAndGlyphs" >'X1'</text>
<text x="132.7" y="406.3" font-size="12.5" text-anchor="start" fill="#2b2b2b" style="" textLength="111.3" lengthAdjust="spacingAndGlyphs" >Error Rates at 20 Gb/s</text>
<text x="-0.3" y="400.7" font-size="15.5" text-anchor="start" fill="#2b2b2b" style="" textLength="16.6" lengthAdjust="spacingAndGlyphs" >(e)</text>
<text x="0" y="0" font-size="11" fill="#2b2b2b" text-anchor="middle" textLength="46.9" lengthAdjust="spacingAndGlyphs" transform="translate(11.4,480) rotate(-90)">MER/SER</text>
<text x="42" y="537.2" font-size="8.0" text-anchor="start" fill="#444" style="" textLength="11" lengthAdjust="spacingAndGlyphs" >&lt;10</text>
<text x="53.2" y="533.8" font-size="4.5" text-anchor="start" fill="#444" style="" >-9</text>
<text x="59.1" y="537.2" font-size="8.0" text-anchor="start" fill="#444" style="" textLength="11" lengthAdjust="spacingAndGlyphs" >&lt;10</text>
<text x="70.3" y="533.8" font-size="4.5" text-anchor="start" fill="#444" style="" >-9</text>
<rect x="272.2" y="411.5" width="64.2" height="28.7" fill="#fff" stroke="#333" stroke-width="1"/>
<rect x="273.9" y="413.2" width="13.7" height="6.6" fill="#787878" />
<rect x="273.9" y="422.5" width="13.7" height="6.6" fill="#0b1214" />
<rect x="273.9" y="431.3" width="13.7" height="7" fill="url(#hatch2)" />
<text x="288.4" y="419.4" font-size="9.5" text-anchor="start" fill="#2b2b2b" style="" textLength="19" lengthAdjust="spacingAndGlyphs" >MER</text>
<text x="288.4" y="428.8" font-size="9.5" text-anchor="start" fill="#2b2b2b" style="" textLength="16.5" lengthAdjust="spacingAndGlyphs" >SER</text>
<text x="288.4" y="438" font-size="9.5" text-anchor="start" fill="#2b2b2b" style="" textLength="45.3" lengthAdjust="spacingAndGlyphs" >MER = SER</text>
<rect x="393.5" y="537.5" width="11.2" height="5.7" fill="#787878" />
<rect x="411.2" y="537.5" width="11.3" height="5.7" fill="#787878" />
<rect x="426.7" y="419.7" width="11.3" height="123.5" fill="#787878" />
<rect x="440.8" y="418.6" width="11.2" height="124.6" fill="#0b1214" />
<rect x="458.2" y="431.8" width="11.3" height="111.4" fill="#787878" />
<rect x="472.6" y="427.3" width="11.3" height="115.9" fill="#0b1214" />
<rect x="490" y="429.6" width="11.3" height="113.6" fill="#787878" />
<rect x="504.2" y="428.2" width="11.2" height="115" fill="#0b1214" />
<rect x="522.2" y="417.5" width="10.7" height="125.7" fill="#787878" />
<rect x="536.3" y="416.9" width="11.2" height="126.3" fill="#0b1214" />
<rect x="560.8" y="450.7" width="11.2" height="92.5" fill="url(#hatch)" />
<rect x="592" y="511.3" width="11.9" height="31.9" fill="url(#hatch)" />
<rect x="623.6" y="464.8" width="11.5" height="78.4" fill="url(#hatch)" />
<rect x="654" y="444.2" width="11.6" height="99" fill="url(#hatch)" />
<path d="M682.7,410.9V543.2" fill="none" stroke="#8a8a8a" stroke-width="1.3"/>
<path d="M682.7,410.9H387.4V543.2H682.7" fill="none" stroke="#3a3a3a" stroke-width="1.2"/>
<line x1="385" y1="412.4" x2="387.4" y2="412.4" stroke="#333" stroke-width="1.2" />
<line x1="385" y1="426.3" x2="387.4" y2="426.3" stroke="#333" stroke-width="1.2" />
<line x1="385" y1="444.78" x2="387.4" y2="444.78" stroke="#333" stroke-width="1.2" />
<line x1="385" y1="463.26" x2="387.4" y2="463.26" stroke="#333" stroke-width="1.2" />
<line x1="385" y1="481.74" x2="387.4" y2="481.74" stroke="#333" stroke-width="1.2" />
<line x1="385" y1="500.22" x2="387.4" y2="500.22" stroke="#333" stroke-width="1.2" />
<line x1="385" y1="518.7" x2="387.4" y2="518.7" stroke="#333" stroke-width="1.2" />
<line x1="385" y1="537.18" x2="387.4" y2="537.18" stroke="#333" stroke-width="1.2" />
<text x="378.7" y="416" font-size="12.3" text-anchor="end" fill="#2b2b2b" style="" textLength="9.4" lengthAdjust="spacingAndGlyphs" >10</text>
<text x="378.8" y="410.4" font-size="6.0" text-anchor="start" fill="#2b2b2b" style="" >-2</text>
<text x="378.7" y="433.84" font-size="12.3" text-anchor="end" fill="#2b2b2b" style="" textLength="9.4" lengthAdjust="spacingAndGlyphs" >10</text>
<text x="378.8" y="428.24" font-size="6.0" text-anchor="start" fill="#2b2b2b" style="" >-3</text>
<text x="378.7" y="451.68" font-size="12.3" text-anchor="end" fill="#2b2b2b" style="" textLength="9.4" lengthAdjust="spacingAndGlyphs" >10</text>
<text x="378.8" y="446.08" font-size="6.0" text-anchor="start" fill="#2b2b2b" style="" >-4</text>
<text x="378.7" y="469.52" font-size="12.3" text-anchor="end" fill="#2b2b2b" style="" textLength="9.4" lengthAdjust="spacingAndGlyphs" >10</text>
<text x="378.8" y="463.92" font-size="6.0" text-anchor="start" fill="#2b2b2b" style="" >-5</text>
<text x="378.7" y="487.36" font-size="12.3" text-anchor="end" fill="#2b2b2b" style="" textLength="9.4" lengthAdjust="spacingAndGlyphs" >10</text>
<text x="378.8" y="481.76" font-size="6.0" text-anchor="start" fill="#2b2b2b" style="" >-6</text>
<text x="378.7" y="505.2" font-size="12.3" text-anchor="end" fill="#2b2b2b" style="" textLength="9.4" lengthAdjust="spacingAndGlyphs" >10</text>
<text x="378.8" y="499.6" font-size="6.0" text-anchor="start" fill="#2b2b2b" style="" >-7</text>
<text x="378.7" y="523.04" font-size="12.3" text-anchor="end" fill="#2b2b2b" style="" textLength="9.4" lengthAdjust="spacingAndGlyphs" >10</text>
<text x="378.8" y="517.44" font-size="6.0" text-anchor="start" fill="#2b2b2b" style="" >-8</text>
<text x="378.7" y="540.88" font-size="12.3" text-anchor="end" fill="#2b2b2b" style="" textLength="9.4" lengthAdjust="spacingAndGlyphs" >10</text>
<text x="378.8" y="535.28" font-size="6.0" text-anchor="start" fill="#2b2b2b" style="" >-9</text>
<line x1="399.1" y1="543.2" x2="399.1" y2="545.2" stroke="#3a3a3a" stroke-width="1.0" />
<line x1="416.8" y1="543.2" x2="416.8" y2="545.2" stroke="#3a3a3a" stroke-width="1.0" />
<line x1="439.4" y1="543.2" x2="439.4" y2="545.2" stroke="#3a3a3a" stroke-width="1.0" />
<line x1="471.1" y1="543.2" x2="471.1" y2="545.2" stroke="#3a3a3a" stroke-width="1.0" />
<line x1="502.7" y1="543.2" x2="502.7" y2="545.2" stroke="#3a3a3a" stroke-width="1.0" />
<line x1="534.9" y1="543.2" x2="534.9" y2="545.2" stroke="#3a3a3a" stroke-width="1.0" />
<line x1="566.4" y1="543.2" x2="566.4" y2="545.2" stroke="#3a3a3a" stroke-width="1.0" />
<line x1="598" y1="543.2" x2="598" y2="545.2" stroke="#3a3a3a" stroke-width="1.0" />
<line x1="629.4" y1="543.2" x2="629.4" y2="545.2" stroke="#3a3a3a" stroke-width="1.0" />
<line x1="659.8" y1="543.2" x2="659.8" y2="545.2" stroke="#3a3a3a" stroke-width="1.0" />
<text x="399.1" y="555.8" font-size="12.5" text-anchor="middle" fill="#2b2b2b" style="" textLength="12.2" lengthAdjust="spacingAndGlyphs" >B1</text>
<text x="416.8" y="555.8" font-size="12.5" text-anchor="middle" fill="#2b2b2b" style="" textLength="12.6" lengthAdjust="spacingAndGlyphs" >B2</text>
<text x="439.4" y="555.8" font-size="12.5" text-anchor="middle" fill="#2b2b2b" style="" textLength="16" lengthAdjust="spacingAndGlyphs" >'00'</text>
<text x="471.2" y="555.8" font-size="12.5" text-anchor="middle" fill="#2b2b2b" style="" textLength="16" lengthAdjust="spacingAndGlyphs" >'01'</text>
<text x="502.7" y="555.8" font-size="12.5" text-anchor="middle" fill="#2b2b2b" style="" textLength="16" lengthAdjust="spacingAndGlyphs" >'10'</text>
<text x="535" y="555.8" font-size="12.5" text-anchor="middle" fill="#2b2b2b" style="" textLength="17" lengthAdjust="spacingAndGlyphs" >'11'</text>
<text x="566.4" y="555.8" font-size="12.5" text-anchor="middle" fill="#2b2b2b" style="" textLength="19.2" lengthAdjust="spacingAndGlyphs" >'X0'</text>
<text x="597.9" y="555.8" font-size="12.5" text-anchor="middle" fill="#2b2b2b" style="" textLength="19.2" lengthAdjust="spacingAndGlyphs" >'0X'</text>
<text x="629.4" y="555.8" font-size="12.5" text-anchor="middle" fill="#2b2b2b" style="" textLength="18.4" lengthAdjust="spacingAndGlyphs" >'1X'</text>
<text x="660" y="555.8" font-size="12.5" text-anchor="middle" fill="#2b2b2b" style="" textLength="19.7" lengthAdjust="spacingAndGlyphs" >'X1'</text>
<text x="480.6" y="406" font-size="12.5" text-anchor="start" fill="#2b2b2b" style="" textLength="111.6" lengthAdjust="spacingAndGlyphs" >Error Rates at 50 Gb/s</text>
<text x="345.2" y="400.7" font-size="15.5" text-anchor="start" fill="#2b2b2b" style="" textLength="15.6" lengthAdjust="spacingAndGlyphs" >(f)</text>
<text x="0" y="0" font-size="11" fill="#2b2b2b" text-anchor="middle" textLength="46.9" lengthAdjust="spacingAndGlyphs" transform="translate(360.5,478) rotate(-90)">MER/SER</text>
<text x="392.7" y="536.3" font-size="8.0" text-anchor="start" fill="#444" style="" textLength="11" lengthAdjust="spacingAndGlyphs" >&lt;10</text>
<text x="403.9" y="532.9" font-size="4.5" text-anchor="start" fill="#444" style="" >-9</text>
<text x="410.2" y="536.3" font-size="8.0" text-anchor="start" fill="#444" style="" textLength="11" lengthAdjust="spacingAndGlyphs" >&lt;10</text>
<text x="421.4" y="532.9" font-size="4.5" text-anchor="start" fill="#444" style="" >-9</text>
<rect x="619.4" y="410.8" width="63.3" height="30" fill="#fff" stroke="#333" stroke-width="1"/>
<rect x="621.1" y="412.5" width="13.7" height="6.6" fill="#787878" />
<rect x="621.1" y="421.8" width="13.7" height="6.6" fill="#0b1214" />
<rect x="621.1" y="430.6" width="13.7" height="7" fill="url(#hatch2)" />
<text x="635.6" y="418.7" font-size="9.5" text-anchor="start" fill="#2b2b2b" style="" textLength="19" lengthAdjust="spacingAndGlyphs" >MER</text>
<text x="635.6" y="428.1" font-size="9.5" text-anchor="start" fill="#2b2b2b" style="" textLength="16.5" lengthAdjust="spacingAndGlyphs" >SER</text>
<text x="635.6" y="437.3" font-size="9.5" text-anchor="start" fill="#2b2b2b" style="" textLength="45.3" lengthAdjust="spacingAndGlyphs" >MER = SER</text>
</svg></body></html>
